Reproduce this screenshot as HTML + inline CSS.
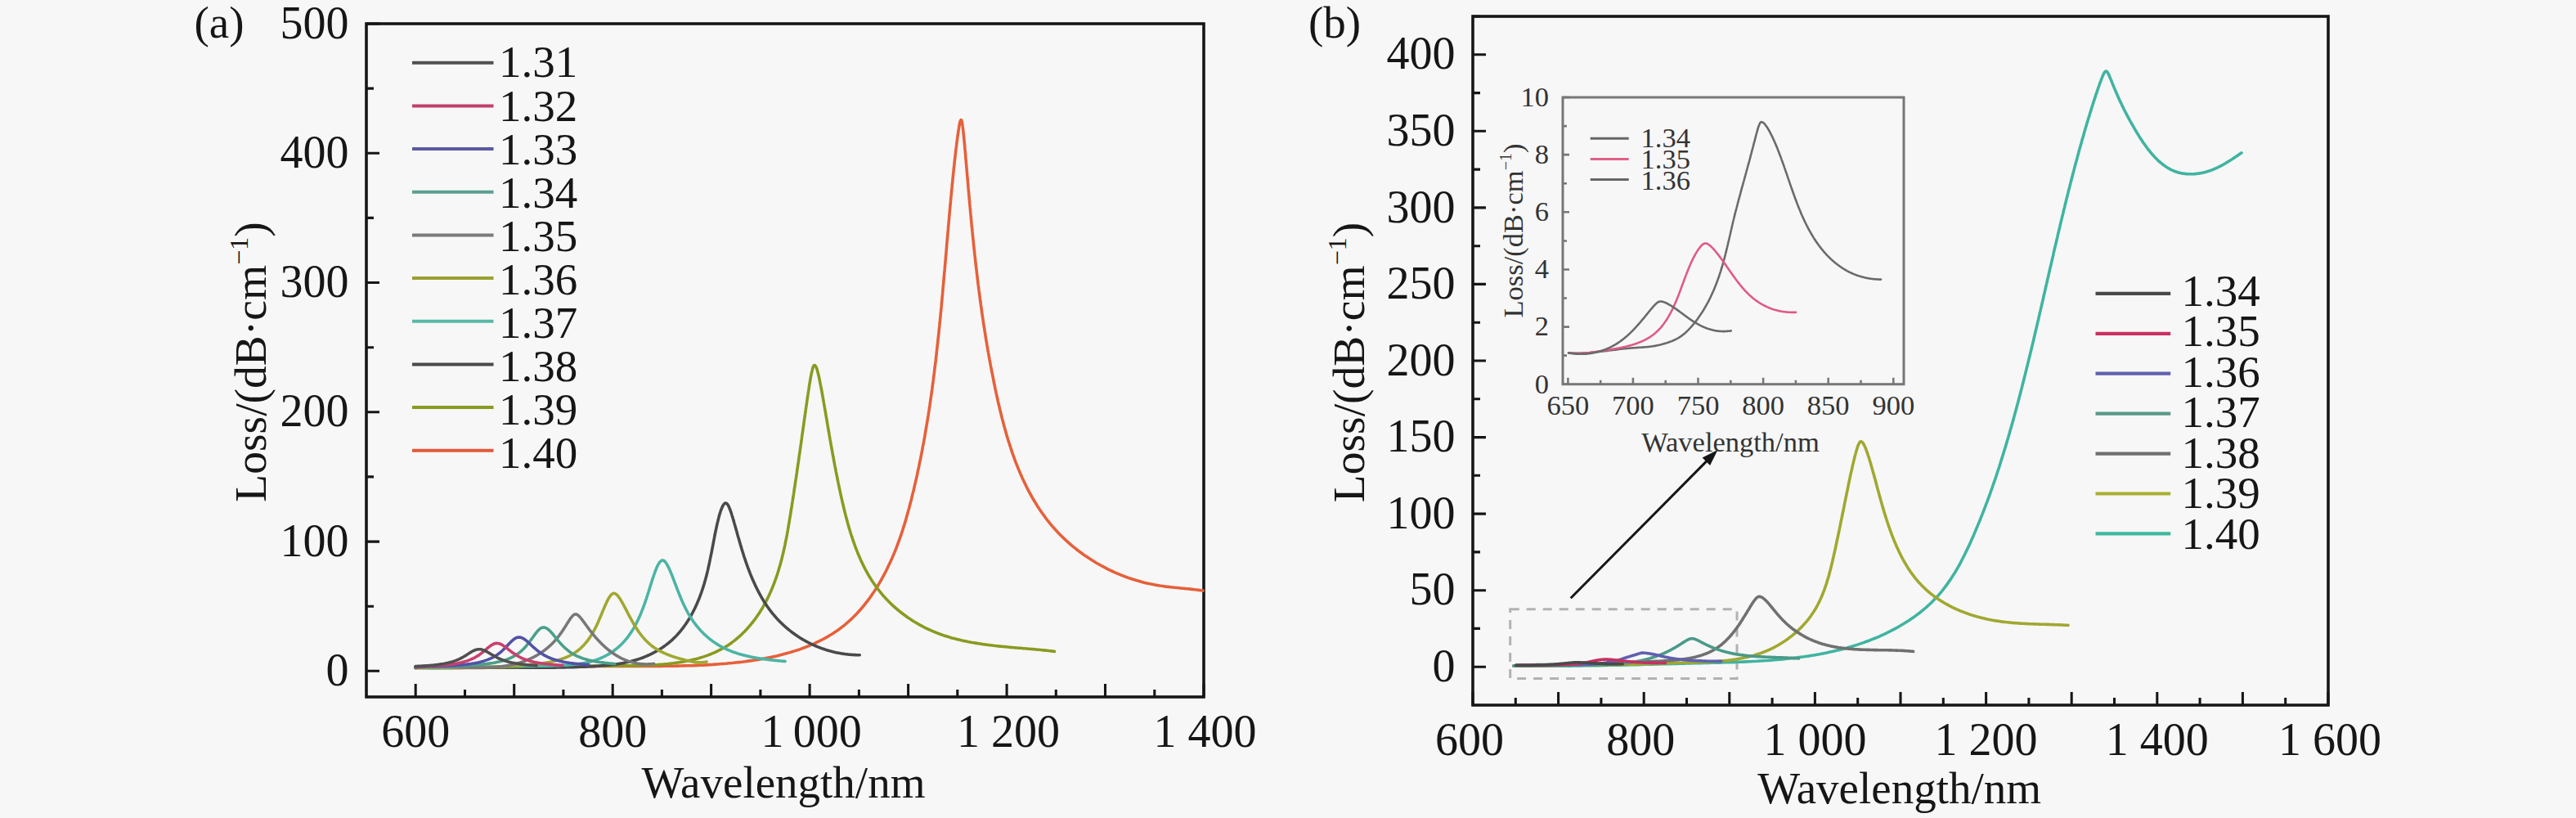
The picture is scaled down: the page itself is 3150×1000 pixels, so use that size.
<!DOCTYPE html><html><head><meta charset="utf-8"><style>html,body{margin:0;padding:0;background:#f7f7f7;width:3150px;height:1000px;overflow:hidden}svg{display:block}</style></head><body>
<svg width="3150" height="1000" viewBox="0 0 3150 1000" font-family="'Liberation Serif', serif">
<rect width="3150" height="1000" fill="#f7f7f7"/>
<rect x="448" y="29" width="1024" height="823" fill="none" stroke="#161616" stroke-width="3.6"/>
<path d="M508.2 852V836.0M568.5 852V843.0M628.7 852V836.0M688.9 852V843.0M749.2 852V836.0M809.4 852V843.0M869.6 852V836.0M929.9 852V843.0M990.1 852V836.0M1050.4 852V843.0M1110.6 852V836.0M1170.8 852V843.0M1231.1 852V836.0M1291.3 852V843.0M1351.5 852V836.0M1411.8 852V843.0M1472.0 852V836.0M448 820.3H464.0M448 741.2H457.0M448 662.1H464.0M448 582.9H457.0M448 503.8H464.0M448 424.7H457.0M448 345.5H464.0M448 266.4H457.0M448 187.3H464.0M448 108.1H457.0M448 29.0H464.0" stroke="#161616" stroke-width="3.06" fill="none"/>
<text x="508.2" y="912.5" font-size="56" text-anchor="middle" fill="#161616">600</text>
<text x="749.2" y="912.5" font-size="56" text-anchor="middle" fill="#161616">800</text>
<text x="992.1" y="912.5" font-size="56" text-anchor="middle" fill="#161616">1&#x2009;000</text>
<text x="1233.1" y="912.5" font-size="56" text-anchor="middle" fill="#161616">1 200</text>
<text x="1473.5" y="912.5" font-size="56" text-anchor="middle" fill="#161616">1 400</text>
<text x="426.5" y="838.0" font-size="56" text-anchor="end" fill="#161616">0</text>
<text x="426.5" y="679.7" font-size="56" text-anchor="end" fill="#161616">100</text>
<text x="426.5" y="521.4" font-size="56" text-anchor="end" fill="#161616">200</text>
<text x="426.5" y="363.2" font-size="56" text-anchor="end" fill="#161616">300</text>
<text x="426.5" y="204.9" font-size="56" text-anchor="end" fill="#161616">400</text>
<text x="426.5" y="46.6" font-size="56" text-anchor="end" fill="#161616">500</text>
<text x="237.5" y="46" font-size="55" fill="#161616">(a)</text>
<text x="958" y="975" font-size="55" text-anchor="middle" fill="#161616">Wavelength/nm</text>
<text transform="translate(325,442.5) rotate(-90)" x="0" y="0" font-size="55.5" text-anchor="middle" fill="#161616">Loss/(dB·cm<tspan font-size="32" dy="-22.2">−1</tspan><tspan dy="22.2">)</tspan></text>
<rect x="1801" y="20" width="1046" height="842" fill="none" stroke="#161616" stroke-width="3.6"/>
<path d="M1801.0 862V846.0M1853.3 862V853.0M1905.6 862V846.0M1957.9 862V853.0M2010.2 862V846.0M2062.5 862V853.0M2114.8 862V846.0M2167.1 862V853.0M2219.4 862V846.0M2271.7 862V853.0M2324.0 862V846.0M2376.3 862V853.0M2428.6 862V846.0M2480.9 862V853.0M2533.2 862V846.0M2585.5 862V853.0M2637.8 862V846.0M2690.1 862V853.0M2742.4 862V846.0M2794.7 862V853.0M2847.0 862V846.0M1801 815.2H1817.0M1801 768.4H1810.0M1801 721.7H1817.0M1801 674.9H1810.0M1801 628.1H1817.0M1801 581.3H1810.0M1801 534.6H1817.0M1801 487.8H1810.0M1801 441.0H1817.0M1801 394.2H1810.0M1801 347.4H1817.0M1801 300.7H1810.0M1801 253.9H1817.0M1801 207.1H1810.0M1801 160.3H1817.0M1801 113.6H1810.0M1801 66.8H1817.0M1801 20.0H1810.0" stroke="#161616" stroke-width="3.06" fill="none"/>
<text x="1797.0" y="922.5" font-size="56" text-anchor="middle" fill="#161616">600</text>
<text x="2006.2" y="922.5" font-size="56" text-anchor="middle" fill="#161616">800</text>
<text x="2219.4" y="922.5" font-size="56" text-anchor="middle" fill="#161616">1 000</text>
<text x="2428.6" y="922.5" font-size="56" text-anchor="middle" fill="#161616">1 200</text>
<text x="2637.8" y="922.5" font-size="56" text-anchor="middle" fill="#161616">1 400</text>
<text x="2849.0" y="922.5" font-size="56" text-anchor="middle" fill="#161616">1 600</text>
<text x="1779.5" y="832.9" font-size="56" text-anchor="end" fill="#161616">0</text>
<text x="1779.5" y="739.3" font-size="56" text-anchor="end" fill="#161616">50</text>
<text x="1779.5" y="645.8" font-size="56" text-anchor="end" fill="#161616">100</text>
<text x="1779.5" y="552.2" font-size="56" text-anchor="end" fill="#161616">150</text>
<text x="1779.5" y="458.6" font-size="56" text-anchor="end" fill="#161616">200</text>
<text x="1779.5" y="365.1" font-size="56" text-anchor="end" fill="#161616">250</text>
<text x="1779.5" y="271.5" font-size="56" text-anchor="end" fill="#161616">300</text>
<text x="1779.5" y="178.0" font-size="56" text-anchor="end" fill="#161616">350</text>
<text x="1779.5" y="84.4" font-size="56" text-anchor="end" fill="#161616">400</text>
<text x="1600" y="46" font-size="55" fill="#161616">(b)</text>
<text x="2322.6" y="981.5" font-size="55" text-anchor="middle" fill="#161616">Wavelength/nm</text>
<text transform="translate(1668,443) rotate(-90)" x="0" y="0" font-size="55.5" text-anchor="middle" fill="#161616">Loss/(dB·cm<tspan font-size="32" dy="-22.2">−1</tspan><tspan dy="22.2">)</tspan></text>
<rect x="1911" y="119" width="417" height="350.7" fill="none" stroke="#777777" stroke-width="3.0"/>
<path d="M1917.4 469.7V461.7M1957.2 469.7V464.7M1996.9 469.7V461.7M2036.7 469.7V464.7M2076.5 469.7V461.7M2116.3 469.7V464.7M2156.1 469.7V461.7M2195.9 469.7V464.7M2235.7 469.7V461.7M2275.5 469.7V464.7M2315.3 469.7V461.7M1911 469.7H1919.0M1911 434.6H1916.0M1911 399.6H1919.0M1911 364.5H1916.0M1911 329.4H1919.0M1911 294.4H1916.0M1911 259.3H1919.0M1911 224.2H1916.0M1911 189.1H1919.0M1911 154.1H1916.0M1911 119.0H1919.0" stroke="#777777" stroke-width="2.55" fill="none"/>
<text x="1917.4" y="507" font-size="34.5" text-anchor="middle" fill="#333333">650</text>
<text x="1996.9" y="507" font-size="34.5" text-anchor="middle" fill="#333333">700</text>
<text x="2076.5" y="507" font-size="34.5" text-anchor="middle" fill="#333333">750</text>
<text x="2156.1" y="507" font-size="34.5" text-anchor="middle" fill="#333333">800</text>
<text x="2235.7" y="507" font-size="34.5" text-anchor="middle" fill="#333333">850</text>
<text x="2315.3" y="507" font-size="34.5" text-anchor="middle" fill="#333333">900</text>
<text x="1894" y="480.6" font-size="34.5" text-anchor="end" fill="#333333">0</text>
<text x="1894" y="410.4" font-size="34.5" text-anchor="end" fill="#333333">2</text>
<text x="1894" y="340.3" font-size="34.5" text-anchor="end" fill="#333333">4</text>
<text x="1894" y="270.1" font-size="34.5" text-anchor="end" fill="#333333">6</text>
<text x="1894" y="200.0" font-size="34.5" text-anchor="end" fill="#333333">8</text>
<text x="1894" y="129.9" font-size="34.5" text-anchor="end" fill="#333333">10</text>
<text x="2116" y="551.5" font-size="34.5" text-anchor="middle" fill="#333333">Wavelength/nm</text>
<text transform="translate(1862,282) rotate(-90)" x="0" y="0" font-size="34.5" text-anchor="middle" fill="#333333">Loss/(dB·cm<tspan font-size="20" dy="-13.8">−1</tspan><tspan dy="13.8">)</tspan></text>
<rect x="1846.7" y="744.8" width="277.3" height="84.8" fill="none" stroke="#b2b2b2" stroke-width="3" stroke-dasharray="11 9"/>
<line x1="1920.7" y1="731.2" x2="2088" y2="562.6" stroke="#161616" stroke-width="3"/>
<path d="M2100.5 550 L2081.6 559.6 L2091.1 568.9 Z" fill="#161616"/>
<path d="M508.0 816.4L512.4 816.4L516.8 816.5L521.2 816.5L525.6 816.6L530.0 816.6L534.4 816.6L538.8 816.6L543.2 816.6L547.6 816.6L552.0 816.6L556.4 816.6L560.7 816.6L565.1 816.6L569.5 816.5L573.8 816.5L578.2 816.5L582.5 816.4L586.9 816.4L591.2 816.4L595.6 816.3L599.9 816.3L604.2 816.2L608.5 816.2L612.9 816.1L617.2 816.0L621.5 816.0L625.8 815.9L630.0 815.9L634.3 815.8L638.6 815.7L642.9 815.7L647.2 815.6L651.4 815.5L655.7 815.5L659.9 815.4L664.2 815.3L668.4 815.3L672.6 815.2L676.9 815.2L681.1 815.1L685.3 815.0L689.5 815.0L693.7 814.9L697.9 814.9L702.1 814.8L706.2 814.8L710.4 814.7L714.6 814.7L718.7 814.6L722.9 814.6L727.0 814.6L731.1 814.5L735.3 814.5L739.4 814.5L743.5 814.5L747.6 814.4L751.7 814.4L755.8 814.4L759.8 814.4L763.9 814.4L768.0 814.4L772.0 814.4L776.1 814.4L780.1 814.4L784.2 814.4L788.2 814.4L792.2 814.4L796.2 814.4L800.2 814.4L804.3 814.4L808.3 814.4L812.3 814.3L816.3 814.3L820.2 814.3L824.2 814.2L828.2 814.1L832.2 814.0L836.2 813.9L840.1 813.8L844.1 813.7L848.1 813.6L852.0 813.4L856.0 813.2L860.0 813.1L863.9 812.9L867.9 812.6L871.8 812.4L875.8 812.1L879.7 811.8L883.7 811.5L887.6 811.2L891.6 810.8L895.5 810.5L899.5 810.0L903.4 809.6L907.3 809.2L911.2 808.7L915.1 808.1L919.0 807.6L922.9 807.0L926.8 806.4L930.6 805.7L934.5 805.0L938.3 804.3L942.1 803.6L945.9 802.7L949.6 801.9L953.3 801.0L957.0 800.1L960.7 799.1L964.3 798.1L967.9 797.0L971.5 795.9L975.1 794.8L978.6 793.6L982.1 792.3L985.5 791.0L988.9 789.6L992.3 788.2L995.6 786.8L998.9 785.2L1002.1 783.7L1005.3 782.0L1008.5 780.4L1011.6 778.6L1014.6 776.8L1017.6 775.0L1020.6 773.0L1023.5 771.1L1026.4 769.0L1029.2 766.9L1031.9 764.8L1034.6 762.5L1037.3 760.2L1039.9 757.9L1042.4 755.5L1044.9 753.0L1047.4 750.5L1049.7 748.0L1052.1 745.3L1054.4 742.7L1056.6 740.0L1058.8 737.2L1061.0 734.4L1063.1 731.6L1065.1 728.7L1067.1 725.8L1069.1 722.9L1071.0 719.9L1072.9 717.0L1074.7 713.9L1076.5 710.9L1078.2 707.8L1079.9 704.7L1081.6 701.6L1083.2 698.5L1084.8 695.3L1086.3 692.1L1087.8 689.0L1089.3 685.8L1090.7 682.6L1092.1 679.4L1093.5 676.1L1094.8 672.9L1096.1 669.7L1097.3 666.4L1098.5 663.2L1099.7 660.0L1100.8 656.7L1102.0 653.5L1103.0 650.3L1104.1 647.1L1105.1 643.8L1106.1 640.6L1107.1 637.4L1108.0 634.2L1108.9 631.0L1109.8 627.8L1110.7 624.6L1111.6 621.4L1112.4 618.2L1113.2 615.0L1114.1 611.9L1114.9 608.7L1115.6 605.5L1116.4 602.4L1117.2 599.2L1117.9 596.1L1118.6 592.9L1119.4 589.8L1120.1 586.7L1120.8 583.6L1121.5 580.4L1122.1 577.3L1122.8 574.2L1123.5 571.2L1124.1 568.1L1124.7 565.0L1125.4 561.9L1126.0 558.9L1126.6 555.8L1127.2 552.8L1127.8 549.7L1128.3 546.7L1128.9 543.6L1129.5 540.6L1130.0 537.6L1130.6 534.6L1131.1 531.6L1131.6 528.6L1132.1 525.6L1132.6 522.6L1133.1 519.7L1133.6 516.7L1134.1 513.7L1134.6 510.8L1135.1 507.8L1135.5 504.9L1136.0 502.0L1136.4 499.0L1136.9 496.1L1137.3 493.2L1137.7 490.3L1138.1 487.4L1138.6 484.5L1139.0 481.6L1139.4 478.7L1139.8 475.9L1140.1 473.0L1140.5 470.2L1140.9 467.3L1141.3 464.5L1141.6 461.6L1142.0 458.8L1142.4 456.0L1142.7 453.2L1143.0 450.4L1143.4 447.6L1143.7 444.8L1144.1 442.0L1144.4 439.2L1144.7 436.5L1145.0 433.7L1145.3 431.0L1145.6 428.2L1145.9 425.5L1146.2 422.8L1146.5 420.1L1146.8 417.4L1147.1 414.7L1147.4 412.0L1147.7 409.3L1148.0 406.6L1148.2 404.0L1148.5 401.3L1148.8 398.7L1149.0 396.0L1149.3 393.4L1149.6 390.8L1149.8 388.2L1150.1 385.6L1150.3 383.0L1150.6 380.4L1150.8 377.8L1151.1 375.2L1151.3 372.7L1151.5 370.1L1151.8 367.6L1152.0 365.1L1152.2 362.5L1152.5 360.0L1152.7 357.5L1152.9 355.0L1153.1 352.6L1153.3 350.1L1153.6 347.6L1153.8 345.2L1154.0 342.7L1154.2 340.3L1154.4 337.9L1154.6 335.5L1154.8 333.1L1155.1 330.7L1155.3 328.3L1155.5 325.9L1155.7 323.5L1155.9 321.2L1156.1 318.9L1156.3 316.5L1156.5 314.2L1156.7 311.9L1156.9 309.6L1157.1 307.3L1157.3 305.0L1157.5 302.8L1157.6 300.5L1157.8 298.3L1158.0 296.0L1158.2 293.8L1158.4 291.6L1158.6 289.4L1158.8 287.2L1159.0 285.0L1159.2 282.9L1159.4 280.7L1159.5 278.6L1159.7 276.4L1159.9 274.3L1160.1 272.2L1160.3 270.1L1160.5 268.0L1160.6 265.9L1160.8 263.9L1161.0 261.8L1161.2 259.8L1161.4 257.8L1161.6 255.8L1161.7 253.8L1161.9 251.8L1162.1 249.8L1162.3 247.8L1162.5 245.9L1162.6 243.9L1162.8 242.0L1163.0 240.1L1163.2 238.2L1163.4 236.3L1163.5 234.5L1163.7 232.6L1163.9 230.7L1164.1 228.9L1164.2 227.1L1164.4 225.3L1164.6 223.5L1164.8 221.7L1164.9 220.0L1165.1 218.2L1165.3 216.5L1165.5 214.8L1165.6 213.1L1165.8 211.4L1166.0 209.7L1166.2 208.0L1166.3 206.4L1166.5 204.8L1166.7 203.1L1166.9 201.5L1167.0 200.0L1167.2 198.4L1167.4 196.8L1167.5 195.3L1167.7 193.8L1167.9 192.3L1168.0 190.8L1168.2 189.3L1168.4 187.9L1168.5 186.4L1168.7 185.0L1168.9 183.6L1169.0 182.2L1169.2 180.8L1169.4 179.5L1169.5 178.2L1169.7 176.9L1169.8 175.6L1170.0 174.3L1170.2 173.0L1170.3 171.8L1170.5 170.6L1170.6 169.4L1170.8 168.2L1170.9 167.1L1171.1 165.9L1171.3 164.8L1171.4 163.7L1171.6 162.7L1171.7 161.6L1171.9 160.6L1172.0 159.6L1172.2 158.6L1172.3 157.7L1172.5 156.8L1172.6 155.9L1172.7 155.0L1172.9 154.2L1173.0 153.4L1173.2 152.6L1173.3 151.8L1173.5 151.1L1173.6 150.5L1173.8 149.8L1173.9 149.2L1174.3 148.1L1174.6 147.3L1175.0 146.6L1175.6 146.8L1175.9 147.5L1176.1 148.2L1176.3 149.0L1176.5 149.8L1176.6 150.8L1176.8 151.8L1177.0 152.9L1177.1 154.0L1177.2 154.7L1177.3 155.3L1177.4 155.9L1177.4 156.6L1177.5 157.2L1177.6 157.9L1177.7 158.6L1177.8 159.3L1177.8 160.0L1177.9 160.7L1178.0 161.5L1178.1 162.2L1178.2 163.0L1178.2 163.8L1178.3 164.6L1178.4 165.4L1178.5 166.2L1178.6 167.0L1178.6 167.8L1178.7 168.7L1178.8 169.5L1178.9 170.4L1179.0 171.3L1179.1 172.2L1179.1 173.1L1179.2 174.0L1179.3 174.9L1179.4 175.8L1179.5 176.8L1179.6 177.7L1179.7 178.7L1179.8 179.6L1179.8 180.6L1179.9 181.6L1180.0 182.6L1180.1 183.6L1180.2 184.6L1180.3 185.6L1180.4 186.7L1180.5 187.7L1180.6 188.7L1180.7 189.8L1180.7 190.9L1180.8 191.9L1180.9 193.0L1181.0 194.1L1181.1 195.2L1181.2 196.3L1181.3 197.4L1181.4 198.5L1181.5 199.7L1181.6 200.8L1181.7 202.0L1181.8 203.1L1181.9 204.3L1182.0 205.4L1182.1 206.6L1182.2 207.8L1182.3 209.0L1182.4 210.2L1182.5 211.4L1182.6 212.6L1182.7 213.8L1182.8 215.1L1182.9 216.3L1183.0 217.6L1183.1 218.8L1183.3 220.1L1183.4 221.3L1183.5 222.6L1183.6 223.9L1183.7 225.2L1183.8 226.5L1183.9 227.8L1184.0 229.1L1184.1 230.4L1184.3 231.7L1184.4 233.0L1184.5 234.4L1184.6 235.7L1184.7 237.0L1184.9 238.4L1185.0 239.8L1185.1 241.1L1185.2 242.5L1185.3 243.9L1185.5 245.3L1185.6 246.6L1185.7 248.0L1185.8 249.4L1186.0 250.9L1186.1 252.3L1186.2 253.7L1186.4 255.1L1186.5 256.6L1186.6 258.0L1186.7 259.4L1186.9 260.9L1187.0 262.4L1187.2 263.8L1187.3 265.3L1187.4 266.8L1187.6 268.2L1187.7 269.7L1187.8 271.2L1188.0 272.7L1188.1 274.2L1188.3 275.8L1188.4 277.3L1188.6 278.8L1188.7 280.3L1188.9 281.9L1189.0 283.4L1189.2 284.9L1189.3 286.5L1189.5 288.1L1189.6 289.6L1189.8 291.2L1190.0 292.8L1190.1 294.3L1190.3 295.9L1190.4 297.5L1190.6 299.1L1190.8 300.7L1190.9 302.3L1191.1 303.9L1191.3 305.6L1191.5 307.2L1191.6 308.8L1191.8 310.4L1192.0 312.1L1192.2 313.7L1192.4 315.4L1192.5 317.0L1192.7 318.7L1192.9 320.4L1193.1 322.0L1193.3 323.7L1193.5 325.4L1193.7 327.1L1193.9 328.8L1194.1 330.5L1194.3 332.2L1194.5 333.9L1194.7 335.6L1194.9 337.3L1195.1 339.0L1195.3 340.8L1195.5 342.5L1195.7 344.2L1195.9 346.0L1196.1 347.7L1196.4 349.5L1196.6 351.2L1196.8 353.0L1197.0 354.8L1197.3 356.5L1197.5 358.3L1197.7 360.1L1198.0 361.9L1198.2 363.7L1198.4 365.5L1198.7 367.3L1198.9 369.1L1199.2 370.9L1199.4 372.7L1199.7 374.6L1199.9 376.4L1200.2 378.2L1200.4 380.1L1200.7 381.9L1201.0 383.8L1201.2 385.6L1201.5 387.5L1201.8 389.3L1202.1 391.2L1202.3 393.1L1202.6 395.0L1202.9 396.8L1203.2 398.7L1203.5 400.6L1203.8 402.5L1204.1 404.4L1204.4 406.3L1204.7 408.2L1205.0 410.2L1205.3 412.1L1205.6 414.0L1205.9 415.9L1206.3 417.9L1206.6 419.8L1206.9 421.8L1207.3 423.7L1207.6 425.7L1207.9 427.6L1208.3 429.6L1208.6 431.6L1209.0 433.5L1209.3 435.5L1209.7 437.5L1210.0 439.5L1210.4 441.5L1210.8 443.5L1211.1 445.5L1211.5 447.5L1211.9 449.5L1212.3 451.5L1212.7 453.6L1213.1 455.6L1213.5 457.6L1213.9 459.7L1214.3 461.7L1214.7 463.7L1215.1 465.8L1215.5 467.9L1215.9 469.9L1216.4 472.0L1216.8 474.1L1217.2 476.1L1217.7 478.2L1218.1 480.3L1218.6 482.4L1219.0 484.5L1219.5 486.6L1220.0 488.7L1220.4 490.8L1220.9 492.9L1221.4 495.0L1221.9 497.1L1222.4 499.2L1222.9 501.4L1223.4 503.5L1223.9 505.6L1224.5 507.7L1225.0 509.9L1225.5 512.0L1226.1 514.1L1226.7 516.3L1227.2 518.4L1227.8 520.6L1228.4 522.7L1229.0 524.8L1229.6 527.0L1230.2 529.1L1230.8 531.3L1231.4 533.4L1232.1 535.6L1232.7 537.7L1233.4 539.9L1234.1 542.0L1234.8 544.1L1235.5 546.3L1236.2 548.4L1236.9 550.6L1237.6 552.7L1238.3 554.8L1239.1 557.0L1239.9 559.1L1240.6 561.2L1241.4 563.4L1242.2 565.5L1243.1 567.6L1243.9 569.7L1244.7 571.8L1245.6 573.9L1246.5 576.0L1247.4 578.1L1248.3 580.2L1249.2 582.3L1250.1 584.4L1251.1 586.5L1252.1 588.6L1253.1 590.6L1254.1 592.7L1255.1 594.8L1256.1 596.8L1257.2 598.9L1258.2 600.9L1259.3 602.9L1260.4 604.9L1261.6 607.0L1262.7 609.0L1263.9 611.0L1265.1 613.0L1266.3 614.9L1267.5 616.9L1268.7 618.9L1270.0 620.8L1271.3 622.8L1272.6 624.7L1273.9 626.6L1275.3 628.5L1276.7 630.4L1278.1 632.3L1279.5 634.2L1280.9 636.1L1282.4 637.9L1283.9 639.8L1285.4 641.6L1286.9 643.4L1288.5 645.2L1290.1 647.0L1291.7 648.8L1293.3 650.5L1295.0 652.3L1296.7 654.0L1298.4 655.7L1300.2 657.4L1301.9 659.1L1303.7 660.8L1305.5 662.4L1307.4 664.1L1309.2 665.7L1311.1 667.3L1313.0 668.9L1315.0 670.4L1316.9 672.0L1318.9 673.5L1320.9 675.0L1323.0 676.5L1325.0 678.0L1327.1 679.4L1329.2 680.8L1331.3 682.2L1333.4 683.6L1335.6 685.0L1337.7 686.3L1339.9 687.7L1342.1 689.0L1344.4 690.2L1346.6 691.5L1348.9 692.7L1351.2 693.9L1353.5 695.1L1355.8 696.3L1358.1 697.4L1360.5 698.5L1362.8 699.6L1365.2 700.6L1367.6 701.6L1370.0 702.6L1372.4 703.6L1374.9 704.6L1377.3 705.5L1379.8 706.4L1382.3 707.2L1384.7 708.0L1387.2 708.8L1389.8 709.6L1392.3 710.3L1394.8 711.0L1397.4 711.7L1399.9 712.4L1402.5 713.0L1405.0 713.6L1407.6 714.1L1410.2 714.6L1412.8 715.1L1415.4 715.5L1418.0 716.0L1420.6 716.3L1423.2 716.7L1425.9 717.1L1428.5 717.4L1431.1 717.7L1433.8 718.0L1436.4 718.3L1439.1 718.5L1441.7 718.8L1444.4 719.1L1447.0 719.3L1449.7 719.6L1452.4 719.8L1455.0 720.1L1457.7 720.4L1460.4 720.7L1463.1 721.0L1465.7 721.4L1468.4 721.7L1471.1 722.1" fill="none" stroke="#e6603a" stroke-width="3.6" stroke-linejoin="round" stroke-linecap="round"/>
<path d="M508.0 816.4L510.8 816.4L513.6 816.4L516.4 816.4L519.2 816.4L522.1 816.3L524.9 816.3L527.7 816.3L530.5 816.3L533.3 816.3L536.1 816.3L538.9 816.3L541.6 816.3L544.4 816.3L547.2 816.3L550.0 816.3L552.8 816.3L555.6 816.2L558.3 816.2L561.1 816.2L563.9 816.2L566.6 816.2L569.4 816.2L572.2 816.2L574.9 816.2L577.7 816.2L580.4 816.2L583.2 816.2L585.9 816.1L588.6 816.1L591.4 816.1L594.1 816.1L596.8 816.1L599.5 816.1L602.3 816.1L605.0 816.1L607.7 816.0L610.4 816.0L613.1 816.0L615.8 816.0L618.5 816.0L621.2 816.0L623.9 815.9L626.6 815.9L629.2 815.9L631.9 815.9L634.6 815.8L637.2 815.8L639.9 815.8L642.5 815.8L645.2 815.7L647.8 815.7L650.5 815.7L653.1 815.6L655.7 815.6L658.4 815.6L661.0 815.5L663.6 815.5L666.2 815.4L668.8 815.4L671.4 815.4L674.0 815.3L676.6 815.3L679.2 815.2L681.8 815.2L684.3 815.1L686.9 815.1L689.5 815.0L692.0 815.0L694.6 814.9L697.1 814.9L699.7 814.8L702.2 814.8L704.8 814.7L707.3 814.7L709.8 814.6L712.4 814.6L714.9 814.5L717.4 814.4L719.9 814.4L722.4 814.3L725.0 814.3L727.5 814.3L730.0 814.2L732.5 814.2L735.0 814.1L737.5 814.1L740.0 814.0L742.5 814.0L745.0 814.0L747.6 813.9L750.1 813.9L752.6 813.9L755.1 813.8L757.6 813.8L760.1 813.8L762.6 813.8L765.1 813.7L767.6 813.7L770.1 813.7L772.5 813.7L775.0 813.6L777.5 813.6L780.0 813.5L782.5 813.5L785.0 813.4L787.4 813.3L789.9 813.3L792.4 813.2L794.8 813.1L797.3 813.0L799.7 812.8L802.1 812.7L804.6 812.6L807.0 812.4L809.4 812.2L811.8 812.0L814.2 811.8L816.6 811.6L819.0 811.3L821.4 811.0L823.8 810.7L826.1 810.4L828.5 810.1L830.8 809.7L833.2 809.4L835.5 809.0L837.8 808.5L840.1 808.1L842.4 807.6L844.7 807.1L847.0 806.6L849.2 806.0L851.5 805.5L853.7 804.9L855.9 804.2L858.1 803.6L860.3 802.9L862.5 802.1L864.6 801.4L866.7 800.6L868.8 799.8L870.9 798.9L873.0 798.1L875.0 797.2L877.0 796.2L879.0 795.2L881.0 794.2L882.9 793.2L884.8 792.1L886.7 791.0L888.6 789.9L890.4 788.7L892.2 787.5L894.0 786.2L895.7 784.9L897.5 783.6L899.1 782.3L900.8 780.9L902.5 779.5L904.1 778.1L905.7 776.7L907.2 775.2L908.7 773.7L910.3 772.2L911.7 770.7L913.2 769.1L914.6 767.5L916.0 765.9L917.4 764.3L918.7 762.7L920.1 761.0L921.4 759.4L922.7 757.7L923.9 756.0L925.1 754.3L926.3 752.6L927.5 750.8L928.7 749.1L929.8 747.3L930.9 745.5L932.0 743.8L933.0 742.0L934.0 740.2L935.0 738.4L936.0 736.6L937.0 734.7L937.9 732.9L938.8 731.1L939.7 729.2L940.6 727.4L941.4 725.5L942.3 723.7L943.1 721.8L943.9 720.0L944.6 718.1L945.4 716.2L946.1 714.3L946.8 712.5L947.5 710.6L948.2 708.7L948.9 706.8L949.5 704.9L950.2 703.0L950.8 701.2L951.4 699.3L952.0 697.4L952.5 695.5L953.1 693.6L953.6 691.7L954.2 689.8L954.7 687.9L955.2 686.0L955.7 684.1L956.2 682.2L956.6 680.3L957.1 678.4L957.6 676.5L958.0 674.7L958.4 672.8L958.8 670.9L959.3 669.0L959.7 667.1L960.1 665.3L960.4 663.4L960.8 661.5L961.2 659.7L961.6 657.8L961.9 655.9L962.3 654.1L962.6 652.2L962.9 650.4L963.3 648.6L963.6 646.7L963.9 644.9L964.2 643.1L964.5 641.2L964.8 639.4L965.2 637.6L965.4 635.8L965.7 634.0L966.0 632.2L966.3 630.5L966.6 628.7L966.9 626.9L967.2 625.1L967.4 623.4L967.7 621.6L968.0 619.9L968.3 618.2L968.5 616.4L968.8 614.7L969.1 613.0L969.3 611.3L969.6 609.6L969.9 607.9L970.1 606.2L970.4 604.5L970.6 602.9L970.9 601.2L971.1 599.5L971.4 597.9L971.6 596.3L971.9 594.6L972.1 593.0L972.4 591.4L972.6 589.7L972.8 588.1L973.1 586.5L973.3 584.9L973.6 583.3L973.8 581.8L974.0 580.2L974.3 578.6L974.5 577.1L974.7 575.5L974.9 574.0L975.2 572.4L975.4 570.9L975.6 569.3L975.8 567.8L976.0 566.3L976.3 564.8L976.5 563.3L976.7 561.8L976.9 560.3L977.1 558.8L977.3 557.4L977.5 555.9L977.8 554.4L978.0 553.0L978.2 551.5L978.4 550.1L978.6 548.6L978.8 547.2L979.0 545.8L979.2 544.4L979.4 543.0L979.6 541.6L979.8 540.2L980.0 538.8L980.2 537.4L980.4 536.0L980.5 534.7L980.7 533.3L980.9 532.0L981.1 530.6L981.3 529.3L981.5 527.9L981.7 526.6L981.9 525.3L982.0 524.0L982.2 522.7L982.4 521.4L982.6 520.1L982.8 518.8L982.9 517.6L983.1 516.3L983.3 515.0L983.5 513.8L983.6 512.5L983.8 511.3L984.0 510.1L984.2 508.9L984.3 507.6L984.5 506.4L984.7 505.2L984.8 504.0L985.0 502.9L985.2 501.7L985.3 500.5L985.5 499.4L985.7 498.2L985.8 497.1L986.0 495.9L986.2 494.8L986.3 493.7L986.5 492.6L986.6 491.5L986.8 490.4L986.9 489.3L987.1 488.2L987.3 487.2L987.4 486.1L987.6 485.1L987.7 484.0L987.9 483.0L988.0 482.0L988.2 481.0L988.3 480.0L988.5 479.0L988.6 478.0L988.8 477.0L988.9 476.1L989.1 475.1L989.2 474.2L989.3 473.2L989.5 472.3L989.6 471.4L989.8 470.5L989.9 469.6L990.1 468.7L990.2 467.9L990.4 467.0L990.5 466.2L990.6 465.3L990.8 464.5L990.9 463.7L991.1 462.9L991.2 462.1L991.3 461.4L991.5 460.6L991.6 459.8L991.8 459.1L991.9 458.4L992.0 457.7L992.2 457.0L992.3 456.3L992.4 455.7L992.6 455.0L992.7 454.4L992.9 453.8L993.2 452.6L993.4 451.5L993.7 450.5L994.0 449.5L994.3 448.7L994.7 447.9L995.0 447.3L995.7 446.6L996.3 446.6L996.9 447.0L997.4 447.7L997.9 448.6L998.2 449.2L998.5 449.9L998.7 450.7L999.0 451.5L999.3 452.4L999.5 453.3L999.8 454.2L1000.1 455.2L1000.3 456.2L1000.6 457.2L1000.8 458.3L1001.1 459.5L1001.4 460.6L1001.6 461.8L1001.8 462.4L1001.9 463.0L1002.0 463.6L1002.1 464.3L1002.3 464.9L1002.4 465.5L1002.5 466.2L1002.7 466.9L1002.8 467.5L1002.9 468.2L1003.1 468.9L1003.2 469.6L1003.4 470.2L1003.5 470.9L1003.6 471.6L1003.8 472.4L1003.9 473.1L1004.0 473.8L1004.2 474.5L1004.3 475.3L1004.4 476.0L1004.6 476.8L1004.7 477.5L1004.9 478.3L1005.0 479.0L1005.1 479.8L1005.3 480.6L1005.4 481.4L1005.6 482.2L1005.7 483.0L1005.9 483.8L1006.0 484.6L1006.1 485.4L1006.3 486.2L1006.4 487.0L1006.6 487.8L1006.7 488.7L1006.9 489.5L1007.0 490.4L1007.2 491.2L1007.3 492.1L1007.5 492.9L1007.6 493.8L1007.8 494.7L1007.9 495.5L1008.1 496.4L1008.2 497.3L1008.4 498.2L1008.5 499.1L1008.7 500.0L1008.8 500.9L1009.0 501.8L1009.2 502.7L1009.3 503.7L1009.5 504.6L1009.6 505.5L1009.8 506.4L1009.9 507.4L1010.1 508.3L1010.3 509.3L1010.4 510.2L1010.6 511.2L1010.8 512.2L1010.9 513.1L1011.1 514.1L1011.3 515.1L1011.4 516.1L1011.6 517.1L1011.8 518.0L1011.9 519.0L1012.1 520.0L1012.3 521.0L1012.4 522.1L1012.6 523.1L1012.8 524.1L1013.0 525.1L1013.1 526.1L1013.3 527.2L1013.5 528.2L1013.7 529.2L1013.9 530.3L1014.0 531.3L1014.2 532.4L1014.4 533.5L1014.6 534.5L1014.8 535.6L1015.0 536.7L1015.1 537.7L1015.3 538.8L1015.5 539.9L1015.7 541.0L1015.9 542.1L1016.1 543.2L1016.3 544.3L1016.5 545.4L1016.7 546.5L1016.9 547.6L1017.1 548.7L1017.3 549.8L1017.5 551.0L1017.7 552.1L1017.9 553.2L1018.1 554.4L1018.3 555.5L1018.5 556.7L1018.7 557.8L1019.0 559.0L1019.2 560.1L1019.4 561.3L1019.6 562.5L1019.8 563.7L1020.0 564.8L1020.3 566.0L1020.5 567.2L1020.7 568.4L1020.9 569.6L1021.2 570.8L1021.4 572.0L1021.6 573.2L1021.9 574.4L1022.1 575.6L1022.3 576.8L1022.6 578.1L1022.8 579.3L1023.1 580.5L1023.3 581.8L1023.6 583.0L1023.8 584.3L1024.1 585.5L1024.3 586.8L1024.6 588.0L1024.8 589.3L1025.1 590.6L1025.4 591.8L1025.6 593.1L1025.9 594.4L1026.2 595.7L1026.4 597.0L1026.7 598.3L1027.0 599.5L1027.3 600.9L1027.6 602.2L1027.8 603.5L1028.1 604.8L1028.4 606.1L1028.7 607.4L1029.0 608.8L1029.3 610.1L1029.6 611.4L1029.9 612.8L1030.2 614.1L1030.5 615.5L1030.8 616.8L1031.2 618.2L1031.5 619.5L1031.8 620.9L1032.1 622.3L1032.5 623.6L1032.8 625.0L1033.2 626.4L1033.5 627.7L1033.9 629.1L1034.2 630.5L1034.6 631.9L1034.9 633.3L1035.3 634.7L1035.7 636.1L1036.1 637.5L1036.4 638.9L1036.8 640.3L1037.2 641.7L1037.6 643.1L1038.0 644.5L1038.4 645.9L1038.9 647.3L1039.3 648.7L1039.7 650.1L1040.1 651.5L1040.6 652.9L1041.0 654.3L1041.5 655.7L1042.0 657.1L1042.4 658.5L1042.9 659.9L1043.4 661.4L1043.9 662.8L1044.4 664.2L1044.9 665.6L1045.4 667.0L1045.9 668.4L1046.4 669.8L1047.0 671.2L1047.5 672.6L1048.1 674.0L1048.6 675.4L1049.2 676.8L1049.8 678.2L1050.4 679.6L1051.0 681.0L1051.6 682.4L1052.2 683.8L1052.8 685.2L1053.5 686.6L1054.1 687.9L1054.8 689.3L1055.5 690.7L1056.1 692.1L1056.8 693.4L1057.5 694.8L1058.2 696.1L1059.0 697.5L1059.7 698.8L1060.4 700.2L1061.2 701.5L1062.0 702.9L1062.7 704.2L1063.5 705.5L1064.3 706.8L1065.2 708.2L1066.0 709.5L1066.8 710.8L1067.7 712.1L1068.6 713.4L1069.5 714.6L1070.4 715.9L1071.3 717.2L1072.2 718.4L1073.1 719.7L1074.1 720.9L1075.1 722.2L1076.1 723.4L1077.1 724.6L1078.1 725.9L1079.1 727.1L1080.1 728.3L1081.2 729.4L1082.3 730.6L1083.3 731.8L1084.4 733.0L1085.6 734.1L1086.7 735.3L1087.8 736.4L1089.0 737.5L1090.1 738.7L1091.3 739.8L1092.5 740.9L1093.7 742.0L1094.9 743.0L1096.2 744.1L1097.4 745.2L1098.7 746.2L1100.0 747.3L1101.2 748.3L1102.5 749.3L1103.8 750.3L1105.2 751.3L1106.5 752.3L1107.9 753.3L1109.2 754.2L1110.6 755.2L1112.0 756.1L1113.4 757.1L1114.8 758.0L1116.2 758.9L1117.6 759.8L1119.1 760.7L1120.6 761.5L1122.0 762.4L1123.5 763.2L1125.0 764.1L1126.5 764.9L1128.0 765.7L1129.5 766.5L1131.1 767.3L1132.6 768.0L1134.2 768.8L1135.8 769.5L1137.3 770.2L1138.9 770.9L1140.5 771.6L1142.2 772.3L1143.8 773.0L1145.4 773.6L1147.1 774.3L1148.7 774.9L1150.4 775.5L1152.0 776.1L1153.7 776.7L1155.4 777.2L1157.1 777.8L1158.8 778.3L1160.5 778.8L1162.3 779.4L1164.0 779.9L1165.7 780.3L1167.5 780.8L1169.2 781.3L1171.0 781.7L1172.8 782.1L1174.6 782.6L1176.4 783.0L1178.2 783.4L1180.0 783.7L1181.8 784.1L1183.6 784.5L1185.4 784.8L1187.2 785.2L1189.1 785.5L1190.9 785.8L1192.8 786.1L1194.6 786.4L1196.5 786.7L1198.3 787.0L1200.2 787.3L1202.1 787.6L1203.9 787.8L1205.8 788.1L1207.7 788.3L1209.6 788.6L1211.5 788.8L1213.4 789.0L1215.3 789.3L1217.2 789.5L1219.1 789.7L1221.0 789.9L1222.9 790.1L1224.8 790.3L1226.7 790.5L1228.7 790.6L1230.6 790.8L1232.5 791.0L1234.4 791.2L1236.3 791.4L1238.3 791.5L1240.2 791.7L1242.1 791.9L1244.0 792.0L1245.9 792.2L1247.9 792.3L1249.8 792.5L1251.7 792.7L1253.6 792.8L1255.5 793.0L1257.5 793.2L1259.4 793.3L1261.3 793.5L1263.2 793.6L1265.1 793.8L1267.0 794.0L1268.9 794.2L1270.8 794.3L1272.7 794.5L1274.6 794.7L1276.5 794.9L1278.3 795.1L1280.2 795.3L1282.1 795.5L1283.9 795.7L1285.8 795.9L1287.7 796.2L1289.5 796.4" fill="none" stroke="#8a9a20" stroke-width="3.6" stroke-linejoin="round" stroke-linecap="round"/>
<path d="M508.0 816.4L509.9 816.3L511.8 816.2L513.7 816.2L515.6 816.1L517.4 816.0L519.3 816.0L521.2 815.9L523.1 815.8L524.9 815.8L526.8 815.7L528.7 815.7L530.5 815.7L532.4 815.6L534.2 815.6L536.1 815.5L538.0 815.5L539.8 815.5L541.6 815.5L543.5 815.4L545.3 815.4L547.2 815.4L549.0 815.4L550.8 815.4L552.7 815.3L554.5 815.3L556.3 815.3L558.1 815.3L560.0 815.3L561.8 815.3L563.6 815.3L565.4 815.3L567.2 815.3L569.0 815.3L570.8 815.3L572.6 815.3L574.4 815.4L576.2 815.4L578.0 815.4L579.8 815.4L581.6 815.4L583.4 815.4L585.1 815.4L586.9 815.5L588.7 815.5L590.5 815.5L592.2 815.5L594.0 815.5L595.8 815.6L597.6 815.6L599.3 815.6L601.1 815.6L602.8 815.6L604.6 815.7L606.3 815.7L608.1 815.7L609.8 815.7L611.6 815.8L613.3 815.8L615.1 815.8L616.8 815.8L618.5 815.9L620.3 815.9L622.0 815.9L623.7 815.9L625.4 815.9L627.2 816.0L628.9 816.0L630.6 816.0L632.3 816.0L634.0 816.0L635.7 816.1L637.4 816.1L639.2 816.1L640.9 816.1L642.6 816.1L644.3 816.1L646.0 816.1L647.6 816.1L649.3 816.2L651.0 816.2L652.7 816.2L654.4 816.2L656.1 816.2L657.8 816.2L659.4 816.2L661.1 816.2L662.8 816.2L664.4 816.2L666.1 816.2L667.8 816.2L669.4 816.2L671.1 816.1L672.8 816.1L674.4 816.1L676.1 816.1L677.7 816.1L679.4 816.1L681.0 816.0L682.7 816.0L684.3 816.0L685.9 816.0L687.6 815.9L689.2 815.9L690.8 815.9L692.5 815.8L694.1 815.8L695.7 815.7L697.3 815.7L699.0 815.7L700.6 815.6L702.2 815.6L703.8 815.5L705.4 815.4L707.0 815.4L708.6 815.3L710.2 815.3L711.8 815.2L713.4 815.1L715.0 815.1L716.6 815.0L718.2 814.9L719.8 814.8L721.4 814.7L723.0 814.6L724.5 814.6L726.1 814.5L727.7 814.4L729.3 814.3L730.8 814.2L732.4 814.1L734.0 814.0L735.5 813.8L737.1 813.7L738.7 813.6L740.2 813.4L741.7 813.3L743.3 813.2L744.8 813.0L746.4 812.8L747.9 812.7L749.4 812.5L750.9 812.3L752.4 812.1L753.9 811.9L755.4 811.7L756.9 811.4L758.4 811.2L759.9 810.9L761.4 810.7L762.8 810.4L764.3 810.1L765.8 809.8L767.2 809.5L768.6 809.2L770.1 808.8L771.5 808.5L772.9 808.1L774.3 807.7L775.7 807.3L777.1 806.9L778.5 806.5L779.9 806.1L781.2 805.6L782.6 805.1L783.9 804.7L785.3 804.2L786.6 803.7L787.9 803.2L789.2 802.6L790.5 802.1L791.8 801.5L793.1 801.0L794.4 800.4L795.6 799.8L796.9 799.2L798.1 798.6L799.3 797.9L800.5 797.3L801.7 796.6L802.9 796.0L804.1 795.3L805.3 794.6L806.4 793.9L807.6 793.2L808.7 792.4L809.8 791.7L810.9 790.9L812.0 790.2L813.1 789.4L814.2 788.6L815.2 787.8L816.3 787.0L817.3 786.2L818.3 785.3L819.3 784.5L820.3 783.7L821.3 782.8L822.3 781.9L823.2 781.0L824.1 780.1L825.1 779.2L826.0 778.3L826.9 777.4L827.8 776.4L828.6 775.5L829.5 774.5L830.4 773.6L831.2 772.6L832.0 771.6L832.8 770.6L833.6 769.6L834.4 768.6L835.2 767.6L835.9 766.6L836.7 765.5L837.4 764.5L838.2 763.5L838.9 762.4L839.6 761.4L840.3 760.3L841.0 759.3L841.6 758.2L842.3 757.1L843.0 756.1L843.6 755.0L844.2 753.9L844.9 752.8L845.5 751.7L846.1 750.6L846.7 749.5L847.2 748.4L847.8 747.3L848.4 746.2L848.9 745.1L849.5 744.0L850.0 742.9L850.5 741.8L851.0 740.7L851.6 739.6L852.1 738.5L852.5 737.4L853.0 736.2L853.5 735.1L854.0 734.0L854.4 732.9L854.9 731.8L855.3 730.7L855.7 729.6L856.1 728.4L856.6 727.3L857.0 726.2L857.4 725.1L857.8 724.0L858.1 722.9L858.5 721.8L858.9 720.7L859.3 719.6L859.6 718.5L860.0 717.4L860.3 716.3L860.6 715.2L861.0 714.1L861.3 713.1L861.6 712.0L861.9 710.9L862.2 709.8L862.5 708.7L862.8 707.7L863.1 706.6L863.4 705.5L863.7 704.5L863.9 703.4L864.2 702.4L864.5 701.3L864.7 700.3L865.0 699.2L865.2 698.2L865.5 697.1L865.7 696.1L865.9 695.1L866.2 694.0L866.4 693.0L866.6 692.0L866.9 691.0L867.1 690.0L867.3 689.0L867.5 688.0L867.7 687.0L867.9 686.0L868.1 685.0L868.3 684.0L868.5 683.0L868.7 682.0L868.9 681.0L869.1 680.1L869.3 679.1L869.5 678.2L869.7 677.2L869.9 676.3L870.1 675.3L870.3 674.4L870.4 673.4L870.6 672.5L870.8 671.6L871.0 670.7L871.1 669.8L871.3 668.8L871.5 667.9L871.7 667.0L871.8 666.2L872.0 665.3L872.2 664.4L872.3 663.5L872.5 662.6L872.7 661.8L872.8 660.9L873.0 660.1L873.1 659.2L873.3 658.4L873.5 657.5L873.6 656.7L873.8 655.9L873.9 655.1L874.1 654.3L874.3 653.4L874.4 652.6L874.6 651.9L874.7 651.1L874.9 650.3L875.1 649.5L875.2 648.7L875.4 648.0L875.5 647.2L875.7 646.5L875.8 645.7L876.0 645.0L876.2 644.3L876.3 643.5L876.5 642.8L876.6 642.1L876.8 641.4L876.9 640.7L877.1 640.0L877.3 639.3L877.4 638.7L877.6 638.0L877.7 637.3L877.9 636.7L878.1 636.0L878.2 635.4L878.4 634.7L878.5 634.1L878.7 633.5L878.9 632.9L879.0 632.3L879.3 631.1L879.7 629.9L880.0 628.8L880.3 627.7L880.6 626.7L881.0 625.6L881.3 624.6L881.6 623.7L882.0 622.8L882.3 621.9L882.7 621.0L883.0 620.2L883.4 619.5L883.7 618.7L884.1 618.0L884.5 617.4L885.0 616.6L885.7 615.9L886.4 615.3L887.4 615.0L888.1 615.2L888.8 615.6L889.4 616.3L889.9 617.0L890.4 617.8L890.8 618.5L891.1 619.2L891.5 619.9L891.8 620.7L892.1 621.5L892.5 622.4L892.8 623.3L893.1 623.9L893.3 624.5L893.5 625.2L893.7 625.8L894.0 626.5L894.2 627.2L894.4 627.9L894.7 628.6L894.9 629.4L895.1 630.1L895.4 630.9L895.6 631.6L895.8 632.4L896.1 633.2L896.3 634.0L896.6 634.9L896.8 635.7L897.1 636.5L897.3 637.4L897.6 638.3L897.8 639.2L898.1 640.1L898.3 641.0L898.6 641.9L898.9 642.8L899.1 643.8L899.4 644.7L899.7 645.7L899.9 646.6L900.2 647.6L900.5 648.6L900.8 649.6L901.1 650.6L901.4 651.7L901.6 652.7L901.9 653.7L902.2 654.8L902.5 655.9L902.8 656.9L903.2 658.0L903.5 659.1L903.8 660.2L904.1 661.3L904.4 662.4L904.8 663.6L905.1 664.7L905.4 665.8L905.8 667.0L906.1 668.2L906.5 669.3L906.8 670.5L907.2 671.7L907.5 672.9L907.9 674.1L908.1 674.7L908.3 675.3L908.5 675.9L908.7 676.5L908.9 677.1L909.1 677.7L909.2 678.3L909.4 678.9L909.6 679.5L909.8 680.2L910.0 680.8L910.2 681.4L910.4 682.0L910.7 682.6L910.9 683.3L911.1 683.9L911.3 684.5L911.5 685.1L911.7 685.8L911.9 686.4L912.1 687.0L912.4 687.7L912.6 688.3L912.8 689.0L913.0 689.6L913.3 690.2L913.5 690.9L913.7 691.5L913.9 692.2L914.2 692.8L914.4 693.4L914.6 694.1L914.9 694.7L915.1 695.4L915.4 696.0L915.6 696.7L915.9 697.3L916.1 698.0L916.4 698.6L916.6 699.3L916.9 700.0L917.1 700.6L917.4 701.3L917.7 701.9L917.9 702.6L918.2 703.2L918.4 703.9L918.7 704.6L919.0 705.2L919.3 705.9L919.5 706.5L919.8 707.2L920.1 707.9L920.4 708.5L920.7 709.2L921.0 709.9L921.3 710.5L921.6 711.2L921.9 711.9L922.2 712.5L922.5 713.2L922.8 713.9L923.1 714.5L923.4 715.2L923.7 715.9L924.0 716.5L924.3 717.2L924.7 717.9L925.0 718.5L925.3 719.2L925.7 719.9L926.0 720.6L926.3 721.2L926.7 721.9L927.0 722.6L927.4 723.2L927.7 723.9L928.1 724.6L928.4 725.2L928.8 725.9L929.1 726.6L929.5 727.2L929.9 727.9L930.3 728.6L930.6 729.2L931.0 729.9L931.4 730.5L931.8 731.2L932.2 731.9L932.6 732.5L933.0 733.2L933.4 733.9L933.8 734.5L934.2 735.2L934.6 735.8L935.0 736.5L935.4 737.1L935.9 737.8L936.3 738.4L936.7 739.1L937.2 739.8L937.6 740.4L938.0 741.1L938.5 741.7L938.9 742.3L939.4 743.0L939.9 743.6L940.3 744.3L940.8 744.9L941.3 745.6L941.8 746.2L942.2 746.8L942.7 747.5L943.2 748.1L943.7 748.7L944.2 749.4L944.7 750.0L945.2 750.6L945.7 751.2L946.3 751.9L946.8 752.5L947.3 753.1L947.9 753.7L948.4 754.3L948.9 755.0L949.5 755.6L950.0 756.2L950.6 756.8L951.2 757.4L951.7 758.0L952.9 759.2L954.0 760.4L955.2 761.5L955.8 762.1L956.4 762.7L957.1 763.3L957.7 763.9L958.3 764.4L958.9 765.0L959.5 765.6L960.2 766.1L960.8 766.7L961.5 767.3L962.1 767.8L962.8 768.4L963.4 768.9L964.1 769.5L964.8 770.0L965.4 770.6L966.1 771.1L966.8 771.6L967.5 772.2L968.2 772.7L968.9 773.2L969.6 773.7L970.3 774.3L971.0 774.8L971.7 775.3L972.4 775.8L973.1 776.3L973.9 776.8L974.6 777.3L975.3 777.8L976.1 778.3L976.8 778.7L977.6 779.2L978.3 779.7L979.1 780.2L979.8 780.6L980.6 781.1L981.4 781.6L982.2 782.0L982.9 782.5L983.7 782.9L984.5 783.4L985.3 783.8L986.1 784.2L986.9 784.7L987.7 785.1L988.5 785.5L989.3 785.9L990.2 786.3L991.0 786.8L991.8 787.2L992.7 787.6L993.5 787.9L994.3 788.3L995.2 788.7L996.0 789.1L996.9 789.5L997.7 789.8L998.6 790.2L999.5 790.6L1000.3 790.9L1001.2 791.3L1002.1 791.6L1002.9 791.9L1003.8 792.3L1004.7 792.6L1005.6 792.9L1006.5 793.2L1007.4 793.5L1008.3 793.8L1009.2 794.1L1010.1 794.4L1011.0 794.7L1012.0 795.0L1012.9 795.3L1013.8 795.5L1014.7 795.8L1015.7 796.0L1016.6 796.3L1017.5 796.5L1018.5 796.8L1019.4 797.0L1020.4 797.2L1021.3 797.5L1022.3 797.7L1023.2 797.9L1024.2 798.1L1025.2 798.3L1026.1 798.4L1027.1 798.6L1028.1 798.8L1029.1 799.0L1030.0 799.1L1031.0 799.3L1032.0 799.4L1033.0 799.5L1034.0 799.7L1035.0 799.8L1036.0 799.9L1037.0 800.0L1038.0 800.1L1039.0 800.2L1040.0 800.3L1041.0 800.4L1042.0 800.4L1043.1 800.5L1044.1 800.5L1045.1 800.6L1046.1 800.6L1047.2 800.7L1048.2 800.7L1049.2 800.7L1050.3 800.7L1051.3 800.7" fill="none" stroke="#4a4a4a" stroke-width="3.6" stroke-linejoin="round" stroke-linecap="round"/>
<path d="M508.0 816.4L509.4 816.4L510.8 816.5L512.2 816.5L513.6 816.5L515.0 816.5L516.4 816.5L517.8 816.6L519.2 816.6L520.6 816.6L522.0 816.6L523.3 816.6L524.7 816.6L526.1 816.6L527.5 816.6L528.8 816.6L530.2 816.6L531.6 816.6L533.0 816.6L534.3 816.6L535.7 816.6L537.0 816.6L538.4 816.6L539.8 816.5L541.1 816.5L542.5 816.5L543.8 816.5L545.2 816.5L546.5 816.5L547.8 816.4L549.2 816.4L550.5 816.4L551.9 816.4L553.2 816.4L554.5 816.3L555.9 816.3L557.2 816.3L558.5 816.2L559.8 816.2L561.2 816.2L562.5 816.2L563.8 816.1L565.1 816.1L566.4 816.1L567.7 816.0L569.1 816.0L570.4 816.0L571.7 815.9L573.0 815.9L574.3 815.9L575.6 815.8L576.9 815.8L578.2 815.8L579.5 815.7L580.8 815.7L582.0 815.7L583.3 815.6L584.6 815.6L585.9 815.6L587.2 815.5L588.5 815.5L589.7 815.5L591.0 815.4L592.3 815.4L593.6 815.4L594.8 815.4L596.1 815.3L597.4 815.3L598.6 815.3L599.9 815.2L601.2 815.2L602.4 815.2L603.7 815.1L604.9 815.1L606.2 815.1L607.4 815.1L608.7 815.0L609.9 815.0L611.2 815.0L612.4 815.0L613.7 814.9L614.9 814.9L616.2 814.9L617.4 814.9L618.6 814.8L619.9 814.8L621.1 814.8L622.3 814.8L623.6 814.8L624.8 814.8L626.0 814.7L627.2 814.7L628.5 814.7L629.7 814.7L630.9 814.7L632.1 814.7L633.3 814.6L634.5 814.6L635.7 814.6L637.0 814.6L638.2 814.6L639.4 814.6L640.6 814.5L641.8 814.5L643.0 814.5L644.2 814.5L645.4 814.5L646.6 814.5L647.8 814.5L649.0 814.4L650.2 814.4L651.4 814.4L652.6 814.4L653.8 814.4L654.9 814.3L656.1 814.3L657.3 814.3L658.5 814.3L659.7 814.3L660.9 814.2L662.0 814.2L663.2 814.2L664.4 814.2L665.6 814.1L666.8 814.1L667.9 814.1L669.1 814.1L670.3 814.0L671.5 814.0L672.6 814.0L673.8 813.9L675.0 813.9L676.1 813.9L677.3 813.8L678.5 813.8L679.6 813.7L680.8 813.7L681.9 813.7L683.1 813.6L684.3 813.6L685.4 813.5L686.6 813.5L687.7 813.4L688.9 813.3L690.0 813.3L691.2 813.2L692.3 813.1L693.4 813.1L694.6 813.0L695.7 812.9L696.8 812.8L697.9 812.7L699.1 812.6L700.2 812.5L701.3 812.4L702.4 812.3L703.5 812.2L704.6 812.0L705.7 811.9L706.8 811.8L707.8 811.6L708.9 811.4L710.0 811.3L711.1 811.1L712.1 810.9L713.2 810.7L714.2 810.6L715.3 810.4L716.3 810.1L717.4 809.9L718.4 809.7L719.4 809.5L720.4 809.2L721.4 809.0L722.4 808.7L723.4 808.4L724.4 808.1L725.4 807.9L726.4 807.6L727.4 807.3L728.3 806.9L729.3 806.6L730.2 806.3L731.2 805.9L732.1 805.6L733.0 805.2L734.0 804.8L734.9 804.4L735.8 804.0L736.7 803.6L737.6 803.2L738.4 802.8L739.3 802.4L740.2 801.9L741.0 801.5L741.9 801.0L742.7 800.5L743.6 800.1L744.4 799.6L745.2 799.1L746.0 798.6L746.8 798.1L747.6 797.6L748.4 797.1L749.2 796.5L750.0 796.0L750.7 795.4L751.5 794.9L752.2 794.3L753.0 793.8L753.7 793.2L754.4 792.6L755.1 792.0L755.9 791.4L756.5 790.8L757.2 790.2L757.9 789.6L758.6 789.0L759.2 788.3L759.9 787.7L760.5 787.1L761.2 786.4L761.8 785.7L762.4 785.1L763.0 784.4L763.6 783.7L764.2 783.1L764.8 782.4L765.4 781.7L766.0 781.0L766.5 780.3L767.1 779.6L767.6 778.9L768.1 778.2L768.7 777.5L769.2 776.7L769.7 776.0L770.2 775.3L770.7 774.6L771.2 773.8L771.7 773.1L772.2 772.3L772.7 771.6L773.1 770.9L773.6 770.1L774.0 769.4L774.5 768.6L774.9 767.9L775.4 767.1L775.8 766.3L776.2 765.6L776.6 764.8L777.0 764.1L777.4 763.3L777.8 762.5L778.2 761.8L778.6 761.0L779.0 760.3L779.4 759.5L779.7 758.7L780.1 758.0L780.5 757.2L780.8 756.4L781.2 755.7L781.5 754.9L781.9 754.1L782.2 753.4L782.5 752.6L782.9 751.9L783.2 751.1L783.5 750.4L783.8 749.6L784.1 748.8L784.4 748.1L784.7 747.3L785.0 746.6L785.3 745.8L785.6 745.1L785.9 744.4L786.2 743.6L786.5 742.9L786.7 742.1L787.0 741.4L787.3 740.7L787.5 739.9L787.8 739.2L788.1 738.5L788.3 737.8L788.6 737.0L788.8 736.3L789.1 735.6L789.3 734.9L789.5 734.2L789.8 733.5L790.0 732.8L790.3 732.1L790.5 731.4L790.7 730.7L790.9 730.0L791.2 729.3L791.4 728.6L791.6 728.0L791.8 727.3L792.0 726.6L792.2 726.0L792.5 725.3L792.7 724.6L792.9 724.0L793.1 723.3L793.3 722.7L793.5 722.0L793.7 721.4L793.9 720.7L794.1 720.1L794.3 719.5L794.5 718.8L794.7 718.2L794.9 717.6L795.1 717.0L795.3 716.4L795.4 715.8L795.6 715.2L796.0 714.0L796.4 712.8L796.7 711.6L797.1 710.5L797.5 709.4L797.8 708.3L798.2 707.2L798.5 706.1L798.9 705.1L799.2 704.1L799.6 703.0L799.9 702.1L800.3 701.1L800.6 700.2L800.9 699.2L801.3 698.3L801.6 697.4L802.0 696.6L802.3 695.8L802.6 694.9L803.0 694.2L803.3 693.4L803.7 692.6L804.0 691.9L804.3 691.2L804.7 690.6L805.0 689.9L805.4 689.3L805.9 688.5L806.5 687.7L807.0 687.0L807.6 686.3L808.2 685.8L808.9 685.3L809.7 685.0L810.6 685.0L811.2 685.2L811.9 685.5L812.5 686.0L813.2 686.6L813.7 687.3L814.3 687.9L814.8 688.7L815.3 689.5L815.7 690.1L816.0 690.8L816.4 691.5L816.8 692.2L817.2 692.9L817.6 693.7L817.9 694.5L818.3 695.3L818.7 696.2L819.1 697.0L819.5 697.9L819.7 698.5L820.0 699.1L820.2 699.8L820.5 700.4L820.8 701.1L821.0 701.7L821.3 702.4L821.6 703.1L821.8 703.7L822.1 704.4L822.4 705.1L822.7 705.8L822.9 706.6L823.2 707.3L823.5 708.0L823.8 708.8L824.1 709.5L824.4 710.3L824.7 711.1L824.9 711.8L825.2 712.6L825.5 713.4L825.9 714.2L826.2 715.0L826.5 715.8L826.8 716.7L827.1 717.5L827.4 718.3L827.7 719.2L828.1 720.0L828.4 720.9L828.7 721.7L829.1 722.6L829.4 723.5L829.8 724.3L830.1 725.2L830.5 726.1L830.8 727.0L831.2 727.9L831.6 728.8L831.9 729.7L832.3 730.6L832.7 731.5L833.1 732.5L833.5 733.4L833.9 734.3L834.3 735.2L834.7 736.2L835.1 737.1L835.6 738.1L836.0 739.0L836.5 739.9L836.9 740.9L837.4 741.8L837.8 742.8L838.3 743.7L838.8 744.7L839.3 745.6L839.8 746.6L840.3 747.5L840.8 748.5L841.3 749.4L841.9 750.4L842.4 751.3L843.0 752.3L843.6 753.2L844.1 754.2L844.7 755.1L845.3 756.0L845.9 757.0L846.6 757.9L847.2 758.8L847.8 759.7L848.5 760.7L849.2 761.6L849.9 762.5L850.5 763.4L851.2 764.3L852.0 765.2L852.7 766.1L853.4 767.0L854.2 767.9L855.0 768.8L855.7 769.6L856.5 770.5L857.3 771.4L858.1 772.2L859.0 773.1L859.8 773.9L860.6 774.8L861.5 775.6L862.4 776.4L863.3 777.2L864.2 778.0L865.1 778.8L866.0 779.6L867.0 780.4L867.9 781.2L868.9 781.9L869.9 782.7L870.9 783.4L871.9 784.2L872.9 784.9L873.9 785.6L875.0 786.3L876.1 787.0L877.1 787.7L878.2 788.3L879.3 789.0L880.5 789.7L881.6 790.3L882.7 790.9L883.9 791.5L885.1 792.1L886.3 792.7L886.9 793.0L887.5 793.3L888.1 793.6L888.7 793.8L889.3 794.1L889.9 794.4L890.5 794.6L891.2 794.9L891.8 795.2L892.4 795.4L893.1 795.7L893.7 795.9L894.3 796.2L895.0 796.4L895.6 796.7L896.3 796.9L896.9 797.2L897.6 797.4L898.3 797.6L898.9 797.8L899.6 798.1L900.3 798.3L900.9 798.5L901.6 798.7L902.3 798.9L903.0 799.2L903.6 799.4L904.3 799.6L905.0 799.8L905.7 800.0L906.4 800.2L907.1 800.3L907.8 800.5L908.5 800.7L909.2 800.9L909.9 801.1L910.6 801.3L911.3 801.4L912.0 801.6L912.7 801.8L913.4 802.0L914.2 802.1L914.9 802.3L915.6 802.5L916.3 802.6L917.1 802.8L917.8 802.9L918.5 803.1L919.2 803.2L920.0 803.4L920.7 803.5L921.5 803.7L922.2 803.8L922.9 803.9L923.7 804.1L924.4 804.2L925.2 804.3L925.9 804.5L926.6 804.6L927.4 804.7L928.1 804.8L928.9 804.9L929.7 805.1L930.4 805.2L931.2 805.3L931.9 805.4L932.7 805.5L933.4 805.6L934.2 805.7L934.9 805.8L935.7 805.9L936.5 806.0L937.2 806.1L938.0 806.2L938.7 806.3L939.5 806.4L940.3 806.5L941.0 806.6L941.8 806.7L942.6 806.8L943.3 806.9L944.1 807.0L944.8 807.0L945.6 807.1L946.4 807.2L947.1 807.3L947.9 807.4L948.7 807.4L949.4 807.5L950.2 807.6L950.9 807.7L951.7 807.7L952.5 807.8L953.2 807.9L954.0 808.0L954.7 808.0L955.5 808.1L956.2 808.2L957.0 808.2L957.7 808.3L958.5 808.4L959.3 808.4L960.0 808.5" fill="none" stroke="#4cb4a4" stroke-width="3.6" stroke-linejoin="round" stroke-linecap="round"/>
<path d="M508.0 816.4L509.1 816.4L510.1 816.3L511.2 816.3L512.2 816.3L513.3 816.2L514.4 816.2L515.4 816.2L516.5 816.2L517.5 816.1L518.6 816.1L519.6 816.1L520.7 816.1L521.7 816.1L522.8 816.0L523.8 816.0L524.8 816.0L525.9 816.0L526.9 816.0L527.9 816.0L529.0 815.9L530.0 815.9L531.0 815.9L532.1 815.9L533.1 815.9L534.1 815.9L535.2 815.9L536.2 815.9L537.2 815.9L538.2 815.8L539.2 815.8L540.3 815.8L541.3 815.8L542.3 815.8L543.3 815.8L544.3 815.8L545.3 815.8L546.3 815.8L547.3 815.8L548.3 815.8L549.3 815.8L550.4 815.8L551.4 815.8L552.4 815.8L553.4 815.8L554.4 815.8L555.3 815.8L556.3 815.8L557.3 815.8L558.3 815.7L559.3 815.7L560.3 815.7L561.3 815.7L562.3 815.7L563.3 815.7L564.2 815.7L565.2 815.7L566.2 815.7L567.2 815.7L568.2 815.7L569.1 815.7L570.1 815.7L571.1 815.7L572.1 815.7L573.0 815.7L574.0 815.7L575.0 815.7L575.9 815.7L576.9 815.7L577.9 815.6L578.8 815.6L579.8 815.6L580.8 815.6L581.7 815.6L582.7 815.6L583.6 815.6L584.6 815.6L585.5 815.6L586.5 815.6L587.4 815.5L588.4 815.5L589.3 815.5L590.3 815.5L591.2 815.5L592.2 815.5L593.1 815.4L594.1 815.4L595.0 815.4L595.9 815.4L596.9 815.4L597.8 815.4L598.8 815.3L599.7 815.3L600.6 815.3L601.5 815.3L602.5 815.2L603.4 815.2L604.3 815.2L605.3 815.2L606.2 815.1L607.1 815.1L608.0 815.1L608.9 815.0L609.9 815.0L610.8 815.0L611.7 814.9L612.6 814.9L613.5 814.9L614.4 814.8L615.4 814.8L616.3 814.8L617.2 814.7L618.1 814.7L619.0 814.6L619.9 814.6L620.8 814.5L621.7 814.5L622.6 814.5L623.5 814.4L624.4 814.4L625.3 814.3L626.2 814.3L627.1 814.2L628.0 814.2L628.9 814.1L629.8 814.0L630.6 814.0L631.5 813.9L632.4 813.9L633.3 813.8L634.2 813.8L635.1 813.7L636.0 813.6L636.8 813.6L637.7 813.5L638.6 813.4L639.5 813.4L640.3 813.3L641.2 813.2L642.1 813.1L643.0 813.1L643.8 813.0L644.7 812.9L645.6 812.8L646.4 812.8L647.3 812.7L648.2 812.6L649.0 812.5L649.9 812.4L650.7 812.3L651.6 812.3L652.5 812.2L653.3 812.1L654.2 812.0L655.0 811.9L655.9 811.8L656.7 811.7L657.5 811.6L658.4 811.5L659.2 811.4L660.1 811.3L660.9 811.2L661.7 811.1L662.6 811.0L663.4 810.8L664.2 810.7L665.0 810.6L665.9 810.5L666.7 810.3L667.5 810.2L668.3 810.1L669.1 809.9L669.9 809.8L670.7 809.7L671.5 809.5L672.3 809.4L673.1 809.2L673.9 809.0L674.6 808.9L675.4 808.7L676.2 808.5L677.0 808.4L677.7 808.2L678.5 808.0L679.2 807.8L680.0 807.6L680.7 807.4L681.5 807.2L682.2 807.0L683.0 806.8L683.7 806.6L684.4 806.4L685.1 806.1L685.8 805.9L686.5 805.7L687.2 805.4L687.9 805.2L688.6 805.0L689.3 804.7L690.0 804.4L690.7 804.2L691.4 803.9L692.0 803.6L692.7 803.4L693.4 803.1L694.0 802.8L694.6 802.5L695.3 802.2L695.9 801.9L696.6 801.6L697.2 801.3L697.8 801.0L698.4 800.6L699.0 800.3L699.6 800.0L700.8 799.3L702.0 798.6L703.1 797.8L704.2 797.1L705.3 796.3L706.3 795.5L707.4 794.7L708.4 793.8L709.4 793.0L710.4 792.1L711.3 791.2L712.2 790.3L713.2 789.4L714.0 788.4L714.9 787.5L715.7 786.5L716.6 785.6L717.4 784.6L718.2 783.6L718.9 782.6L719.7 781.6L720.4 780.5L721.1 779.5L721.8 778.5L722.5 777.4L723.2 776.4L723.8 775.3L724.4 774.3L725.1 773.2L725.7 772.1L726.2 771.1L726.8 770.0L727.4 768.9L727.9 767.9L728.5 766.8L729.0 765.7L729.5 764.7L730.0 763.6L730.5 762.6L731.0 761.5L731.4 760.5L731.9 759.5L732.3 758.4L732.8 757.4L733.2 756.4L733.6 755.4L734.1 754.4L734.5 753.4L734.9 752.4L735.3 751.5L735.7 750.5L736.1 749.6L736.4 748.7L736.8 747.7L737.2 746.8L737.6 746.0L737.9 745.1L738.3 744.2L738.7 743.4L739.0 742.5L739.4 741.7L739.7 740.9L740.1 740.1L740.4 739.3L740.7 738.6L741.1 737.8L741.4 737.1L741.7 736.4L742.1 735.7L742.4 735.0L742.7 734.4L743.1 733.7L743.4 733.1L743.7 732.5L744.2 731.6L744.7 730.8L745.2 730.0L745.7 729.3L746.2 728.6L746.7 728.0L747.3 727.2L748.1 726.5L748.8 726.0L749.5 725.6L750.3 725.4L751.0 725.4L751.7 725.5L752.3 725.8L753.0 726.2L753.7 726.6L754.3 727.2L755.0 727.8L755.6 728.5L756.2 729.2L756.6 729.9L757.1 730.5L757.6 731.2L758.1 731.9L758.6 732.7L759.0 733.5L759.4 734.1L759.8 734.7L760.1 735.3L760.5 735.9L760.9 736.6L761.3 737.3L761.6 738.0L762.0 738.7L762.4 739.4L762.8 740.1L763.2 740.8L763.6 741.6L764.0 742.3L764.4 743.1L764.8 743.9L765.2 744.7L765.6 745.5L766.1 746.3L766.5 747.1L766.9 748.0L767.4 748.8L767.8 749.7L768.2 750.5L768.7 751.4L769.2 752.3L769.6 753.2L770.1 754.1L770.4 754.7L770.8 755.3L771.1 755.9L771.4 756.5L771.7 757.1L772.1 757.7L772.4 758.3L772.8 758.9L773.1 759.6L773.5 760.2L773.8 760.8L774.2 761.4L774.6 762.1L774.9 762.7L775.3 763.3L775.7 764.0L776.1 764.6L776.4 765.2L776.8 765.9L777.2 766.5L777.6 767.1L778.0 767.8L778.4 768.4L778.9 769.1L779.3 769.7L779.7 770.3L780.1 771.0L780.6 771.6L781.0 772.3L781.5 772.9L781.9 773.5L782.4 774.2L782.9 774.8L783.4 775.4L783.8 776.1L784.3 776.7L784.8 777.3L785.3 778.0L785.9 778.6L786.4 779.2L786.9 779.8L787.4 780.4L788.0 781.0L788.5 781.6L789.1 782.3L789.7 782.9L790.6 783.8L791.4 784.6L792.1 785.2L792.7 785.8L793.3 786.4L793.9 786.9L794.6 787.5L795.2 788.1L795.9 788.6L796.6 789.2L797.3 789.7L798.0 790.2L798.7 790.8L799.4 791.3L800.1 791.8L800.9 792.3L801.7 792.8L802.4 793.3L803.2 793.8L804.0 794.2L804.8 794.7L805.6 795.1L806.4 795.6L807.3 796.0L808.1 796.5L809.0 796.9L809.9 797.3L810.7 797.7L811.6 798.2L812.5 798.6L813.4 798.9L814.3 799.3L815.2 799.7L816.2 800.1L817.1 800.5L818.0 800.8L819.0 801.2L819.9 801.5L820.9 801.9L821.8 802.2L822.8 802.5L823.8 802.9L824.8 803.2L825.7 803.5L826.7 803.8L827.7 804.1L828.7 804.4L829.7 804.7L830.7 805.0L831.7 805.3L832.7 805.5L833.7 805.8L834.7 806.1L835.7 806.3L836.7 806.6L837.7 806.9L838.7 807.1L839.7 807.4L840.7 807.6L841.7 807.9L842.7 808.1L843.7 808.3L844.7 808.6L845.7 808.8L846.7 809.0L847.7 809.2L848.7 809.3L849.7 809.5L850.7 809.6L851.8 809.7L852.8 809.8L853.9 809.9L854.9 809.9L856.0 809.9L857.1 809.9L858.2 809.9L859.3 809.8L860.5 809.6L861.6 809.5L862.8 809.3L864.0 809.0" fill="none" stroke="#a0a830" stroke-width="3.6" stroke-linejoin="round" stroke-linecap="round"/>
<path d="M508.0 816.4L508.8 816.3L509.5 816.2L510.3 816.1L511.1 816.0L511.9 816.0L512.6 815.9L513.4 815.8L514.2 815.7L515.0 815.7L515.8 815.6L516.5 815.6L517.3 815.5L518.1 815.4L518.9 815.4L519.7 815.3L520.4 815.3L521.2 815.3L522.0 815.2L522.8 815.2L523.6 815.2L524.3 815.1L525.1 815.1L525.9 815.1L526.7 815.1L527.5 815.0L528.2 815.0L529.0 815.0L529.8 815.0L530.6 815.0L531.4 815.0L532.1 815.0L532.9 815.0L533.7 815.0L534.5 814.9L535.3 815.0L536.1 815.0L536.8 815.0L537.6 815.0L538.4 815.0L539.2 815.0L539.9 815.0L540.7 815.0L541.5 815.0L542.3 815.0L543.1 815.0L543.8 815.1L544.6 815.1L545.4 815.1L546.2 815.1L546.9 815.1L547.7 815.1L548.5 815.2L549.3 815.2L550.0 815.2L550.8 815.2L551.6 815.3L552.3 815.3L553.1 815.3L553.9 815.3L554.6 815.4L555.4 815.4L556.2 815.4L556.9 815.4L557.7 815.5L558.5 815.5L559.2 815.5L560.0 815.5L560.8 815.6L561.5 815.6L562.3 815.6L563.0 815.6L563.8 815.7L564.5 815.7L565.3 815.7L566.1 815.8L566.8 815.8L567.6 815.8L568.3 815.8L569.1 815.8L569.8 815.9L570.6 815.9L571.3 815.9L572.0 815.9L572.8 816.0L573.5 816.0L574.3 816.0L575.0 816.0L575.8 816.0L576.5 816.0L577.2 816.1L578.0 816.1L578.7 816.1L579.4 816.1L580.2 816.1L580.9 816.1L581.6 816.1L582.3 816.1L583.1 816.1L583.8 816.1L584.5 816.1L585.2 816.1L586.0 816.1L586.7 816.1L587.4 816.1L588.1 816.1L588.8 816.1L589.5 816.1L590.2 816.1L590.9 816.1L591.6 816.1L592.4 816.1L593.1 816.1L593.8 816.1L594.5 816.0L595.2 816.0L595.9 816.0L596.5 816.0L597.2 815.9L597.9 815.9L598.6 815.9L599.3 815.9L600.0 815.8L600.7 815.8L601.4 815.7L602.0 815.7L602.7 815.7L603.4 815.6L604.1 815.6L604.7 815.5L605.4 815.5L606.1 815.4L606.8 815.4L607.4 815.3L608.1 815.3L608.8 815.2L609.4 815.1L610.1 815.1L610.7 815.0L611.4 814.9L612.0 814.9L612.7 814.8L613.3 814.7L614.0 814.6L614.6 814.5L615.3 814.5L615.9 814.4L616.5 814.3L617.2 814.2L617.8 814.1L618.4 814.0L619.1 813.9L619.7 813.8L620.3 813.7L621.0 813.6L621.6 813.5L622.2 813.4L622.8 813.3L623.4 813.1L624.0 813.0L624.7 812.9L625.3 812.8L625.9 812.6L626.5 812.5L627.1 812.4L627.7 812.2L628.9 812.0L630.1 811.7L631.2 811.4L632.4 811.1L633.6 810.7L634.7 810.4L635.9 810.1L637.0 809.7L638.1 809.3L639.2 809.0L640.3 808.6L641.4 808.2L642.5 807.8L643.6 807.3L644.7 806.9L645.7 806.5L646.8 806.0L647.8 805.5L648.9 805.1L649.9 804.6L650.9 804.1L651.9 803.6L652.9 803.1L653.8 802.6L654.8 802.1L655.8 801.5L656.7 801.0L657.6 800.4L658.6 799.9L659.5 799.3L660.4 798.7L661.3 798.2L662.1 797.6L663.0 797.0L663.8 796.4L664.7 795.8L665.5 795.2L666.3 794.6L667.1 793.9L667.9 793.3L668.7 792.7L669.5 792.0L670.3 791.4L671.0 790.7L671.7 790.1L672.5 789.4L673.2 788.8L673.9 788.1L674.6 787.4L675.3 786.8L675.9 786.1L676.6 785.4L677.2 784.8L677.9 784.1L678.5 783.4L679.1 782.7L679.7 782.0L680.3 781.3L680.9 780.6L681.4 780.0L682.0 779.3L682.5 778.6L683.1 777.9L683.6 777.2L684.1 776.5L684.6 775.8L685.1 775.1L685.6 774.5L686.1 773.8L686.6 773.1L687.0 772.4L687.5 771.8L687.9 771.1L688.4 770.4L688.8 769.8L689.2 769.1L689.6 768.5L690.1 767.9L690.5 767.2L690.9 766.6L691.3 766.0L691.6 765.4L692.0 764.8L692.6 763.9L693.1 763.0L693.7 762.1L694.2 761.3L694.7 760.5L695.2 759.7L695.7 758.9L696.2 758.1L696.7 757.4L697.2 756.7L697.6 756.0L698.1 755.4L698.6 754.8L699.2 754.0L699.8 753.3L700.4 752.6L701.1 752.1L701.7 751.6L702.5 751.2L703.1 751.0L704.1 750.9L704.8 751.0L705.5 751.3L706.1 751.6L706.8 752.1L707.5 752.7L708.2 753.3L708.8 754.0L709.4 754.6L709.9 755.2L710.5 755.9L711.0 756.6L711.6 757.3L712.1 757.9L712.5 758.6L713.0 759.2L713.5 759.9L714.0 760.5L714.5 761.2L715.0 761.9L715.5 762.6L716.0 763.4L716.6 764.1L717.1 764.9L717.7 765.7L718.3 766.4L718.8 767.2L719.3 767.8L719.7 768.4L720.2 769.0L720.7 769.7L721.1 770.3L721.6 770.9L722.1 771.5L722.6 772.2L723.1 772.8L723.6 773.5L724.1 774.1L724.6 774.8L725.2 775.4L725.7 776.1L726.2 776.7L726.8 777.4L727.4 778.1L727.9 778.7L728.5 779.4L729.1 780.1L729.7 780.7L730.3 781.4L730.9 782.1L731.5 782.8L732.2 783.4L732.8 784.1L733.5 784.8L734.1 785.5L734.8 786.1L735.5 786.8L736.1 787.5L736.8 788.2L737.6 788.8L738.3 789.5L739.0 790.2L739.7 790.8L740.5 791.5L741.2 792.1L742.0 792.8L742.8 793.4L743.5 794.1L744.3 794.7L745.1 795.3L746.0 796.0L746.8 796.6L747.6 797.2L748.5 797.8L749.3 798.4L750.2 799.0L751.1 799.6L752.0 800.2L752.9 800.8L753.5 801.1L754.1 801.5L754.7 801.9L755.3 802.2L755.9 802.6L756.6 802.9L757.2 803.3L757.8 803.6L758.5 804.0L759.1 804.3L759.8 804.6L760.5 805.0L761.1 805.3L761.8 805.6L762.5 805.9L763.2 806.2L763.8 806.5L764.5 806.8L765.2 807.1L765.9 807.4L766.6 807.6L767.4 807.9L768.1 808.2L768.8 808.4L769.5 808.6L770.3 808.9L771.0 809.1L771.8 809.3L772.5 809.5L773.3 809.8L774.0 809.9L774.8 810.1L775.6 810.3L776.3 810.5L777.1 810.7L777.9 810.8L778.7 811.0L779.5 811.1L780.3 811.2L781.1 811.3L782.0 811.5L782.8 811.6L783.6 811.6L784.4 811.7L785.3 811.8L786.1 811.9L787.0 811.9L787.8 811.9L788.7 812.0L789.6 812.0L790.4 812.0L791.3 812.0L792.2 812.0L793.1 811.9L794.0 811.9L794.9 811.8L795.8 811.8L796.7 811.7L797.7 811.6L798.6 811.5L799.5 811.4" fill="none" stroke="#787878" stroke-width="3.6" stroke-linejoin="round" stroke-linecap="round"/>
<path d="M508.2 815.4L509.7 815.3L511.2 815.3L512.7 815.3L514.2 815.3L515.7 815.3L517.2 815.2L518.7 815.2L520.2 815.2L521.7 815.2L523.2 815.1L524.7 815.1L526.2 815.1L527.7 815.1L529.2 815.0L530.7 815.0L532.2 815.0L533.7 814.9L535.2 814.9L536.7 814.9L538.2 814.8L539.7 814.8L541.2 814.8L542.7 814.7L544.2 814.7L545.7 814.6L547.2 814.6L548.7 814.5L550.2 814.5L551.7 814.4L553.2 814.4L554.7 814.3L556.2 814.3L557.7 814.2L559.2 814.2L560.7 814.1L562.2 814.0L563.7 814.0L565.2 813.9L566.7 813.8L568.2 813.8L569.7 813.7L571.2 813.6L572.7 813.5L574.2 813.4L575.7 813.3L577.2 813.2L578.7 813.1L580.2 813.0L581.7 812.9L583.2 812.8L584.7 812.7L586.2 812.5L587.7 812.4L589.2 812.2L590.7 812.1L592.2 811.9L593.7 811.7L595.2 811.5L596.7 811.4L598.2 811.1L599.7 810.9L601.2 810.7L602.7 810.5L604.2 810.2L605.7 809.9L607.2 809.6L608.7 809.3L610.2 809.0L611.7 808.6L613.2 808.2L614.7 807.8L616.2 807.4L617.7 806.9L619.2 806.4L620.7 805.8L622.2 805.2L623.7 804.6L625.2 803.9L626.7 803.2L628.2 802.4L629.7 801.5L631.2 800.6L632.7 799.6L634.2 798.5L635.7 797.3L637.2 796.1L638.7 794.7L640.2 793.2L641.7 791.7L643.2 790.0L644.7 788.2L646.2 786.3L647.7 784.4L649.2 782.3L650.7 780.3L652.2 778.2L653.7 776.1L655.2 774.1L656.7 772.2L658.2 770.5L659.7 769.1L661.2 768.0L662.7 767.3L664.2 767.0L665.7 767.1L667.2 767.5L668.7 768.3L670.2 769.3L671.7 770.6L673.2 772.0L674.7 773.7L676.2 775.4L677.7 777.3L679.2 779.1L680.7 781.0L682.2 782.8L683.7 784.6L685.2 786.3L686.7 787.9L688.2 789.5L689.7 791.0L691.2 792.4L692.7 793.7L694.2 794.9L695.7 796.1L697.2 797.2L698.7 798.2L700.2 799.1L701.7 800.0L703.2 800.8L704.7 801.6L706.2 802.3L707.7 802.9L709.2 803.5L710.7 804.1L712.2 804.7L713.7 805.2L715.2 805.6L716.7 806.1L718.2 806.5L719.7 806.9L721.2 807.3L722.7 807.6L724.2 807.9L725.7 808.2L727.2 808.5L728.7 808.8L730.2 809.0L731.7 809.3L733.2 809.5L734.7 809.7L736.2 809.9L737.7 810.1L739.2 810.3L740.7 810.5L742.2 810.6L743.7 810.8L745.2 811.0L746.7 811.1L748.2 811.2L749.7 811.4L751.2 811.5L752.0 811.5" fill="none" stroke="#4aa08a" stroke-width="3.6" stroke-linejoin="round" stroke-linecap="round"/>
<path d="M508.2 815.2L509.7 815.2L511.2 815.2L512.7 815.1L514.2 815.1L515.7 815.1L517.2 815.0L518.7 815.0L520.2 815.0L521.7 814.9L523.2 814.9L524.7 814.8L526.2 814.8L527.7 814.8L529.2 814.7L530.7 814.7L532.2 814.6L533.7 814.6L535.2 814.5L536.7 814.5L538.2 814.4L539.7 814.3L541.2 814.3L542.7 814.2L544.2 814.1L545.7 814.1L547.2 814.0L548.7 813.9L550.2 813.8L551.7 813.7L553.2 813.7L554.7 813.6L556.2 813.5L557.7 813.3L559.2 813.2L560.7 813.1L562.2 813.0L563.7 812.9L565.2 812.7L566.7 812.6L568.2 812.4L569.7 812.2L571.2 812.1L572.7 811.9L574.2 811.7L575.7 811.5L577.2 811.2L578.7 811.0L580.2 810.8L581.7 810.5L583.2 810.2L584.7 809.9L586.2 809.5L587.7 809.2L589.2 808.8L590.7 808.4L592.2 807.9L593.7 807.4L595.2 806.9L596.7 806.4L598.2 805.7L599.7 805.1L601.2 804.4L602.7 803.6L604.2 802.8L605.7 801.9L607.2 800.9L608.7 799.9L610.2 798.8L611.7 797.6L613.2 796.3L614.7 795.0L616.2 793.5L617.7 792.1L619.2 790.5L620.7 788.9L622.2 787.3L623.7 785.8L625.2 784.3L626.7 782.9L628.2 781.6L629.7 780.6L631.2 779.7L632.7 779.2L634.2 779.0L635.7 779.1L637.2 779.4L638.7 780.0L640.2 780.8L641.7 781.8L643.2 782.9L644.7 784.1L646.2 785.5L647.7 786.9L649.2 788.3L650.7 789.7L652.2 791.1L653.7 792.4L655.2 793.7L656.7 795.0L658.2 796.1L659.7 797.3L661.2 798.3L662.7 799.3L664.2 800.2L665.7 801.1L667.2 801.9L668.7 802.7L670.2 803.4L671.7 804.0L673.2 804.7L674.7 805.2L676.2 805.8L677.7 806.3L679.2 806.7L680.7 807.2L682.2 807.6L683.7 808.0L685.2 808.3L686.7 808.6L688.2 809.0L689.7 809.3L691.2 809.5L692.7 809.8L694.2 810.0L695.7 810.3L697.2 810.5L698.7 810.7L700.2 810.9L701.7 811.1L703.2 811.2L704.7 811.4L706.2 811.5L707.7 811.7L709.2 811.8L710.7 812.0L712.2 812.1L713.7 812.2L715.2 812.3L716.7 812.4L718.2 812.5L719.7 812.6" fill="none" stroke="#5252a8" stroke-width="3.6" stroke-linejoin="round" stroke-linecap="round"/>
<path d="M508.2 814.9L509.7 814.8L511.2 814.8L512.7 814.7L514.2 814.7L515.7 814.6L517.2 814.6L518.7 814.5L520.2 814.5L521.7 814.4L523.2 814.3L524.7 814.3L526.2 814.2L527.7 814.1L529.2 814.0L530.7 814.0L532.2 813.9L533.7 813.8L535.2 813.7L536.7 813.6L538.2 813.5L539.7 813.3L541.2 813.2L542.7 813.1L544.2 812.9L545.7 812.8L547.2 812.6L548.7 812.5L550.2 812.3L551.7 812.1L553.2 811.9L554.7 811.7L556.2 811.4L557.7 811.2L559.2 810.9L560.7 810.6L562.2 810.3L563.7 810.0L565.2 809.6L566.7 809.2L568.2 808.8L569.7 808.4L571.2 807.9L572.7 807.4L574.2 806.8L575.7 806.2L577.2 805.5L578.7 804.8L580.2 804.1L581.7 803.2L583.2 802.3L584.7 801.4L586.2 800.4L587.7 799.3L589.2 798.1L590.7 797.0L592.2 795.7L593.7 794.5L595.2 793.2L596.7 791.9L598.2 790.7L599.7 789.6L601.2 788.6L602.7 787.7L604.2 787.0L605.7 786.6L607.2 786.4L608.7 786.5L610.2 786.7L611.7 787.2L613.2 787.9L614.7 788.8L616.2 789.7L617.7 790.8L619.2 792.0L620.7 793.1L622.2 794.3L623.7 795.5L625.2 796.6L626.7 797.8L628.2 798.8L629.7 799.8L631.2 800.8L632.7 801.7L634.2 802.5L635.7 803.3L637.2 804.1L638.7 804.8L640.2 805.4L641.7 806.0L643.2 806.5L644.7 807.1L646.2 807.5L647.7 808.0L649.2 808.4L650.7 808.8L652.2 809.1L653.7 809.5L655.2 809.8L656.7 810.1L658.2 810.3L659.7 810.6L661.2 810.8L662.7 811.0L664.2 811.3L665.7 811.5L667.2 811.6L668.7 811.8L670.2 812.0L671.7 812.1L673.2 812.3L674.7 812.4L676.2 812.5L677.7 812.7L679.2 812.8L680.7 812.9L682.2 813.0L683.7 813.1L685.2 813.2L686.7 813.3L688.0 813.3" fill="none" stroke="#c8406e" stroke-width="3.6" stroke-linejoin="round" stroke-linecap="round"/>
<path d="M508.2 814.6L509.7 814.5L511.2 814.4L512.7 814.4L514.2 814.3L515.7 814.2L517.2 814.1L518.7 814.0L520.2 813.9L521.7 813.8L523.2 813.7L524.7 813.6L526.2 813.5L527.7 813.3L529.2 813.2L530.7 813.1L532.2 812.9L533.7 812.7L535.2 812.5L536.7 812.3L538.2 812.1L539.7 811.9L541.2 811.7L542.7 811.4L544.2 811.1L545.7 810.8L547.2 810.5L548.7 810.1L550.2 809.8L551.7 809.3L553.2 808.9L554.7 808.4L556.2 807.9L557.7 807.3L559.2 806.7L560.7 806.1L562.2 805.4L563.7 804.6L565.2 803.8L566.7 803.0L568.2 802.1L569.7 801.2L571.2 800.2L572.7 799.3L574.2 798.3L575.7 797.4L577.2 796.5L578.7 795.7L580.2 795.0L581.7 794.4L583.2 794.0L584.7 793.7L585.8 793.7L587.7 793.8L589.2 794.1L590.7 794.6L592.2 795.2L593.7 795.9L595.2 796.7L596.7 797.5L598.2 798.4L599.7 799.3L601.2 800.2L602.7 801.0L604.2 801.9L605.7 802.7L607.2 803.5L608.7 804.3L610.2 805.0L611.7 805.6L613.2 806.2L614.7 806.8L616.2 807.4L617.7 807.9L619.2 808.3L620.7 808.8L622.2 809.2L623.7 809.5L625.2 809.9L626.7 810.2L628.2 810.5L629.7 810.8L631.2 811.0L632.7 811.3L634.2 811.5L635.7 811.7L637.2 811.9L638.7 812.1L640.2 812.3L641.7 812.4L643.2 812.6L644.7 812.7L646.2 812.9L647.7 813.0L649.2 813.1L650.7 813.2L652.2 813.3L653.7 813.4L655.2 813.5L656.0 813.6" fill="none" stroke="#505050" stroke-width="3.6" stroke-linejoin="round" stroke-linecap="round"/>
<path d="M1851.0 814.0L1855.6 814.0L1860.3 814.1L1864.9 814.1L1869.5 814.2L1874.1 814.2L1878.7 814.2L1883.2 814.2L1887.8 814.2L1892.3 814.2L1896.9 814.2L1901.4 814.2L1905.9 814.2L1910.4 814.1L1914.9 814.1L1919.3 814.1L1923.8 814.0L1928.2 814.0L1932.7 813.9L1937.1 813.8L1941.5 813.8L1946.0 813.7L1950.4 813.6L1954.8 813.6L1959.1 813.5L1963.5 813.4L1967.9 813.3L1972.3 813.2L1976.6 813.1L1981.0 813.1L1985.3 813.0L1989.7 812.9L1994.0 812.8L1998.4 812.7L2002.7 812.6L2007.0 812.5L2011.3 812.3L2015.7 812.2L2020.0 812.1L2024.3 812.0L2028.6 811.9L2032.9 811.8L2037.2 811.7L2041.5 811.6L2045.8 811.5L2050.1 811.4L2054.4 811.3L2058.7 811.1L2062.9 811.0L2067.2 810.9L2071.5 810.8L2075.8 810.7L2080.1 810.6L2084.4 810.5L2088.7 810.4L2093.0 810.3L2097.2 810.2L2101.5 810.1L2105.8 810.0L2110.1 809.8L2114.3 809.7L2118.6 809.6L2122.9 809.4L2127.1 809.3L2131.4 809.1L2135.6 808.9L2139.8 808.7L2144.1 808.5L2148.3 808.3L2152.5 808.0L2156.7 807.7L2160.9 807.5L2165.0 807.2L2169.2 806.8L2173.4 806.5L2177.5 806.1L2181.6 805.7L2185.7 805.3L2189.8 804.8L2193.9 804.4L2198.0 803.9L2202.1 803.3L2206.1 802.8L2210.1 802.2L2214.1 801.6L2218.1 800.9L2222.1 800.2L2226.1 799.5L2230.0 798.7L2233.9 797.9L2237.8 797.1L2241.7 796.3L2245.6 795.3L2249.4 794.4L2253.3 793.4L2257.1 792.4L2260.9 791.3L2264.6 790.2L2268.4 789.1L2272.1 787.9L2275.8 786.6L2279.4 785.4L2283.1 784.0L2286.7 782.7L2290.3 781.2L2293.9 779.8L2297.5 778.3L2301.0 776.7L2304.5 775.1L2308.0 773.4L2311.4 771.7L2314.8 769.9L2318.2 768.1L2321.6 766.2L2324.9 764.3L2328.2 762.3L2331.5 760.3L2334.7 758.2L2337.9 756.0L2341.0 753.9L2344.1 751.6L2347.2 749.3L2350.1 746.9L2353.1 744.5L2355.9 742.1L2358.7 739.5L2361.5 737.0L2364.1 734.3L2366.7 731.6L2369.3 728.9L2371.7 726.1L2374.1 723.3L2376.4 720.4L2378.7 717.4L2380.9 714.4L2383.0 711.4L2385.1 708.4L2387.1 705.3L2389.1 702.1L2391.1 699.0L2392.9 695.8L2394.8 692.6L2396.6 689.3L2398.3 686.1L2400.0 682.8L2401.7 679.5L2403.3 676.2L2404.9 672.9L2406.5 669.6L2408.1 666.2L2409.6 662.9L2411.1 659.6L2412.6 656.2L2414.0 652.9L2415.4 649.6L2416.8 646.2L2418.2 642.9L2419.6 639.6L2421.0 636.3L2422.3 632.9L2423.6 629.6L2424.9 626.3L2426.2 623.0L2427.5 619.7L2428.7 616.4L2430.0 613.2L2431.2 609.9L2432.4 606.6L2433.6 603.3L2434.7 600.0L2435.9 596.8L2437.0 593.5L2438.2 590.2L2439.3 587.0L2440.4 583.7L2441.5 580.5L2442.5 577.3L2443.6 574.0L2444.7 570.8L2445.7 567.6L2446.7 564.3L2447.7 561.1L2448.7 557.9L2449.7 554.7L2450.7 551.5L2451.7 548.3L2452.7 545.1L2453.6 541.9L2454.5 538.8L2455.5 535.6L2456.4 532.4L2457.3 529.3L2458.2 526.1L2459.1 523.0L2460.0 519.8L2460.9 516.7L2461.8 513.5L2462.6 510.4L2463.5 507.3L2464.3 504.2L2465.2 501.1L2466.0 498.0L2466.8 494.9L2467.7 491.8L2468.5 488.7L2469.3 485.6L2470.1 482.5L2470.9 479.5L2471.7 476.4L2472.5 473.4L2473.2 470.3L2474.0 467.3L2474.8 464.3L2475.5 461.2L2476.3 458.2L2477.0 455.2L2477.8 452.2L2478.5 449.2L2479.3 446.2L2480.0 443.2L2480.7 440.3L2481.5 437.3L2482.2 434.3L2482.9 431.4L2483.6 428.5L2484.3 425.5L2485.0 422.6L2485.7 419.7L2486.4 416.8L2487.1 413.8L2487.8 411.0L2488.4 408.1L2489.1 405.2L2489.8 402.3L2490.5 399.4L2491.1 396.6L2491.8 393.7L2492.5 390.9L2493.1 388.1L2493.8 385.2L2494.4 382.4L2495.1 379.6L2495.7 376.8L2496.4 374.0L2497.0 371.2L2497.7 368.5L2498.3 365.7L2498.9 363.0L2499.5 360.2L2500.2 357.5L2500.8 354.7L2501.4 352.0L2502.0 349.3L2502.7 346.6L2503.3 343.9L2503.9 341.2L2504.5 338.6L2505.1 335.9L2505.7 333.3L2506.3 330.6L2506.9 328.0L2507.6 325.3L2508.2 322.7L2508.8 320.1L2509.4 317.5L2510.0 314.9L2510.6 312.4L2511.1 309.8L2511.7 307.2L2512.3 304.7L2512.9 302.2L2513.5 299.6L2514.1 297.1L2514.7 294.6L2515.3 292.1L2515.9 289.6L2516.4 287.1L2517.0 284.7L2517.6 282.2L2518.2 279.8L2518.8 277.3L2519.3 274.9L2519.9 272.5L2520.5 270.1L2521.1 267.7L2521.6 265.3L2522.2 263.0L2522.8 260.6L2523.3 258.2L2523.9 255.9L2524.5 253.6L2525.0 251.3L2525.6 249.0L2526.2 246.7L2526.7 244.4L2527.3 242.1L2527.9 239.9L2528.4 237.6L2529.0 235.4L2529.5 233.2L2530.1 230.9L2530.7 228.7L2531.2 226.5L2531.8 224.4L2532.3 222.2L2532.9 220.1L2533.4 217.9L2534.0 215.8L2534.5 213.7L2535.1 211.6L2535.6 209.5L2536.2 207.4L2536.7 205.3L2537.3 203.3L2537.8 201.2L2538.3 199.2L2538.9 197.2L2539.4 195.2L2540.0 193.2L2540.5 191.2L2541.0 189.2L2541.6 187.3L2542.1 185.3L2542.6 183.4L2543.2 181.5L2543.7 179.6L2544.2 177.7L2544.8 175.8L2545.3 174.0L2545.8 172.1L2546.3 170.3L2546.8 168.5L2547.4 166.7L2547.9 164.9L2548.4 163.1L2548.9 161.3L2549.4 159.6L2549.9 157.8L2550.4 156.1L2550.9 154.4L2551.4 152.7L2551.9 151.0L2552.4 149.4L2552.9 147.7L2553.4 146.1L2553.9 144.5L2554.4 142.9L2554.9 141.3L2555.3 139.7L2555.8 138.2L2556.3 136.7L2556.8 135.1L2557.2 133.6L2557.7 132.1L2558.2 130.7L2558.6 129.2L2559.1 127.8L2559.5 126.4L2560.0 124.9L2560.4 123.6L2560.9 122.2L2561.3 120.8L2561.8 119.5L2562.2 118.2L2562.6 116.9L2563.0 115.6L2563.5 114.4L2563.9 113.1L2564.3 111.9L2564.7 110.7L2565.1 109.5L2565.5 108.4L2565.9 107.2L2566.3 106.1L2566.7 105.0L2567.0 104.0L2567.4 102.9L2567.8 101.9L2568.1 100.9L2568.5 99.9L2568.9 98.9L2569.2 98.0L2569.6 97.1L2569.9 96.2L2570.2 95.4L2570.6 94.5L2570.9 93.7L2571.2 93.0L2571.5 92.3L2571.8 91.6L2572.1 90.9L2572.5 90.3L2573.1 89.1L2573.7 88.2L2574.4 87.4L2575.2 87.0L2575.9 87.2L2576.5 87.7L2577.1 88.4L2577.5 89.1L2577.9 89.9L2578.2 90.5L2578.6 91.2L2578.9 91.9L2579.2 92.6L2579.6 93.4L2579.9 94.2L2580.3 95.0L2580.6 95.9L2581.0 96.8L2581.3 97.4L2581.5 98.0L2581.8 98.6L2582.0 99.3L2582.3 99.9L2582.5 100.6L2582.8 101.2L2583.1 101.9L2583.4 102.6L2583.6 103.3L2583.9 104.0L2584.2 104.7L2584.5 105.4L2584.8 106.1L2585.1 106.8L2585.4 107.6L2585.7 108.3L2586.0 109.0L2586.4 109.8L2586.7 110.6L2587.0 111.3L2587.3 112.1L2587.7 112.9L2588.0 113.7L2588.4 114.5L2588.7 115.3L2589.1 116.1L2589.4 116.9L2589.8 117.7L2590.1 118.5L2590.5 119.4L2590.9 120.2L2591.3 121.1L2591.7 121.9L2592.1 122.8L2592.5 123.6L2592.9 124.5L2593.3 125.4L2593.7 126.2L2594.1 127.1L2594.5 128.0L2595.0 128.9L2595.4 129.8L2595.8 130.7L2596.3 131.6L2596.7 132.5L2597.2 133.5L2597.7 134.4L2598.1 135.3L2598.6 136.3L2599.1 137.2L2599.6 138.2L2600.1 139.1L2600.6 140.1L2601.1 141.1L2601.6 142.0L2602.2 143.0L2602.7 144.0L2603.2 145.0L2603.8 146.0L2604.3 147.0L2604.9 148.1L2605.5 149.1L2606.1 150.1L2606.7 151.2L2607.3 152.2L2607.9 153.3L2608.5 154.3L2609.1 155.4L2609.7 156.5L2610.4 157.6L2611.0 158.7L2611.7 159.8L2612.3 160.9L2613.0 162.0L2613.7 163.2L2614.4 164.3L2615.1 165.4L2615.8 166.6L2616.5 167.7L2617.3 168.9L2618.0 170.0L2618.8 171.2L2619.6 172.4L2620.3 173.5L2621.1 174.7L2621.9 175.8L2622.8 177.0L2623.6 178.2L2624.4 179.3L2625.3 180.5L2626.1 181.6L2627.0 182.8L2627.9 183.9L2628.8 185.0L2629.7 186.2L2630.7 187.3L2631.6 188.4L2632.6 189.5L2633.5 190.6L2634.5 191.6L2635.5 192.7L2636.5 193.7L2637.6 194.8L2638.6 195.8L2639.7 196.8L2640.7 197.7L2641.8 198.7L2643.0 199.6L2644.1 200.5L2645.2 201.4L2646.4 202.3L2647.6 203.1L2648.7 203.9L2649.3 204.3L2650.0 204.7L2650.6 205.1L2651.2 205.5L2651.8 205.8L2652.4 206.2L2653.1 206.5L2653.7 206.9L2654.3 207.2L2655.0 207.5L2655.6 207.8L2656.3 208.1L2656.9 208.4L2657.6 208.7L2658.3 209.0L2658.9 209.3L2659.6 209.5L2660.3 209.8L2661.0 210.0L2661.7 210.3L2662.4 210.5L2663.1 210.7L2663.8 210.9L2664.5 211.1L2665.2 211.3L2665.9 211.4L2666.7 211.6L2667.4 211.7L2668.1 211.9L2668.9 212.0L2669.6 212.1L2670.3 212.2L2671.1 212.3L2671.8 212.4L2672.6 212.5L2673.4 212.6L2674.1 212.6L2674.9 212.7L2675.6 212.7L2676.4 212.8L2677.2 212.8L2678.0 212.8L2678.7 212.8L2679.5 212.8L2680.3 212.8L2681.1 212.8L2681.9 212.7L2682.7 212.7L2683.5 212.6L2684.3 212.6L2685.1 212.5L2685.9 212.4L2686.7 212.3L2687.5 212.2L2688.3 212.1L2689.1 212.0L2689.9 211.8L2690.7 211.7L2691.5 211.6L2692.3 211.4L2693.1 211.2L2693.9 211.0L2694.7 210.9L2695.6 210.7L2696.4 210.5L2697.2 210.2L2698.0 210.0L2698.8 209.8L2699.6 209.5L2700.4 209.3L2701.3 209.0L2702.1 208.7L2702.9 208.5L2703.7 208.2L2704.5 207.9L2705.3 207.6L2706.1 207.3L2706.9 206.9L2707.7 206.6L2708.5 206.2L2709.3 205.9L2710.1 205.5L2710.9 205.2L2711.7 204.8L2712.5 204.4L2713.3 204.0L2714.1 203.6L2714.9 203.2L2715.7 202.8L2716.5 202.4L2717.3 202.0L2718.0 201.5L2718.8 201.1L2719.6 200.7L2720.4 200.2L2721.1 199.8L2721.9 199.3L2722.7 198.8L2723.5 198.4L2724.2 197.9L2725.0 197.4L2725.7 197.0L2726.5 196.5L2727.3 196.0L2728.0 195.5L2728.8 195.1L2729.5 194.6L2730.2 194.1L2731.0 193.6L2731.7 193.1L2732.5 192.6L2733.2 192.1L2733.9 191.6L2734.6 191.1L2735.4 190.7L2736.1 190.2L2736.8 189.7L2737.5 189.2L2738.2 188.7L2738.9 188.2L2739.6 187.7L2740.3 187.3L2741.0 186.8" fill="none" stroke="#40b4a0" stroke-width="3.6" stroke-linejoin="round" stroke-linecap="round"/>
<path d="M1851.0 814.0L1853.2 814.0L1855.5 813.9L1857.7 813.9L1860.0 813.9L1862.2 813.8L1864.5 813.8L1866.7 813.8L1869.0 813.8L1871.2 813.7L1873.4 813.7L1875.7 813.7L1877.9 813.7L1880.1 813.7L1882.4 813.6L1884.6 813.6L1886.8 813.6L1889.0 813.6L1891.2 813.6L1893.5 813.5L1895.7 813.5L1897.9 813.5L1900.1 813.5L1902.3 813.5L1904.5 813.5L1906.7 813.4L1908.9 813.4L1911.1 813.4L1913.3 813.4L1915.5 813.4L1917.7 813.4L1919.9 813.3L1922.1 813.3L1924.2 813.3L1926.4 813.3L1928.6 813.3L1930.8 813.3L1932.9 813.2L1935.1 813.2L1937.3 813.2L1939.4 813.2L1941.6 813.1L1943.7 813.1L1945.9 813.1L1948.0 813.1L1950.2 813.1L1952.3 813.0L1954.4 813.0L1956.6 813.0L1958.7 812.9L1960.8 812.9L1962.9 812.9L1965.0 812.8L1967.2 812.8L1969.3 812.8L1971.4 812.7L1973.5 812.7L1975.6 812.6L1977.6 812.6L1979.7 812.6L1981.8 812.5L1983.9 812.5L1986.0 812.4L1988.0 812.4L1990.1 812.3L1992.2 812.2L1994.2 812.2L1996.3 812.1L1998.3 812.1L2000.4 812.0L2002.4 811.9L2004.4 811.9L2006.5 811.8L2008.5 811.7L2010.5 811.7L2012.5 811.6L2014.6 811.5L2016.6 811.4L2018.6 811.4L2020.6 811.3L2022.6 811.2L2024.6 811.1L2026.6 811.1L2028.6 811.0L2030.6 810.9L2032.6 810.9L2034.6 810.8L2036.6 810.7L2038.6 810.7L2040.6 810.6L2042.6 810.5L2044.6 810.5L2046.5 810.4L2048.5 810.4L2050.5 810.3L2052.5 810.3L2054.5 810.2L2056.5 810.2L2058.5 810.1L2060.5 810.1L2062.5 810.0L2064.5 810.0L2066.5 810.0L2068.5 809.9L2070.4 809.9L2072.4 809.8L2074.4 809.8L2076.4 809.7L2078.4 809.6L2080.3 809.6L2082.3 809.5L2084.3 809.4L2086.2 809.3L2088.2 809.2L2090.1 809.1L2092.1 809.0L2094.0 808.9L2096.0 808.8L2097.9 808.7L2099.8 808.5L2101.7 808.4L2103.7 808.2L2105.6 808.1L2107.5 807.9L2109.4 807.7L2111.3 807.5L2113.1 807.3L2115.0 807.0L2116.9 806.8L2118.7 806.5L2120.6 806.3L2122.4 806.0L2124.3 805.7L2126.1 805.4L2127.9 805.0L2129.7 804.7L2131.5 804.3L2133.3 804.0L2135.1 803.6L2136.9 803.2L2138.7 802.7L2140.4 802.3L2142.2 801.8L2143.9 801.4L2145.6 800.9L2147.3 800.3L2149.0 799.8L2150.7 799.2L2152.4 798.7L2154.1 798.1L2155.7 797.5L2157.4 796.8L2159.0 796.2L2160.7 795.5L2162.3 794.8L2163.9 794.1L2165.5 793.3L2167.1 792.6L2168.6 791.8L2170.2 791.0L2171.7 790.2L2173.2 789.3L2174.7 788.5L2176.2 787.6L2177.7 786.7L2179.2 785.8L2180.7 784.8L2182.1 783.9L2183.5 782.9L2184.9 782.0L2186.3 781.0L2187.7 779.9L2189.0 778.9L2190.4 777.9L2191.7 776.8L2193.0 775.7L2194.3 774.7L2195.6 773.6L2196.8 772.4L2198.1 771.3L2199.3 770.2L2200.5 769.0L2201.7 767.8L2202.9 766.7L2204.0 765.5L2205.1 764.2L2206.2 763.0L2207.3 761.8L2208.4 760.6L2209.5 759.3L2210.5 758.0L2211.5 756.8L2212.5 755.5L2213.5 754.2L2214.4 752.9L2215.3 751.5L2216.2 750.2L2217.1 748.9L2218.0 747.5L2218.9 746.2L2219.7 744.8L2220.5 743.5L2221.3 742.1L2222.0 740.7L2222.8 739.3L2223.5 737.9L2224.2 736.5L2224.9 735.1L2225.6 733.7L2226.2 732.2L2226.9 730.8L2227.5 729.4L2228.1 728.0L2228.7 726.5L2229.2 725.1L2229.8 723.6L2230.4 722.2L2230.9 720.8L2231.4 719.3L2231.9 717.9L2232.4 716.4L2232.9 715.0L2233.4 713.5L2233.8 712.1L2234.3 710.7L2234.7 709.2L2235.1 707.8L2235.6 706.3L2236.0 704.9L2236.4 703.5L2236.8 702.0L2237.2 700.6L2237.5 699.2L2237.9 697.8L2238.3 696.4L2238.6 694.9L2239.0 693.5L2239.3 692.1L2239.7 690.7L2240.0 689.3L2240.3 687.9L2240.7 686.5L2241.0 685.1L2241.3 683.7L2241.6 682.4L2242.0 681.0L2242.3 679.6L2242.6 678.2L2242.9 676.9L2243.2 675.5L2243.5 674.2L2243.8 672.8L2244.1 671.5L2244.4 670.1L2244.7 668.8L2245.0 667.5L2245.2 666.2L2245.5 664.8L2245.8 663.5L2246.1 662.2L2246.4 660.9L2246.6 659.6L2246.9 658.3L2247.2 657.0L2247.5 655.7L2247.7 654.4L2248.0 653.2L2248.3 651.9L2248.5 650.6L2248.8 649.4L2249.1 648.1L2249.3 646.8L2249.6 645.6L2249.8 644.4L2250.1 643.1L2250.3 641.9L2250.6 640.7L2250.8 639.4L2251.1 638.2L2251.3 637.0L2251.6 635.8L2251.8 634.6L2252.1 633.4L2252.3 632.2L2252.6 631.0L2252.8 629.8L2253.0 628.7L2253.3 627.5L2253.5 626.3L2253.8 625.2L2254.0 624.0L2254.2 622.9L2254.4 621.7L2254.7 620.6L2254.9 619.4L2255.1 618.3L2255.4 617.2L2255.6 616.1L2255.8 614.9L2256.0 613.8L2256.3 612.7L2256.5 611.6L2256.7 610.5L2256.9 609.5L2257.1 608.4L2257.4 607.3L2257.6 606.2L2257.8 605.2L2258.0 604.1L2258.2 603.1L2258.4 602.0L2258.7 601.0L2258.9 599.9L2259.1 598.9L2259.3 597.9L2259.5 596.9L2259.7 595.9L2259.9 594.8L2260.1 593.8L2260.3 592.9L2260.5 591.9L2260.7 590.9L2260.9 589.9L2261.1 588.9L2261.3 588.0L2261.5 587.0L2261.7 586.1L2261.9 585.1L2262.1 584.2L2262.3 583.3L2262.5 582.3L2262.7 581.4L2262.9 580.5L2263.1 579.6L2263.3 578.7L2263.5 577.8L2263.7 576.9L2263.9 576.0L2264.1 575.2L2264.3 574.3L2264.5 573.5L2264.7 572.6L2264.9 571.8L2265.1 570.9L2265.2 570.1L2265.4 569.3L2265.6 568.5L2265.8 567.7L2266.0 566.9L2266.2 566.1L2266.4 565.3L2266.5 564.5L2266.7 563.8L2266.9 563.0L2267.1 562.2L2267.3 561.5L2267.5 560.8L2267.6 560.0L2267.8 559.3L2268.0 558.6L2268.2 557.9L2268.3 557.2L2268.5 556.5L2268.7 555.9L2268.9 555.2L2269.1 554.6L2269.2 553.9L2269.4 553.3L2269.6 552.6L2269.8 552.0L2269.9 551.4L2270.3 550.2L2270.6 549.1L2271.0 548.0L2271.3 547.0L2271.6 546.0L2272.0 545.0L2272.3 544.1L2272.7 543.3L2273.1 542.5L2273.4 541.8L2273.8 541.2L2274.4 540.4L2275.2 539.9L2276.0 539.8L2276.7 540.2L2277.4 540.8L2278.0 541.4L2278.4 542.2L2278.9 543.0L2279.4 543.8L2279.7 544.4L2280.0 545.1L2280.3 545.8L2280.6 546.5L2281.0 547.2L2281.3 548.0L2281.6 548.7L2281.9 549.5L2282.2 550.4L2282.5 551.2L2282.8 552.1L2283.1 553.0L2283.5 553.9L2283.8 554.8L2284.1 555.8L2284.4 556.8L2284.8 557.8L2285.1 558.8L2285.4 559.8L2285.7 560.9L2286.1 562.0L2286.4 563.0L2286.8 564.2L2287.1 565.3L2287.4 566.4L2287.8 567.6L2288.1 568.8L2288.5 570.0L2288.6 570.6L2288.8 571.2L2289.0 571.8L2289.2 572.4L2289.3 573.0L2289.5 573.7L2289.7 574.3L2289.9 574.9L2290.0 575.6L2290.2 576.2L2290.4 576.9L2290.6 577.5L2290.8 578.2L2290.9 578.8L2291.1 579.5L2291.3 580.1L2291.5 580.8L2291.7 581.5L2291.9 582.2L2292.0 582.8L2292.2 583.5L2292.4 584.2L2292.6 584.9L2292.8 585.6L2293.0 586.3L2293.2 587.0L2293.4 587.7L2293.6 588.4L2293.8 589.1L2293.9 589.8L2294.1 590.6L2294.3 591.3L2294.5 592.0L2294.7 592.7L2294.9 593.5L2295.1 594.2L2295.3 595.0L2295.5 595.7L2295.7 596.4L2295.9 597.2L2296.1 597.9L2296.3 598.7L2296.5 599.5L2296.7 600.2L2297.0 601.0L2297.2 601.8L2297.4 602.5L2297.6 603.3L2297.8 604.1L2298.0 604.9L2298.2 605.7L2298.4 606.5L2298.7 607.2L2298.9 608.0L2299.1 608.8L2299.3 609.6L2299.6 610.4L2299.8 611.2L2300.0 612.1L2300.2 612.9L2300.5 613.7L2300.7 614.5L2300.9 615.3L2301.2 616.2L2301.4 617.0L2301.6 617.8L2301.9 618.6L2302.1 619.5L2302.4 620.3L2302.6 621.2L2302.9 622.0L2303.1 622.8L2303.4 623.7L2303.6 624.5L2303.9 625.4L2304.1 626.3L2304.4 627.1L2304.7 628.0L2304.9 628.8L2305.2 629.7L2305.5 630.6L2305.7 631.4L2306.0 632.3L2306.3 633.2L2306.6 634.1L2306.9 635.0L2307.1 635.8L2307.4 636.7L2307.7 637.6L2308.0 638.5L2308.3 639.4L2308.6 640.3L2308.9 641.2L2309.2 642.1L2309.5 643.0L2309.8 643.9L2310.2 644.8L2310.5 645.7L2310.8 646.6L2311.1 647.5L2311.4 648.4L2311.8 649.3L2312.1 650.2L2312.5 651.2L2312.8 652.1L2313.1 653.0L2313.5 653.9L2313.8 654.9L2314.2 655.8L2314.6 656.7L2314.9 657.6L2315.3 658.6L2315.7 659.5L2316.0 660.4L2316.4 661.4L2316.8 662.3L2317.2 663.2L2317.6 664.2L2318.0 665.1L2318.4 666.0L2318.8 667.0L2319.2 667.9L2319.6 668.9L2320.1 669.8L2320.5 670.7L2320.9 671.7L2321.4 672.6L2321.8 673.6L2322.2 674.5L2322.7 675.4L2323.2 676.4L2323.6 677.3L2324.1 678.2L2324.6 679.2L2325.0 680.1L2325.5 681.1L2326.0 682.0L2326.5 682.9L2327.0 683.8L2327.5 684.8L2328.0 685.7L2328.6 686.6L2329.1 687.6L2329.6 688.5L2330.2 689.4L2330.7 690.3L2331.3 691.2L2331.8 692.1L2332.4 693.1L2332.9 694.0L2333.5 694.9L2334.1 695.8L2334.7 696.7L2335.3 697.6L2335.9 698.5L2336.5 699.3L2337.1 700.2L2337.8 701.1L2338.4 702.0L2339.1 702.9L2339.7 703.7L2340.4 704.6L2341.0 705.5L2341.7 706.3L2342.4 707.2L2343.1 708.0L2343.8 708.9L2344.5 709.7L2345.2 710.5L2345.9 711.4L2346.7 712.2L2347.4 713.0L2348.2 713.8L2348.9 714.6L2349.7 715.4L2350.5 716.2L2351.3 717.0L2352.1 717.8L2352.9 718.6L2353.7 719.3L2354.5 720.1L2355.3 720.8L2356.2 721.6L2357.0 722.3L2357.9 723.1L2358.7 723.8L2359.6 724.5L2360.5 725.3L2361.4 726.0L2362.2 726.7L2363.1 727.4L2364.1 728.1L2365.0 728.8L2365.9 729.5L2366.8 730.1L2367.8 730.8L2368.7 731.5L2369.7 732.1L2370.7 732.8L2371.6 733.4L2372.6 734.0L2373.6 734.7L2374.6 735.3L2375.6 735.9L2376.6 736.5L2377.7 737.1L2378.7 737.7L2379.7 738.3L2380.8 738.9L2381.8 739.5L2382.9 740.0L2383.9 740.6L2385.0 741.2L2386.1 741.7L2387.2 742.3L2388.3 742.8L2389.4 743.3L2390.5 743.8L2391.6 744.3L2392.7 744.9L2393.8 745.4L2395.0 745.8L2396.1 746.3L2397.2 746.8L2398.4 747.3L2399.6 747.7L2400.7 748.2L2401.9 748.7L2403.1 749.1L2404.3 749.5L2405.4 750.0L2406.6 750.4L2407.8 750.8L2409.0 751.2L2410.3 751.6L2411.5 752.0L2412.7 752.4L2413.9 752.7L2415.2 753.1L2416.4 753.5L2417.6 753.8L2418.9 754.2L2420.1 754.5L2421.4 754.8L2422.7 755.2L2423.9 755.5L2425.2 755.8L2426.5 756.1L2427.8 756.4L2429.0 756.7L2430.3 757.0L2431.6 757.2L2432.9 757.5L2434.2 757.7L2435.5 758.0L2436.8 758.2L2438.1 758.5L2439.5 758.7L2440.8 758.9L2442.1 759.1L2443.4 759.3L2444.8 759.5L2446.1 759.7L2447.4 759.9L2448.8 760.1L2450.1 760.2L2451.5 760.4L2452.8 760.5L2454.2 760.7L2455.5 760.8L2456.9 761.0L2458.2 761.1L2459.6 761.2L2460.9 761.4L2462.3 761.5L2463.7 761.6L2465.1 761.7L2466.4 761.8L2467.8 761.9L2469.2 762.0L2470.6 762.1L2471.9 762.2L2473.3 762.2L2474.7 762.3L2476.1 762.4L2477.5 762.5L2478.9 762.5L2480.3 762.6L2481.6 762.7L2483.0 762.7L2484.4 762.8L2485.8 762.8L2487.2 762.9L2488.6 762.9L2490.0 763.0L2491.4 763.0L2492.8 763.1L2494.2 763.1L2495.6 763.2L2497.0 763.2L2498.4 763.2L2499.8 763.3L2501.2 763.3L2502.6 763.4L2504.0 763.4L2505.4 763.4L2506.8 763.5L2508.2 763.5L2509.6 763.6L2511.0 763.6L2512.4 763.7L2513.8 763.7L2515.2 763.8L2516.5 763.8L2517.9 763.9L2519.3 763.9L2520.7 764.0L2522.1 764.0L2523.5 764.1L2524.9 764.2L2526.2 764.2L2527.6 764.3L2529.0 764.4" fill="none" stroke="#a0a830" stroke-width="3.6" stroke-linejoin="round" stroke-linecap="round"/>
<path d="M1851.0 814.0L1852.3 814.0L1853.5 814.0L1854.8 814.0L1856.0 814.0L1857.3 814.0L1858.5 814.0L1859.7 814.0L1861.0 814.0L1862.2 814.0L1863.4 814.0L1864.7 814.0L1865.9 814.0L1867.1 813.9L1868.4 813.9L1869.6 813.9L1870.8 813.9L1872.0 813.9L1873.3 813.9L1874.5 813.9L1875.7 813.8L1876.9 813.8L1878.1 813.8L1879.3 813.8L1880.5 813.8L1881.7 813.7L1882.9 813.7L1884.1 813.7L1885.3 813.7L1886.5 813.6L1887.7 813.6L1888.9 813.6L1890.1 813.6L1891.3 813.5L1892.5 813.5L1893.6 813.5L1894.8 813.5L1896.0 813.4L1897.2 813.4L1898.4 813.4L1899.5 813.3L1900.7 813.3L1901.9 813.3L1903.0 813.2L1904.2 813.2L1905.4 813.1L1906.5 813.1L1907.7 813.1L1908.9 813.0L1910.0 813.0L1911.2 813.0L1912.3 812.9L1913.5 812.9L1914.6 812.8L1915.8 812.8L1916.9 812.8L1918.1 812.7L1919.2 812.7L1920.3 812.6L1921.5 812.6L1922.6 812.6L1923.8 812.5L1924.9 812.5L1926.0 812.4L1927.2 812.4L1928.3 812.3L1929.4 812.3L1930.5 812.2L1931.7 812.2L1932.8 812.2L1933.9 812.1L1935.0 812.1L1936.1 812.0L1937.2 812.0L1938.4 811.9L1939.5 811.9L1940.6 811.8L1941.7 811.8L1942.8 811.7L1943.9 811.7L1945.0 811.6L1946.1 811.6L1947.2 811.6L1948.3 811.5L1949.4 811.5L1950.5 811.4L1951.6 811.4L1952.7 811.3L1953.8 811.3L1954.9 811.2L1955.9 811.2L1957.0 811.1L1958.1 811.1L1959.2 811.0L1960.3 811.0L1961.4 810.9L1962.4 810.9L1963.5 810.8L1964.6 810.8L1965.7 810.7L1966.7 810.7L1967.8 810.7L1968.9 810.6L1969.9 810.6L1971.0 810.5L1972.1 810.5L1973.1 810.4L1974.2 810.4L1975.2 810.3L1976.3 810.3L1977.4 810.2L1978.4 810.2L1979.5 810.1L1980.5 810.1L1981.6 810.1L1982.6 810.0L1983.7 810.0L1984.7 809.9L1985.7 809.9L1986.8 809.8L1987.8 809.8L1988.9 809.8L1989.9 809.7L1990.9 809.7L1992.0 809.6L1993.0 809.6L1994.0 809.5L1995.1 809.5L1996.1 809.5L1997.1 809.4L1998.1 809.4L1999.2 809.3L2000.2 809.3L2001.2 809.3L2002.2 809.2L2003.2 809.2L2004.3 809.1L2005.3 809.1L2006.3 809.1L2007.3 809.0L2008.3 809.0L2009.3 809.0L2010.3 808.9L2011.3 808.9L2012.3 808.9L2013.3 808.8L2014.3 808.8L2015.3 808.7L2016.3 808.7L2017.3 808.7L2018.3 808.6L2019.3 808.6L2020.3 808.6L2021.3 808.5L2022.3 808.5L2023.3 808.4L2024.2 808.4L2025.2 808.4L2026.2 808.3L2027.2 808.3L2028.2 808.2L2029.1 808.2L2030.1 808.2L2031.1 808.1L2032.1 808.1L2033.0 808.0L2034.0 808.0L2035.0 807.9L2035.9 807.8L2036.9 807.8L2037.8 807.7L2038.8 807.7L2039.8 807.6L2040.7 807.6L2041.7 807.5L2042.6 807.4L2043.6 807.4L2044.5 807.3L2045.5 807.2L2046.4 807.1L2047.3 807.0L2048.3 807.0L2049.2 806.9L2050.1 806.8L2051.1 806.7L2052.0 806.6L2052.9 806.5L2053.8 806.4L2054.7 806.3L2055.7 806.2L2056.6 806.1L2057.5 806.0L2058.4 805.8L2059.3 805.7L2060.2 805.6L2061.0 805.5L2061.9 805.3L2062.8 805.2L2063.7 805.0L2064.6 804.9L2065.4 804.7L2066.3 804.6L2067.1 804.4L2068.0 804.3L2068.9 804.1L2069.7 803.9L2070.5 803.7L2071.4 803.5L2072.2 803.4L2073.0 803.2L2073.9 803.0L2074.7 802.7L2075.5 802.5L2076.3 802.3L2077.1 802.1L2077.9 801.9L2078.7 801.6L2079.5 801.4L2080.2 801.2L2081.0 800.9L2081.8 800.6L2082.6 800.4L2083.3 800.1L2084.1 799.8L2084.8 799.6L2085.6 799.3L2086.3 799.0L2087.0 798.7L2087.8 798.4L2088.5 798.1L2089.2 797.8L2089.9 797.5L2090.6 797.1L2091.3 796.8L2092.0 796.5L2092.7 796.1L2093.3 795.8L2094.0 795.4L2094.7 795.1L2095.3 794.7L2096.0 794.3L2096.6 794.0L2097.3 793.6L2097.9 793.2L2098.5 792.8L2099.2 792.4L2099.8 792.0L2100.4 791.6L2101.0 791.1L2102.2 790.3L2103.3 789.4L2104.5 788.5L2105.6 787.6L2106.7 786.7L2107.8 785.7L2108.8 784.8L2109.9 783.8L2110.9 782.8L2111.9 781.8L2112.9 780.8L2113.8 779.8L2114.8 778.8L2115.7 777.8L2116.6 776.7L2117.5 775.7L2118.3 774.6L2119.2 773.6L2120.0 772.5L2120.9 771.5L2121.7 770.4L2122.5 769.4L2123.2 768.3L2124.0 767.3L2124.7 766.2L2125.5 765.2L2126.2 764.2L2126.9 763.1L2127.6 762.1L2128.3 761.1L2129.0 760.0L2129.6 759.0L2130.3 758.0L2130.9 757.0L2131.5 756.0L2132.1 755.1L2132.7 754.1L2133.3 753.1L2133.9 752.2L2134.5 751.2L2135.1 750.3L2135.6 749.4L2136.2 748.5L2136.7 747.6L2137.2 746.7L2137.7 745.9L2138.3 745.0L2138.8 744.2L2139.3 743.4L2139.7 742.6L2140.2 741.8L2140.7 741.0L2141.2 740.3L2141.6 739.5L2142.1 738.8L2142.5 738.1L2142.9 737.5L2143.4 736.8L2143.8 736.2L2144.2 735.5L2144.9 734.6L2145.5 733.8L2146.1 733.0L2146.7 732.3L2147.3 731.6L2147.9 731.0L2148.6 730.4L2149.2 730.0L2149.9 729.6L2150.8 729.3L2151.8 729.3L2152.6 729.5L2153.2 729.7L2153.9 729.9L2154.6 730.3L2155.4 730.8L2156.1 731.3L2156.8 731.9L2157.6 732.5L2158.3 733.2L2159.1 733.9L2159.8 734.6L2160.6 735.5L2161.2 736.1L2161.8 736.7L2162.4 737.4L2163.0 738.1L2163.6 738.8L2164.2 739.6L2164.8 740.3L2165.5 741.1L2166.1 741.9L2166.8 742.7L2167.5 743.5L2168.1 744.3L2168.8 745.2L2169.5 746.0L2170.3 746.9L2171.0 747.8L2171.7 748.7L2172.2 749.3L2172.7 749.9L2173.3 750.6L2173.8 751.2L2174.3 751.8L2174.9 752.4L2175.4 753.0L2176.0 753.7L2176.5 754.3L2177.1 754.9L2177.7 755.6L2178.3 756.2L2178.9 756.8L2179.5 757.5L2180.1 758.1L2180.7 758.7L2181.3 759.3L2182.0 760.0L2182.6 760.6L2183.3 761.2L2184.0 761.9L2184.6 762.5L2185.3 763.1L2186.0 763.7L2186.7 764.3L2187.4 764.9L2188.2 765.6L2188.9 766.2L2189.7 766.8L2190.4 767.4L2191.2 768.0L2191.9 768.6L2192.7 769.2L2193.5 769.8L2194.3 770.4L2195.1 770.9L2196.0 771.5L2196.8 772.1L2197.6 772.7L2198.5 773.2L2199.3 773.8L2200.2 774.3L2201.1 774.9L2202.0 775.4L2202.9 776.0L2203.8 776.5L2204.7 777.0L2205.6 777.6L2206.6 778.1L2207.5 778.6L2208.5 779.1L2209.4 779.6L2210.4 780.1L2211.4 780.6L2212.4 781.0L2213.4 781.5L2214.4 782.0L2215.4 782.4L2216.4 782.9L2217.5 783.3L2218.5 783.7L2219.6 784.1L2220.6 784.5L2221.7 784.9L2222.8 785.3L2223.9 785.7L2225.0 786.1L2226.1 786.5L2227.2 786.8L2228.3 787.2L2229.4 787.5L2230.6 787.8L2231.7 788.1L2232.9 788.4L2234.0 788.7L2235.2 789.0L2236.4 789.3L2237.6 789.6L2238.8 789.9L2239.4 790.0L2240.0 790.1L2240.6 790.2L2241.2 790.4L2241.8 790.5L2242.4 790.6L2243.0 790.7L2243.6 790.8L2244.3 790.9L2244.9 791.0L2245.5 791.1L2246.1 791.3L2246.7 791.4L2247.4 791.5L2248.0 791.6L2248.6 791.7L2249.3 791.7L2249.9 791.8L2250.5 791.9L2251.2 792.0L2251.8 792.1L2252.4 792.2L2253.1 792.3L2253.7 792.4L2254.4 792.4L2255.0 792.5L2255.7 792.6L2256.3 792.7L2257.0 792.7L2257.6 792.8L2258.3 792.9L2258.9 792.9L2259.6 793.0L2260.3 793.1L2260.9 793.1L2261.6 793.2L2262.3 793.3L2262.9 793.3L2263.6 793.4L2264.3 793.4L2264.9 793.5L2265.6 793.5L2266.3 793.6L2267.0 793.6L2267.6 793.7L2268.3 793.7L2269.0 793.8L2269.7 793.8L2270.4 793.8L2271.1 793.9L2271.7 793.9L2272.4 794.0L2273.1 794.0L2273.8 794.0L2274.5 794.1L2275.2 794.1L2275.9 794.1L2276.6 794.2L2277.3 794.2L2278.0 794.2L2278.7 794.2L2279.4 794.3L2280.1 794.3L2280.8 794.3L2281.5 794.3L2282.2 794.4L2282.9 794.4L2283.6 794.4L2284.3 794.4L2285.1 794.4L2285.8 794.4L2286.5 794.5L2287.2 794.5L2287.9 794.5L2288.6 794.5L2289.4 794.5L2290.1 794.5L2290.8 794.6L2291.5 794.6L2292.2 794.6L2293.0 794.6L2293.7 794.6L2294.4 794.6L2295.1 794.6L2295.9 794.6L2296.6 794.7L2297.3 794.7L2298.0 794.7L2298.8 794.7L2299.5 794.7L2300.2 794.7L2301.0 794.7L2301.7 794.7L2302.4 794.7L2303.2 794.8L2303.9 794.8L2304.6 794.8L2305.4 794.8L2306.1 794.8L2306.9 794.8L2307.6 794.8L2308.3 794.8L2309.1 794.8L2309.8 794.9L2310.6 794.9L2311.3 794.9L2312.0 794.9L2312.8 794.9L2313.5 794.9L2314.3 795.0L2315.0 795.0L2315.8 795.0L2316.5 795.0L2317.2 795.0L2318.0 795.1L2318.7 795.1L2319.5 795.1L2320.2 795.1L2321.0 795.2L2321.7 795.2L2322.5 795.2L2323.2 795.3L2324.0 795.3L2324.7 795.3L2325.4 795.4L2326.2 795.4L2326.9 795.4L2327.7 795.5L2328.4 795.5L2329.2 795.6L2329.9 795.6L2330.7 795.7L2331.4 795.7L2332.2 795.8L2332.9 795.8L2333.6 795.9L2334.4 795.9L2335.1 796.0L2335.9 796.1L2336.6 796.1L2337.4 796.2L2338.1 796.3L2338.9 796.3L2339.6 796.4" fill="none" stroke="#707070" stroke-width="3.6" stroke-linejoin="round" stroke-linecap="round"/>
<path d="M1851.0 814.0L1851.8 813.9L1852.6 813.9L1853.4 813.8L1854.2 813.7L1855.0 813.7L1855.8 813.6L1856.6 813.6L1857.4 813.5L1858.2 813.5L1858.9 813.4L1859.7 813.4L1860.5 813.3L1861.3 813.3L1862.1 813.2L1862.9 813.2L1863.7 813.1L1864.5 813.1L1865.3 813.1L1866.1 813.0L1866.9 813.0L1867.6 813.0L1868.4 812.9L1869.2 812.9L1870.0 812.9L1870.8 812.8L1871.6 812.8L1872.4 812.8L1873.2 812.8L1873.9 812.7L1874.7 812.7L1875.5 812.7L1876.3 812.7L1877.1 812.7L1877.9 812.7L1878.6 812.6L1879.4 812.6L1880.2 812.6L1881.0 812.6L1881.8 812.6L1882.5 812.6L1883.3 812.6L1884.1 812.6L1884.9 812.6L1885.6 812.6L1886.4 812.6L1887.2 812.6L1888.0 812.6L1888.7 812.6L1889.5 812.6L1890.3 812.6L1891.1 812.6L1891.8 812.6L1892.6 812.6L1893.4 812.6L1894.1 812.6L1894.9 812.6L1895.7 812.6L1896.4 812.6L1897.2 812.6L1898.0 812.6L1898.7 812.6L1899.5 812.6L1900.3 812.6L1901.0 812.6L1901.8 812.6L1902.5 812.6L1903.3 812.6L1904.0 812.6L1904.8 812.7L1905.6 812.7L1906.3 812.7L1907.1 812.7L1907.8 812.7L1908.6 812.7L1909.3 812.7L1910.1 812.7L1910.8 812.7L1911.6 812.7L1912.3 812.8L1913.1 812.8L1913.8 812.8L1914.5 812.8L1915.3 812.8L1916.0 812.8L1916.8 812.8L1917.5 812.8L1918.2 812.8L1919.0 812.8L1919.7 812.9L1920.4 812.9L1921.2 812.9L1921.9 812.9L1922.6 812.9L1923.4 812.9L1924.1 812.9L1924.8 812.9L1925.6 812.9L1926.3 812.9L1927.0 812.9L1927.7 813.0L1928.5 813.0L1929.2 813.0L1929.9 813.0L1930.6 813.0L1931.3 813.0L1932.0 813.0L1932.8 813.0L1933.5 813.0L1934.2 813.0L1934.9 813.0L1935.6 813.0L1936.3 813.0L1937.0 813.0L1937.7 813.0L1938.4 813.0L1939.1 813.0L1939.8 813.0L1940.5 813.0L1941.2 813.0L1941.9 813.0L1942.6 813.0L1943.3 813.0L1944.0 813.0L1944.7 813.0L1945.4 813.0L1946.1 813.0L1946.8 813.0L1947.5 813.0L1948.2 813.0L1948.8 812.9L1949.5 812.9L1950.2 812.9L1950.9 812.9L1951.6 812.9L1952.2 812.9L1952.9 812.9L1953.6 812.9L1954.3 812.8L1954.9 812.8L1955.6 812.8L1956.3 812.8L1956.9 812.8L1957.6 812.8L1958.3 812.7L1958.9 812.7L1959.6 812.7L1960.3 812.7L1960.9 812.6L1961.6 812.6L1962.2 812.6L1962.9 812.6L1963.5 812.5L1964.2 812.5L1964.8 812.5L1965.5 812.4L1966.1 812.4L1966.8 812.4L1967.4 812.3L1968.1 812.3L1968.7 812.3L1969.3 812.2L1970.0 812.2L1970.6 812.2L1971.2 812.1L1971.9 812.1L1972.5 812.0L1973.1 812.0L1973.8 812.0L1974.4 811.9L1975.0 811.9L1975.6 811.8L1976.3 811.8L1976.9 811.7L1977.5 811.7L1978.1 811.6L1978.7 811.6L1979.3 811.5L1980.0 811.5L1980.6 811.4L1981.2 811.3L1981.8 811.3L1982.4 811.2L1983.0 811.2L1983.6 811.1L1984.8 811.0L1986.0 810.8L1987.2 810.7L1988.3 810.6L1989.5 810.4L1990.7 810.3L1991.8 810.1L1993.0 810.0L1994.1 809.8L1995.2 809.6L1996.4 809.4L1997.5 809.3L1998.6 809.1L1999.7 808.9L2000.8 808.7L2001.9 808.5L2003.0 808.3L2004.0 808.1L2005.1 807.9L2006.1 807.6L2007.2 807.4L2008.2 807.2L2009.3 806.9L2010.3 806.7L2011.3 806.5L2012.3 806.2L2013.3 805.9L2014.3 805.7L2015.3 805.4L2016.3 805.2L2017.2 804.9L2018.2 804.6L2019.1 804.3L2020.1 804.0L2021.0 803.7L2022.0 803.4L2022.9 803.1L2023.8 802.8L2024.7 802.5L2025.6 802.2L2026.5 801.9L2027.3 801.6L2028.2 801.2L2029.1 800.9L2029.9 800.6L2030.8 800.3L2031.6 799.9L2032.4 799.6L2033.2 799.2L2034.1 798.9L2034.9 798.5L2035.7 798.2L2036.4 797.8L2037.2 797.5L2038.0 797.1L2038.7 796.7L2039.5 796.4L2040.2 796.0L2041.0 795.6L2041.7 795.3L2042.4 794.9L2043.1 794.5L2043.8 794.1L2044.5 793.8L2045.2 793.4L2045.9 793.0L2046.5 792.7L2047.2 792.3L2047.9 791.9L2048.5 791.5L2049.1 791.1L2049.8 790.8L2050.4 790.4L2051.0 790.0L2051.6 789.7L2052.5 789.1L2053.4 788.6L2054.2 788.0L2055.0 787.5L2055.9 787.0L2056.7 786.4L2057.5 785.9L2058.2 785.4L2059.0 784.9L2059.7 784.5L2060.5 784.0L2061.2 783.6L2061.9 783.2L2062.6 782.8L2063.3 782.4L2064.0 782.0L2064.8 781.7L2065.5 781.4L2066.2 781.1L2067.1 780.9L2068.0 780.8L2068.9 780.7L2069.6 780.7L2070.4 780.8L2071.0 780.9L2071.8 781.1L2072.5 781.3L2073.2 781.6L2073.9 781.8L2074.6 782.1L2075.3 782.4L2076.0 782.8L2076.7 783.1L2077.4 783.5L2078.1 783.8L2078.8 784.2L2079.6 784.6L2080.3 785.0L2081.1 785.4L2081.9 785.8L2082.7 786.2L2083.3 786.5L2083.9 786.8L2084.5 787.1L2085.2 787.5L2085.8 787.8L2086.5 788.1L2087.1 788.4L2087.8 788.7L2088.5 789.1L2089.2 789.4L2089.9 789.7L2090.6 790.0L2091.3 790.4L2092.0 790.7L2092.8 791.0L2093.5 791.3L2094.3 791.6L2095.0 791.9L2095.8 792.2L2096.6 792.5L2097.4 792.8L2098.2 793.1L2099.0 793.4L2099.8 793.7L2100.7 794.0L2101.5 794.3L2102.4 794.6L2103.2 794.9L2104.1 795.2L2105.0 795.4L2105.9 795.7L2106.8 796.0L2107.4 796.2L2108.0 796.3L2108.6 796.5L2109.2 796.7L2109.8 796.8L2110.5 797.0L2111.1 797.2L2111.7 797.3L2112.4 797.5L2113.0 797.6L2113.7 797.8L2114.3 798.0L2115.0 798.1L2115.6 798.3L2116.3 798.4L2116.9 798.5L2117.6 798.7L2118.3 798.8L2119.0 799.0L2119.7 799.1L2120.3 799.2L2121.0 799.4L2121.7 799.5L2122.4 799.6L2123.1 799.7L2123.8 799.9L2124.6 800.0L2125.3 800.1L2126.0 800.2L2126.7 800.3L2127.4 800.4L2128.2 800.5L2128.9 800.6L2129.6 800.7L2130.4 800.8L2131.1 800.9L2131.9 801.0L2132.6 801.1L2133.4 801.2L2134.1 801.3L2134.9 801.4L2135.7 801.5L2136.4 801.6L2137.2 801.7L2138.0 801.7L2138.8 801.8L2139.6 801.9L2140.4 802.0L2141.1 802.0L2141.9 802.1L2142.7 802.2L2143.5 802.2L2144.4 802.3L2145.2 802.4L2146.0 802.4L2146.8 802.5L2147.6 802.5L2148.4 802.6L2149.3 802.6L2150.1 802.7L2150.9 802.8L2151.8 802.8L2152.6 802.8L2153.4 802.9L2154.3 802.9L2155.1 803.0L2156.0 803.0L2156.8 803.1L2157.7 803.1L2158.5 803.1L2159.4 803.2L2160.3 803.2L2161.1 803.3L2162.0 803.3L2162.9 803.3L2163.7 803.4L2164.6 803.4L2165.5 803.4L2166.4 803.5L2167.3 803.5L2168.2 803.5L2169.1 803.6L2169.9 803.6L2170.8 803.6L2171.7 803.6L2172.6 803.7L2173.5 803.7L2174.4 803.7L2175.3 803.8L2176.3 803.8L2177.2 803.8L2178.1 803.9L2179.0 803.9L2179.9 803.9L2180.8 804.0L2181.7 804.0L2182.7 804.0L2183.6 804.1L2184.5 804.1L2185.4 804.1L2186.4 804.2L2187.3 804.2L2188.2 804.3L2189.2 804.3L2190.1 804.4L2191.0 804.4L2192.0 804.5L2192.9 804.5L2193.9 804.6L2194.8 804.6L2195.7 804.7L2196.7 804.8L2197.6 804.8L2198.6 804.9L2199.5 805.0" fill="none" stroke="#4a9a88" stroke-width="3.6" stroke-linejoin="round" stroke-linecap="round"/>
<path d="M1853.8 813.2L1854.8 813.2L1855.9 813.2L1856.9 813.2L1857.9 813.2L1858.9 813.2L1860.0 813.2L1861.0 813.2L1862.0 813.2L1863.1 813.2L1864.1 813.2L1865.1 813.2L1866.1 813.2L1867.1 813.2L1868.2 813.2L1869.2 813.2L1870.2 813.2L1871.2 813.2L1872.2 813.2L1873.3 813.1L1874.3 813.1L1875.3 813.1L1876.3 813.1L1877.3 813.1L1878.3 813.1L1879.3 813.1L1880.3 813.1L1881.3 813.1L1882.3 813.1L1883.3 813.1L1884.3 813.0L1885.3 813.0L1886.3 813.0L1887.3 813.0L1888.3 813.0L1889.3 813.0L1890.3 813.0L1891.3 813.0L1892.3 813.0L1893.3 813.0L1894.3 812.9L1895.2 812.9L1896.2 812.9L1897.2 812.9L1898.2 812.9L1899.2 812.9L1900.2 812.9L1901.1 812.9L1902.1 812.9L1903.1 812.9L1904.1 812.9L1905.0 812.9L1906.0 812.9L1907.0 812.8L1907.9 812.8L1908.9 812.8L1909.9 812.8L1910.8 812.8L1911.8 812.8L1912.8 812.8L1913.7 812.8L1914.7 812.8L1915.6 812.8L1916.6 812.8L1917.5 812.8L1918.5 812.8L1919.4 812.8L1920.4 812.8L1921.3 812.7L1922.2 812.7L1923.2 812.7L1924.1 812.7L1925.0 812.7L1926.0 812.7L1926.9 812.7L1927.8 812.6L1928.7 812.6L1929.6 812.6L1930.5 812.6L1931.4 812.6L1932.3 812.5L1933.2 812.5L1934.1 812.5L1935.0 812.5L1935.8 812.4L1936.7 812.4L1937.5 812.4L1938.4 812.4L1939.2 812.3L1940.0 812.3L1940.8 812.3L1941.6 812.2L1942.3 812.2L1943.1 812.1L1943.8 812.1L1944.6 812.1L1945.3 812.0L1946.0 812.0L1946.7 811.9L1947.4 811.9L1948.0 811.8L1948.7 811.8L1949.3 811.7L1950.0 811.7L1950.6 811.6L1951.2 811.6L1951.8 811.5L1953.0 811.4L1954.1 811.3L1955.3 811.2L1956.4 811.1L1957.4 811.0L1958.4 810.8L1959.4 810.7L1960.4 810.6L1961.4 810.5L1962.3 810.4L1963.2 810.3L1964.0 810.1L1964.9 810.0L1965.7 809.9L1966.5 809.8L1967.2 809.6L1968.0 809.5L1968.7 809.4L1969.4 809.3L1970.1 809.1L1970.7 809.0L1971.4 808.9L1972.0 808.8L1972.9 808.6L1973.7 808.4L1974.6 808.2L1975.3 808.0L1976.1 807.8L1976.8 807.7L1977.4 807.5L1978.1 807.3L1978.7 807.1L1979.5 806.9L1980.2 806.6L1981.0 806.4L1981.7 806.1L1982.3 805.9L1983.0 805.7L1983.6 805.4L1984.3 805.2L1984.9 805.0L1985.6 804.8L1986.2 804.5L1986.9 804.3L1987.5 804.1L1988.2 803.9L1988.9 803.7L1989.5 803.5L1990.2 803.3L1990.9 803.1L1991.5 802.9L1992.2 802.7L1992.8 802.5L1993.5 802.3L1994.1 802.1L1994.7 801.9L1995.4 801.7L1996.0 801.6L1996.7 801.3L1997.4 801.1L1998.1 800.9L1998.8 800.7L1999.5 800.5L2000.1 800.3L2000.7 800.1L2001.4 799.9L2002.1 799.7L2002.8 799.5L2003.4 799.3L2004.1 799.1L2004.7 798.9L2005.3 798.7L2006.0 798.5L2006.7 798.4L2007.4 798.2L2008.0 798.1L2008.7 798.1L2009.4 798.1L2010.0 798.2L2010.7 798.2L2011.4 798.3L2012.0 798.3L2012.6 798.4L2013.3 798.5L2013.9 798.5L2014.6 798.6L2015.3 798.7L2016.0 798.8L2016.7 798.9L2017.4 799.1L2018.1 799.2L2018.8 799.3L2019.4 799.4L2020.0 799.5L2020.6 799.7L2021.2 799.8L2021.9 799.9L2022.5 800.0L2023.1 800.2L2023.7 800.3L2024.4 800.4L2025.0 800.6L2025.7 800.7L2026.3 800.9L2027.0 801.0L2027.6 801.2L2028.3 801.3L2029.0 801.5L2029.6 801.6L2030.3 801.8L2031.0 802.0L2031.7 802.1L2032.5 802.3L2033.2 802.5L2033.8 802.6L2034.4 802.8L2035.1 802.9L2035.7 803.1L2036.4 803.2L2037.1 803.4L2037.8 803.5L2038.5 803.6L2039.2 803.8L2039.9 803.9L2040.7 804.1L2041.5 804.2L2042.1 804.3L2042.7 804.5L2043.4 804.6L2044.0 804.7L2044.7 804.8L2045.4 804.9L2046.1 805.0L2046.8 805.1L2047.6 805.2L2048.4 805.3L2049.1 805.5L2049.9 805.6L2050.8 805.7L2051.6 805.8L2052.5 805.9L2053.4 806.0L2054.0 806.1L2054.6 806.1L2055.3 806.2L2055.9 806.3L2056.6 806.3L2057.3 806.4L2057.9 806.5L2058.6 806.5L2059.3 806.6L2060.1 806.7L2060.8 806.7L2061.5 806.8L2062.3 806.9L2063.1 806.9L2063.9 807.0L2064.6 807.1L2065.5 807.1L2066.3 807.2L2067.1 807.2L2068.0 807.3L2068.8 807.4L2069.7 807.4L2070.6 807.5L2071.5 807.5L2072.4 807.6L2073.4 807.6L2074.3 807.7L2075.3 807.7L2076.3 807.8L2077.2 807.8L2078.3 807.9L2079.3 807.9L2080.3 807.9L2081.4 808.0L2082.5 808.0L2083.6 808.1L2084.7 808.1L2085.8 808.1L2086.9 808.2L2088.1 808.2L2089.3 808.2L2090.4 808.2L2091.1 808.3L2091.7 808.3L2092.3 808.3L2092.9 808.3L2093.5 808.3L2094.1 808.3L2094.8 808.3L2095.4 808.3L2096.0 808.3L2096.7 808.3L2097.3 808.3L2098.0 808.4L2098.6 808.4L2099.3 808.4L2100.0 808.4L2100.6 808.4L2101.3 808.4L2102.0 808.4L2102.7 808.4L2103.4 808.4L2104.1 808.4L2104.8 808.4" fill="none" stroke="#6060b0" stroke-width="3.6" stroke-linejoin="round" stroke-linecap="round"/>
<path d="M1853.8 813.2L1854.9 813.2L1856.1 813.2L1857.2 813.2L1858.4 813.2L1859.5 813.2L1860.6 813.2L1861.7 813.2L1862.8 813.2L1863.9 813.2L1865.0 813.2L1866.1 813.2L1867.2 813.2L1868.2 813.2L1869.3 813.2L1870.4 813.2L1871.5 813.2L1872.5 813.1L1873.6 813.1L1874.7 813.1L1875.8 813.1L1876.9 813.1L1878.0 813.1L1879.1 813.1L1880.2 813.1L1881.3 813.0L1882.4 813.0L1883.5 813.0L1884.6 813.0L1885.7 813.0L1886.8 813.0L1887.9 813.0L1889.0 812.9L1890.2 812.9L1891.3 812.9L1892.4 812.9L1893.5 812.9L1894.6 812.9L1895.7 812.8L1896.8 812.8L1897.8 812.8L1898.9 812.8L1900.0 812.8L1901.0 812.7L1902.1 812.7L1903.1 812.7L1904.1 812.7L1905.2 812.6L1906.2 812.6L1907.2 812.6L1908.1 812.6L1909.1 812.5L1910.1 812.5L1911.0 812.5L1911.9 812.5L1912.8 812.4L1913.7 812.4L1914.6 812.4L1915.5 812.3L1916.3 812.3L1917.1 812.2L1918.0 812.2L1918.7 812.2L1919.5 812.1L1920.3 812.1L1921.0 812.0L1921.7 812.0L1922.4 812.0L1923.1 811.9L1923.8 811.9L1924.4 811.8L1925.1 811.8L1925.7 811.7L1926.3 811.7L1927.2 811.6L1928.1 811.5L1928.9 811.4L1929.7 811.3L1930.5 811.3L1931.2 811.2L1931.9 811.1L1932.6 811.0L1933.3 810.9L1934.0 810.8L1934.6 810.7L1935.2 810.7L1936.0 810.5L1936.8 810.4L1937.5 810.3L1938.2 810.2L1938.9 810.0L1939.6 809.9L1940.2 809.8L1940.8 809.7L1941.4 809.6L1942.2 809.4L1942.9 809.3L1943.6 809.1L1944.2 809.0L1944.9 808.8L1945.5 808.7L1946.2 808.5L1946.8 808.4L1947.4 808.3L1948.0 808.1L1948.7 808.0L1949.3 807.9L1949.9 807.7L1950.5 807.6L1951.1 807.5L1951.8 807.4L1952.5 807.3L1953.2 807.1L1953.9 807.0L1954.7 806.9L1955.4 806.8L1956.1 806.7L1956.8 806.6L1957.5 806.5L1958.1 806.4L1958.8 806.3L1959.5 806.3L1960.2 806.2L1960.8 806.2L1961.5 806.1L1962.2 806.1L1962.8 806.0L1963.5 806.0L1964.1 806.0L1964.7 806.0L1965.3 806.1L1966.0 806.1L1966.6 806.1L1967.3 806.2L1967.9 806.2L1968.6 806.3L1969.2 806.3L1969.9 806.4L1970.6 806.4L1971.2 806.5L1971.9 806.6L1972.5 806.6L1973.1 806.7L1973.8 806.8L1974.5 806.8L1975.1 806.9L1975.8 807.0L1976.5 807.0L1977.3 807.1L1977.9 807.2L1978.5 807.3L1979.1 807.3L1979.7 807.4L1980.4 807.5L1981.0 807.6L1981.7 807.6L1982.3 807.7L1983.0 807.8L1983.7 807.9L1984.4 808.0L1985.1 808.0L1985.8 808.1L1986.6 808.2L1987.3 808.3L1987.9 808.4L1988.6 808.4L1989.2 808.5L1989.8 808.6L1990.5 808.6L1991.1 808.7L1991.8 808.8L1992.5 808.8L1993.2 808.9L1993.9 809.0L1994.6 809.0L1995.4 809.1L1996.1 809.2L1996.9 809.2L1997.7 809.3L1998.3 809.3L1998.9 809.4L1999.5 809.4L2000.2 809.5L2000.8 809.5L2001.5 809.6L2002.1 809.6L2002.8 809.7L2003.5 809.7L2004.2 809.7L2004.9 809.8L2005.6 809.8L2006.4 809.9L2007.1 809.9L2007.9 809.9L2008.7 810.0L2009.4 810.0L2010.2 810.1L2011.1 810.1L2011.9 810.1L2012.7 810.2L2013.6 810.2L2014.4 810.2L2015.3 810.3L2016.2 810.3L2017.1 810.3L2017.7 810.3L2018.3 810.3L2018.9 810.4L2019.6 810.4L2020.2 810.4L2020.8 810.4L2021.5 810.4L2022.1 810.4L2022.8 810.4L2023.4 810.5L2024.1 810.5L2024.8 810.5L2025.5 810.5L2026.2 810.5L2026.8 810.5L2027.5 810.5L2028.2 810.5L2029.0 810.5L2029.7 810.5L2030.4 810.5L2031.1 810.5L2031.9 810.5L2032.6 810.5L2033.4 810.5L2034.1 810.5L2034.9 810.5L2035.6 810.5L2036.4 810.5" fill="none" stroke="#c83060" stroke-width="3.6" stroke-linejoin="round" stroke-linecap="round"/>
<path d="M1853.8 813.2L1854.4 813.2L1855.1 813.2L1855.8 813.2L1856.4 813.2L1857.1 813.2L1857.7 813.2L1858.4 813.2L1859.0 813.2L1859.7 813.2L1860.3 813.2L1861.0 813.3L1861.6 813.3L1862.2 813.3L1862.9 813.3L1863.5 813.3L1864.2 813.3L1864.8 813.3L1865.4 813.3L1866.0 813.3L1866.7 813.2L1867.3 813.2L1867.9 813.2L1868.5 813.2L1869.2 813.2L1869.8 813.2L1870.4 813.2L1871.0 813.2L1871.6 813.2L1872.2 813.2L1873.1 813.2L1874.0 813.2L1874.8 813.2L1875.7 813.1L1876.6 813.1L1877.4 813.1L1878.3 813.1L1879.1 813.1L1880.0 813.1L1880.8 813.0L1881.6 813.0L1882.4 813.0L1883.2 813.0L1884.0 812.9L1884.8 812.9L1885.5 812.9L1886.3 812.9L1887.1 812.8L1887.8 812.8L1888.5 812.8L1889.2 812.7L1890.0 812.7L1890.7 812.7L1891.3 812.6L1892.0 812.6L1892.7 812.6L1893.4 812.5L1894.0 812.5L1894.7 812.5L1895.3 812.4L1895.9 812.4L1896.5 812.4L1897.1 812.3L1897.9 812.3L1898.7 812.2L1899.5 812.2L1900.2 812.1L1901.0 812.1L1901.7 812.0L1902.4 812.0L1903.1 811.9L1903.8 811.8L1904.5 811.8L1905.1 811.7L1905.8 811.7L1906.4 811.6L1907.0 811.6L1907.6 811.5L1908.2 811.5L1909.0 811.4L1909.7 811.3L1910.4 811.3L1911.1 811.2L1911.8 811.1L1912.4 811.1L1913.1 811.0L1913.7 811.0L1914.3 810.9L1914.9 810.8L1915.7 810.8L1916.3 810.7L1917.0 810.6L1917.7 810.6L1918.3 810.5L1918.9 810.4L1919.5 810.4L1920.2 810.3L1920.9 810.2L1921.5 810.2L1922.2 810.1L1922.8 810.1L1923.4 810.0L1924.1 810.0L1924.7 809.9L1925.4 809.9L1926.0 809.9L1926.7 809.8L1927.3 809.8L1928.0 809.8L1928.7 809.8L1929.4 809.8L1930.0 809.9L1930.6 809.9L1931.3 809.9L1931.9 809.9L1932.5 809.9L1933.1 810.0L1933.7 810.0L1934.4 810.0L1935.0 810.0L1935.7 810.1L1936.4 810.1L1937.1 810.1L1937.7 810.2L1938.3 810.2L1938.9 810.2L1939.5 810.3L1940.2 810.3L1940.8 810.4L1941.5 810.4L1942.2 810.4L1942.9 810.5L1943.6 810.5L1944.3 810.6L1945.0 810.6L1945.6 810.6L1946.2 810.7L1946.9 810.7L1947.5 810.8L1948.1 810.8L1948.8 810.8L1949.4 810.9L1950.1 810.9L1950.8 810.9L1951.5 811.0L1952.2 811.0L1952.9 811.1L1953.6 811.1L1954.3 811.1L1955.1 811.2L1955.7 811.2L1956.3 811.2L1956.9 811.3L1957.5 811.3L1958.1 811.3L1958.8 811.4L1959.4 811.4L1960.1 811.4L1960.8 811.4L1961.4 811.5L1962.1 811.5L1962.8 811.5L1963.5 811.5L1964.2 811.6L1964.9 811.6L1965.7 811.6L1966.4 811.6L1967.2 811.6L1967.9 811.7L1968.7 811.7L1969.5 811.7L1970.3 811.7L1970.9 811.7L1971.5 811.7L1972.1 811.7L1972.7 811.7L1973.3 811.7L1974.0 811.8L1974.6 811.8L1975.2 811.8L1975.9 811.8L1976.6 811.8L1977.2 811.8L1977.9 811.8L1978.6 811.8L1979.3 811.8L1980.0 811.8L1980.7 811.8L1981.4 811.8L1982.1 811.8L1982.8 811.8L1983.6 811.7L1984.3 811.7" fill="none" stroke="#4a4a4a" stroke-width="3.6" stroke-linejoin="round" stroke-linecap="round"/>
<path d="M1918.1 431.4L1919.7 431.5L1921.2 431.6L1922.8 431.7L1924.4 431.7L1926.0 431.8L1927.5 431.8L1929.1 431.8L1930.7 431.8L1932.2 431.7L1933.8 431.7L1935.3 431.6L1936.9 431.6L1938.4 431.5L1940.0 431.4L1941.5 431.3L1943.1 431.2L1944.6 431.1L1946.2 430.9L1947.7 430.8L1949.3 430.7L1950.8 430.5L1952.3 430.3L1953.9 430.2L1955.4 430.0L1956.9 429.8L1958.5 429.7L1960.0 429.5L1961.5 429.3L1963.1 429.1L1964.6 428.9L1966.1 428.7L1967.6 428.5L1969.1 428.3L1970.6 428.1L1972.2 427.9L1973.7 427.8L1975.2 427.6L1976.7 427.4L1978.2 427.2L1979.7 427.0L1981.2 426.8L1982.7 426.7L1984.2 426.5L1985.7 426.3L1987.2 426.2L1988.7 426.0L1990.2 425.9L1991.6 425.7L1993.1 425.6L1994.6 425.5L1996.1 425.4L1997.6 425.3L1999.0 425.2L2000.5 425.1L2002.0 425.0L2003.5 424.9L2004.9 424.8L2006.4 424.7L2007.9 424.6L2009.3 424.5L2010.8 424.4L2012.2 424.3L2013.7 424.2L2015.1 424.0L2016.5 423.9L2018.0 423.7L2019.4 423.5L2020.8 423.3L2022.3 423.1L2023.7 422.9L2025.1 422.6L2026.5 422.3L2027.9 422.0L2029.3 421.7L2030.7 421.3L2032.1 421.0L2033.5 420.6L2034.9 420.2L2036.2 419.8L2037.6 419.4L2038.9 418.9L2040.3 418.5L2041.6 418.0L2042.9 417.6L2044.2 417.1L2045.5 416.5L2046.8 416.0L2048.0 415.4L2049.3 414.8L2050.5 414.2L2051.7 413.5L2052.9 412.8L2054.0 412.1L2055.1 411.4L2056.2 410.6L2057.3 409.8L2058.4 408.9L2059.5 408.1L2060.5 407.2L2061.5 406.3L2062.5 405.3L2063.5 404.4L2064.5 403.4L2065.4 402.5L2066.3 401.5L2067.3 400.4L2068.2 399.4L2069.1 398.4L2069.9 397.4L2070.8 396.3L2071.7 395.3L2072.5 394.2L2073.4 393.1L2074.2 392.1L2075.0 391.0L2075.8 389.9L2076.6 388.8L2077.3 387.7L2078.1 386.6L2078.9 385.5L2079.6 384.4L2080.3 383.3L2081.1 382.2L2081.8 381.1L2082.5 380.0L2083.2 378.8L2083.9 377.7L2084.5 376.6L2085.2 375.4L2085.9 374.3L2086.5 373.2L2087.1 372.0L2087.8 370.9L2088.4 369.7L2089.0 368.6L2089.6 367.4L2090.2 366.3L2090.7 365.1L2091.3 364.0L2091.9 362.8L2092.4 361.6L2093.0 360.5L2093.5 359.3L2094.0 358.1L2094.6 357.0L2095.1 355.8L2095.6 354.6L2096.1 353.5L2096.6 352.3L2097.0 351.1L2097.5 350.0L2098.0 348.8L2098.5 347.6L2098.9 346.5L2099.3 345.3L2099.8 344.1L2100.2 343.0L2100.6 341.8L2101.1 340.6L2101.5 339.4L2101.9 338.3L2102.3 337.1L2102.7 335.9L2103.0 334.8L2103.4 333.6L2103.8 332.5L2104.2 331.3L2104.5 330.1L2104.9 329.0L2105.2 327.8L2105.6 326.7L2105.9 325.5L2106.3 324.4L2106.6 323.2L2106.9 322.1L2107.2 320.9L2107.5 319.8L2107.9 318.6L2108.2 317.5L2108.5 316.4L2108.8 315.2L2109.1 314.1L2109.4 312.9L2109.7 311.8L2109.9 310.7L2110.2 309.6L2110.5 308.4L2110.8 307.3L2111.1 306.2L2111.3 305.1L2111.6 303.9L2111.9 302.8L2112.1 301.7L2112.4 300.6L2112.7 299.5L2112.9 298.4L2113.2 297.3L2113.4 296.2L2113.7 295.1L2114.0 294.0L2114.2 292.9L2114.5 291.8L2114.7 290.7L2115.0 289.6L2115.2 288.5L2115.5 287.5L2115.7 286.4L2116.0 285.3L2116.2 284.2L2116.4 283.2L2116.7 282.1L2116.9 281.0L2117.2 280.0L2117.4 278.9L2117.7 277.9L2117.9 276.8L2118.2 275.8L2118.4 274.7L2118.6 273.7L2118.9 272.6L2119.1 271.6L2119.4 270.6L2119.6 269.5L2119.9 268.5L2120.1 267.5L2120.4 266.5L2120.6 265.5L2120.9 264.4L2121.1 263.4L2121.4 262.4L2121.6 261.4L2121.9 260.4L2122.1 259.4L2122.4 258.4L2122.6 257.4L2122.9 256.5L2123.2 255.5L2123.4 254.5L2123.7 253.5L2123.9 252.5L2124.2 251.6L2124.4 250.6L2124.7 249.6L2124.9 248.7L2125.2 247.7L2125.4 246.8L2125.7 245.8L2125.9 244.9L2126.2 243.9L2126.5 243.0L2126.7 242.0L2127.0 241.1L2127.2 240.2L2127.5 239.2L2127.7 238.3L2128.0 237.4L2128.2 236.5L2128.5 235.6L2128.7 234.6L2129.0 233.7L2129.2 232.8L2129.4 231.9L2129.7 231.0L2129.9 230.1L2130.2 229.2L2130.4 228.3L2130.7 227.5L2130.9 226.6L2131.2 225.7L2131.4 224.8L2131.6 223.9L2131.9 223.1L2132.1 222.2L2132.4 221.3L2132.6 220.5L2132.8 219.6L2133.1 218.8L2133.3 217.9L2133.5 217.1L2133.8 216.2L2134.0 215.4L2134.2 214.6L2134.4 213.7L2134.7 212.9L2134.9 212.1L2135.1 211.3L2135.3 210.5L2135.6 209.6L2135.8 208.8L2136.0 208.0L2136.2 207.2L2136.4 206.4L2136.7 205.6L2136.9 204.8L2137.1 204.0L2137.3 203.3L2137.5 202.5L2137.7 201.7L2137.9 200.9L2138.2 200.2L2138.4 199.4L2138.6 198.6L2138.8 197.9L2139.0 197.1L2139.2 196.4L2139.4 195.6L2139.6 194.9L2139.8 194.1L2140.0 193.4L2140.2 192.7L2140.4 191.9L2140.6 191.2L2140.7 190.5L2140.9 189.8L2141.1 189.1L2141.3 188.4L2141.5 187.7L2141.7 187.0L2141.9 186.3L2142.0 185.6L2142.2 184.9L2142.4 184.2L2142.6 183.5L2142.8 182.9L2142.9 182.2L2143.1 181.5L2143.3 180.9L2143.5 180.2L2143.6 179.6L2143.8 178.9L2144.0 178.3L2144.1 177.6L2144.3 177.0L2144.5 176.4L2144.6 175.8L2144.8 175.1L2144.9 174.5L2145.1 173.9L2145.3 173.3L2145.6 172.1L2145.9 170.9L2146.2 169.8L2146.5 168.6L2146.8 167.5L2147.1 166.4L2147.3 165.4L2147.6 164.3L2147.9 163.3L2148.2 162.3L2148.4 161.3L2148.7 160.4L2149.0 159.5L2149.2 158.6L2149.5 157.7L2149.7 156.8L2150.0 156.0L2150.2 155.2L2150.5 154.5L2150.8 153.8L2151.0 153.1L2151.3 152.4L2151.5 151.8L2151.9 151.0L2152.3 150.3L2152.9 149.5L2153.8 149.1L2154.5 149.2L2155.1 149.4L2155.9 149.8L2156.6 150.3L2157.2 150.9L2157.9 151.6L2158.5 152.4L2159.0 153.0L2159.5 153.7L2160.0 154.4L2160.5 155.1L2161.0 155.8L2161.5 156.6L2162.0 157.5L2162.5 158.3L2163.0 159.2L2163.3 159.8L2163.7 160.4L2164.0 161.0L2164.4 161.7L2164.7 162.3L2165.1 163.0L2165.4 163.7L2165.8 164.4L2166.1 165.1L2166.5 165.8L2166.8 166.5L2167.2 167.2L2167.6 168.0L2167.9 168.8L2168.3 169.5L2168.6 170.3L2169.0 171.1L2169.4 171.9L2169.7 172.7L2170.1 173.6L2170.5 174.4L2170.8 175.3L2171.2 176.1L2171.6 177.0L2172.0 177.9L2172.3 178.8L2172.7 179.7L2173.1 180.6L2173.5 181.6L2173.8 182.5L2174.2 183.4L2174.6 184.4L2175.0 185.4L2175.4 186.4L2175.7 187.4L2176.1 188.4L2176.5 189.4L2176.9 190.4L2177.3 191.4L2177.7 192.5L2178.1 193.5L2178.4 194.6L2178.8 195.7L2179.2 196.7L2179.6 197.8L2180.0 198.9L2180.4 200.0L2180.8 201.2L2181.2 202.3L2181.6 203.4L2182.0 204.6L2182.4 205.7L2182.8 206.9L2183.2 208.1L2183.6 209.2L2184.0 210.4L2184.4 211.6L2184.6 212.2L2184.9 212.8L2185.1 213.4L2185.3 214.0L2185.5 214.7L2185.7 215.3L2185.9 215.9L2186.1 216.5L2186.3 217.1L2186.5 217.7L2186.7 218.4L2186.9 219.0L2187.2 219.6L2187.4 220.2L2187.6 220.9L2187.8 221.5L2188.0 222.1L2188.2 222.7L2188.5 223.4L2188.7 224.0L2188.9 224.7L2189.1 225.3L2189.3 225.9L2189.6 226.6L2189.8 227.2L2190.0 227.9L2190.2 228.5L2190.5 229.2L2190.7 229.8L2190.9 230.5L2191.1 231.1L2191.4 231.8L2191.6 232.4L2191.8 233.1L2192.1 233.8L2192.3 234.4L2192.5 235.1L2192.8 235.7L2193.0 236.4L2193.2 237.1L2193.5 237.7L2193.7 238.4L2194.0 239.1L2194.2 239.8L2194.5 240.4L2194.7 241.1L2194.9 241.8L2195.2 242.4L2195.4 243.1L2195.7 243.8L2196.0 244.5L2196.2 245.2L2196.5 245.8L2196.7 246.5L2197.0 247.2L2197.2 247.9L2197.5 248.6L2197.8 249.3L2198.0 249.9L2198.3 250.6L2198.6 251.3L2198.8 252.0L2199.1 252.7L2199.4 253.4L2199.7 254.1L2199.9 254.8L2200.2 255.5L2200.5 256.1L2200.8 256.8L2201.1 257.5L2201.4 258.2L2201.7 258.9L2201.9 259.6L2202.2 260.3L2202.5 261.0L2202.8 261.7L2203.1 262.4L2203.4 263.1L2203.7 263.8L2204.1 264.5L2204.4 265.2L2204.7 265.9L2205.0 266.6L2205.3 267.3L2205.6 268.0L2206.0 268.7L2206.3 269.4L2206.6 270.1L2206.9 270.8L2207.3 271.4L2207.6 272.1L2207.9 272.8L2208.3 273.5L2208.6 274.2L2209.0 274.9L2209.3 275.6L2209.7 276.3L2210.0 277.0L2210.4 277.7L2210.8 278.4L2211.1 279.1L2211.5 279.8L2211.9 280.5L2212.2 281.2L2212.6 281.9L2213.0 282.5L2213.4 283.2L2213.8 283.9L2214.2 284.6L2214.6 285.3L2215.0 286.0L2215.4 286.7L2215.8 287.3L2216.2 288.0L2216.6 288.7L2217.0 289.4L2217.4 290.1L2217.8 290.7L2218.3 291.4L2218.7 292.1L2219.1 292.8L2219.6 293.4L2220.0 294.1L2220.5 294.8L2220.9 295.5L2221.4 296.1L2221.9 296.8L2222.3 297.5L2222.8 298.1L2223.3 298.8L2223.7 299.4L2224.2 300.1L2224.7 300.7L2225.2 301.4L2225.7 302.0L2226.2 302.7L2226.7 303.3L2227.2 304.0L2227.7 304.6L2228.2 305.2L2228.8 305.9L2229.3 306.5L2229.8 307.1L2230.4 307.8L2230.9 308.4L2231.4 309.0L2232.0 309.6L2232.5 310.2L2233.1 310.9L2233.7 311.5L2234.2 312.1L2234.8 312.7L2236.0 313.9L2237.1 315.0L2238.3 316.2L2239.0 316.8L2239.6 317.3L2240.2 317.9L2240.8 318.5L2241.4 319.0L2242.1 319.6L2242.7 320.1L2243.3 320.7L2244.0 321.2L2244.7 321.7L2245.3 322.3L2246.0 322.8L2246.6 323.3L2247.3 323.8L2248.0 324.3L2248.7 324.8L2249.4 325.3L2250.1 325.8L2250.8 326.3L2251.5 326.8L2252.2 327.3L2252.9 327.7L2253.7 328.2L2254.4 328.6L2255.1 329.1L2255.9 329.5L2256.6 330.0L2257.4 330.4L2258.1 330.8L2258.9 331.3L2259.7 331.7L2260.4 332.1L2261.2 332.5L2262.0 332.9L2262.8 333.2L2263.6 333.6L2264.4 334.0L2265.2 334.4L2266.1 334.7L2266.9 335.1L2267.7 335.4L2268.6 335.7L2269.4 336.1L2270.3 336.4L2271.1 336.7L2272.0 337.0L2272.8 337.3L2273.7 337.6L2274.6 337.8L2275.5 338.1L2276.4 338.4L2277.3 338.6L2278.2 338.8L2279.1 339.1L2280.1 339.3L2281.0 339.5L2281.9 339.7L2282.9 339.9L2283.8 340.1L2284.8 340.3L2285.7 340.4L2286.7 340.6L2287.7 340.7L2288.7 340.8L2289.7 341.0L2290.7 341.1L2291.7 341.2L2292.7 341.3L2293.7 341.4L2294.7 341.4L2295.8 341.5L2296.8 341.5L2297.9 341.6L2298.9 341.6L2300.0 341.6" fill="none" stroke="#6a6a6a" stroke-width="2.6" stroke-linejoin="round" stroke-linecap="round"/>
<path d="M1918.1 431.4L1919.0 431.5L1919.9 431.6L1920.8 431.7L1921.6 431.8L1922.5 431.8L1923.4 431.9L1924.2 431.9L1925.1 432.0L1925.9 432.0L1926.8 432.0L1927.6 432.1L1928.5 432.1L1929.3 432.1L1930.2 432.1L1931.0 432.0L1931.8 432.0L1932.7 432.0L1933.5 432.0L1934.3 431.9L1935.2 431.9L1936.0 431.8L1936.8 431.8L1937.6 431.7L1938.5 431.6L1939.3 431.5L1940.1 431.5L1940.9 431.4L1941.7 431.3L1942.6 431.2L1943.4 431.1L1944.2 431.0L1945.0 430.9L1945.8 430.8L1946.7 430.7L1947.5 430.6L1948.3 430.5L1949.1 430.4L1949.9 430.3L1950.8 430.1L1951.6 430.0L1952.4 429.9L1953.2 429.8L1954.1 429.7L1954.9 429.5L1955.7 429.4L1956.6 429.3L1957.4 429.2L1958.2 429.0L1959.1 428.9L1959.9 428.8L1960.8 428.7L1961.6 428.5L1962.4 428.4L1963.3 428.3L1964.1 428.1L1965.0 428.0L1965.8 427.9L1966.7 427.7L1967.5 427.6L1968.4 427.5L1969.2 427.3L1970.1 427.2L1970.9 427.1L1971.8 426.9L1972.6 426.8L1973.5 426.6L1974.3 426.5L1975.1 426.3L1976.0 426.2L1976.8 426.0L1977.7 425.9L1978.5 425.7L1979.3 425.6L1980.2 425.4L1981.0 425.2L1981.8 425.1L1982.7 424.9L1983.5 424.7L1984.3 424.5L1985.1 424.3L1985.9 424.2L1986.8 424.0L1987.6 423.8L1988.4 423.6L1989.2 423.4L1990.0 423.2L1990.8 423.0L1991.6 422.8L1992.4 422.6L1993.2 422.4L1993.9 422.1L1994.7 421.9L1995.5 421.7L1996.3 421.5L1997.0 421.2L1997.8 421.0L1998.6 420.7L1999.3 420.5L2000.1 420.2L2000.8 420.0L2001.5 419.7L2002.3 419.5L2003.0 419.2L2003.7 418.9L2004.4 418.6L2005.2 418.4L2005.9 418.1L2006.6 417.8L2007.3 417.5L2007.9 417.2L2008.6 416.9L2009.3 416.6L2010.0 416.3L2010.6 415.9L2011.3 415.6L2012.0 415.3L2012.6 414.9L2013.2 414.6L2013.9 414.3L2014.5 413.9L2015.1 413.5L2015.7 413.2L2016.3 412.8L2017.5 412.1L2018.7 411.3L2019.8 410.5L2020.9 409.7L2022.0 408.9L2023.1 408.0L2024.1 407.1L2025.1 406.2L2026.1 405.3L2027.1 404.4L2028.0 403.5L2028.9 402.5L2029.8 401.6L2030.7 400.6L2031.6 399.6L2032.4 398.6L2033.2 397.6L2034.0 396.5L2034.8 395.5L2035.5 394.4L2036.3 393.4L2037.0 392.3L2037.7 391.2L2038.4 390.1L2039.1 389.0L2039.8 387.9L2040.4 386.8L2041.1 385.7L2041.7 384.6L2042.3 383.5L2042.9 382.4L2043.5 381.2L2044.1 380.1L2044.7 379.0L2045.2 377.8L2045.8 376.7L2046.3 375.5L2046.8 374.4L2047.3 373.2L2047.9 372.1L2048.4 370.9L2048.9 369.8L2049.3 368.6L2049.8 367.5L2050.3 366.4L2050.8 365.2L2051.2 364.1L2051.7 362.9L2052.1 361.8L2052.6 360.7L2053.0 359.6L2053.4 358.4L2053.9 357.3L2054.3 356.2L2054.7 355.1L2055.1 354.0L2055.5 352.9L2055.9 351.8L2056.3 350.7L2056.7 349.6L2057.1 348.6L2057.5 347.5L2057.9 346.4L2058.3 345.4L2058.7 344.3L2059.1 343.3L2059.5 342.3L2059.8 341.2L2060.2 340.2L2060.6 339.2L2061.0 338.2L2061.4 337.2L2061.7 336.2L2062.1 335.3L2062.5 334.3L2062.8 333.4L2063.2 332.4L2063.6 331.5L2063.9 330.6L2064.3 329.6L2064.7 328.7L2065.1 327.8L2065.4 327.0L2065.8 326.1L2066.1 325.2L2066.5 324.4L2066.9 323.5L2067.2 322.7L2067.6 321.9L2068.0 321.1L2068.3 320.3L2068.7 319.5L2069.1 318.7L2069.4 318.0L2069.8 317.2L2070.2 316.5L2070.5 315.8L2070.9 315.1L2071.2 314.4L2071.6 313.7L2072.0 313.0L2072.3 312.3L2072.7 311.7L2073.0 311.0L2073.4 310.4L2073.7 309.8L2074.1 309.2L2074.6 308.3L2075.2 307.4L2075.7 306.6L2076.2 305.8L2076.7 305.1L2077.2 304.3L2077.8 303.6L2078.3 302.9L2078.8 302.3L2079.3 301.7L2080.0 300.9L2080.6 300.2L2081.3 299.5L2082.0 298.9L2082.7 298.4L2083.4 298.0L2084.2 297.7L2085.0 297.5L2085.8 297.5L2086.4 297.6L2087.1 297.8L2087.7 298.0L2088.4 298.4L2089.1 298.8L2089.8 299.3L2090.5 299.8L2091.2 300.4L2091.9 301.0L2092.6 301.7L2093.3 302.4L2094.1 303.2L2094.7 303.8L2095.3 304.4L2095.9 305.1L2096.5 305.8L2097.1 306.5L2097.8 307.3L2098.4 308.0L2099.1 308.8L2099.5 309.5L2100.0 310.1L2100.5 310.7L2101.1 311.4L2101.6 312.0L2102.1 312.7L2102.6 313.4L2103.1 314.1L2103.7 314.8L2104.2 315.5L2104.7 316.2L2105.3 317.0L2105.8 317.7L2106.4 318.5L2106.9 319.3L2107.5 320.0L2108.0 320.8L2108.6 321.6L2109.2 322.4L2109.8 323.3L2110.3 324.1L2110.9 324.9L2111.5 325.8L2112.1 326.6L2112.7 327.5L2113.3 328.4L2113.9 329.3L2114.5 330.2L2115.2 331.0L2115.6 331.7L2116.0 332.3L2116.4 332.9L2116.9 333.5L2117.3 334.1L2117.7 334.7L2118.2 335.3L2118.6 335.9L2119.0 336.6L2119.5 337.2L2119.9 337.8L2120.4 338.4L2120.8 339.1L2121.3 339.7L2121.8 340.3L2122.2 340.9L2122.7 341.6L2123.2 342.2L2123.7 342.9L2124.1 343.5L2124.6 344.1L2125.1 344.8L2125.6 345.4L2126.1 346.0L2126.6 346.7L2127.1 347.3L2127.6 347.9L2128.1 348.6L2128.6 349.2L2129.2 349.9L2129.7 350.5L2130.2 351.1L2130.8 351.8L2131.3 352.4L2131.9 353.0L2132.4 353.6L2133.0 354.3L2133.5 354.9L2134.1 355.5L2134.7 356.1L2135.3 356.7L2135.9 357.4L2136.5 358.0L2137.1 358.6L2137.7 359.2L2138.3 359.8L2138.9 360.4L2139.5 361.0L2140.2 361.5L2140.8 362.1L2141.5 362.7L2142.1 363.3L2142.8 363.8L2143.5 364.4L2144.2 364.9L2144.9 365.5L2145.6 366.0L2146.3 366.6L2147.0 367.1L2147.7 367.6L2148.4 368.2L2149.2 368.7L2149.9 369.2L2150.7 369.7L2151.4 370.2L2152.2 370.6L2153.0 371.1L2153.8 371.6L2154.6 372.0L2155.4 372.5L2156.2 372.9L2157.0 373.4L2157.8 373.8L2158.7 374.2L2159.5 374.6L2160.4 375.0L2161.2 375.4L2162.1 375.8L2163.0 376.2L2163.9 376.5L2164.8 376.9L2165.7 377.2L2166.6 377.6L2167.5 377.9L2168.5 378.2L2169.4 378.5L2170.4 378.8L2171.3 379.1L2172.3 379.3L2173.3 379.6L2174.3 379.8L2175.2 380.1L2176.3 380.3L2177.3 380.5L2178.3 380.7L2179.3 380.8L2180.4 381.0L2181.4 381.2L2182.5 381.3L2183.6 381.4L2184.7 381.5L2185.7 381.6L2186.8 381.7L2188.0 381.8L2189.1 381.8L2190.2 381.9L2191.3 381.9L2192.5 381.9L2193.7 381.9L2194.8 381.9L2196.0 381.8" fill="none" stroke="#e05a86" stroke-width="2.6" stroke-linejoin="round" stroke-linecap="round"/>
<path d="M1918.1 431.4L1919.1 431.6L1920.1 431.8L1921.1 431.9L1922.1 432.1L1923.1 432.2L1924.1 432.3L1925.1 432.4L1926.1 432.5L1927.1 432.6L1928.0 432.7L1929.0 432.7L1930.0 432.8L1931.0 432.8L1931.9 432.8L1932.9 432.8L1933.9 432.8L1934.8 432.8L1935.8 432.8L1936.8 432.8L1937.7 432.7L1938.7 432.7L1939.6 432.6L1940.5 432.5L1941.5 432.4L1942.4 432.3L1943.3 432.2L1944.3 432.1L1945.2 432.0L1946.1 431.8L1947.0 431.7L1947.9 431.5L1948.8 431.3L1949.7 431.1L1950.6 431.0L1951.5 430.8L1952.4 430.6L1953.2 430.3L1954.1 430.1L1955.0 429.9L1955.8 429.6L1956.7 429.4L1957.5 429.1L1958.4 428.9L1959.2 428.6L1960.0 428.3L1960.8 428.0L1961.7 427.7L1962.5 427.4L1963.3 427.1L1964.1 426.8L1964.9 426.5L1965.6 426.1L1966.4 425.8L1967.2 425.4L1968.0 425.1L1968.7 424.7L1969.5 424.4L1970.2 424.0L1971.0 423.6L1971.7 423.2L1972.4 422.8L1973.1 422.4L1973.9 422.0L1974.6 421.6L1975.3 421.2L1975.9 420.8L1976.6 420.4L1977.3 420.0L1978.0 419.5L1978.7 419.1L1979.3 418.6L1980.0 418.2L1980.6 417.8L1981.3 417.3L1981.9 416.8L1982.5 416.4L1983.1 415.9L1983.8 415.5L1984.4 415.0L1985.0 414.5L1985.9 413.8L1986.8 413.1L1987.6 412.3L1988.5 411.6L1989.3 410.9L1990.2 410.1L1991.0 409.4L1991.8 408.7L1992.6 407.9L1993.4 407.2L1994.2 406.4L1994.9 405.7L1995.7 404.9L1996.5 404.2L1997.2 403.4L1997.9 402.7L1998.6 401.9L1999.4 401.1L2000.0 400.4L2000.7 399.6L2001.4 398.9L2002.1 398.2L2002.8 397.4L2003.4 396.7L2004.1 395.9L2004.7 395.2L2005.3 394.5L2005.9 393.8L2006.5 393.0L2007.2 392.3L2007.7 391.6L2008.3 390.9L2008.9 390.2L2009.5 389.5L2010.1 388.9L2010.6 388.2L2011.2 387.5L2011.7 386.8L2012.2 386.2L2012.8 385.5L2013.3 384.9L2013.8 384.2L2014.3 383.6L2014.8 383.0L2015.3 382.4L2015.8 381.8L2016.4 381.0L2017.1 380.2L2017.7 379.5L2018.3 378.7L2018.9 378.0L2019.5 377.3L2020.1 376.6L2020.6 376.0L2021.2 375.3L2021.7 374.7L2022.3 374.1L2023.0 373.4L2023.6 372.7L2024.3 372.0L2024.9 371.4L2025.6 370.8L2026.2 370.3L2026.8 369.8L2027.5 369.4L2028.2 369.0L2028.9 368.7L2029.6 368.6L2030.2 368.5L2031.0 368.5L2031.7 368.6L2032.4 368.7L2033.1 368.8L2033.8 369.0L2034.4 369.2L2035.1 369.4L2035.7 369.7L2036.4 369.9L2037.1 370.2L2037.7 370.5L2038.4 370.9L2039.1 371.2L2039.7 371.6L2040.4 372.0L2041.1 372.4L2041.9 372.8L2042.6 373.2L2043.3 373.7L2044.1 374.1L2044.7 374.5L2045.3 374.9L2045.9 375.3L2046.5 375.7L2047.1 376.2L2047.8 376.6L2048.4 377.0L2049.1 377.5L2049.7 378.0L2050.4 378.4L2051.1 378.9L2051.8 379.4L2052.4 379.9L2053.1 380.4L2053.8 380.9L2054.6 381.5L2055.3 382.0L2056.0 382.5L2056.7 383.1L2057.5 383.6L2058.2 384.2L2059.0 384.7L2059.7 385.3L2060.5 385.9L2061.3 386.4L2062.1 387.0L2062.9 387.6L2063.5 388.0L2064.1 388.5L2064.7 388.9L2065.3 389.3L2065.9 389.8L2066.5 390.2L2067.2 390.6L2067.8 391.1L2068.5 391.5L2069.1 391.9L2069.8 392.4L2070.4 392.8L2071.1 393.2L2071.8 393.6L2072.4 394.1L2073.1 394.5L2073.8 394.9L2074.5 395.3L2075.2 395.7L2075.9 396.1L2076.7 396.5L2077.4 396.9L2078.1 397.3L2078.9 397.7L2079.6 398.1L2080.4 398.5L2081.1 398.8L2081.9 399.2L2082.7 399.5L2083.5 399.9L2084.3 400.2L2085.1 400.5L2085.9 400.9L2086.7 401.2L2087.5 401.5L2088.3 401.8L2089.2 402.1L2090.0 402.3L2090.9 402.6L2091.8 402.8L2092.6 403.1L2093.5 403.3L2094.4 403.5L2095.0 403.7L2095.6 403.8L2096.2 403.9L2096.9 404.1L2097.5 404.2L2098.1 404.3L2098.7 404.4L2099.4 404.5L2100.0 404.6L2100.6 404.6L2101.3 404.7L2101.9 404.8L2102.6 404.9L2103.2 404.9L2103.9 405.0L2104.6 405.0L2105.2 405.0L2105.9 405.0L2106.6 405.1L2107.3 405.1L2108.0 405.1L2108.7 405.1L2109.4 405.0L2110.1 405.0L2110.8 405.0L2111.5 404.9L2112.3 404.9L2113.0 404.8L2113.7 404.7L2114.5 404.7L2115.2 404.6L2116.0 404.5L2116.7 404.4" fill="none" stroke="#6a6a6a" stroke-width="2.6" stroke-linejoin="round" stroke-linecap="round"/>
<line x1="504" y1="76.7" x2="603.5" y2="76.7" stroke="#505050" stroke-width="4"/>
<text x="610" y="94.4" font-size="55" fill="#161616">1.31</text>
<line x1="504" y1="129.4" x2="603.5" y2="129.4" stroke="#c0406a" stroke-width="4"/>
<text x="610" y="147.5" font-size="55" fill="#161616">1.32</text>
<line x1="504" y1="182.0" x2="603.5" y2="182.0" stroke="#5a5aa0" stroke-width="4"/>
<text x="610" y="200.6" font-size="55" fill="#161616">1.33</text>
<line x1="504" y1="234.7" x2="603.5" y2="234.7" stroke="#5aa090" stroke-width="4"/>
<text x="610" y="253.7" font-size="55" fill="#161616">1.34</text>
<line x1="504" y1="287.4" x2="603.5" y2="287.4" stroke="#7a7a7a" stroke-width="4"/>
<text x="610" y="306.8" font-size="55" fill="#161616">1.35</text>
<line x1="504" y1="340.1" x2="603.5" y2="340.1" stroke="#9aa030" stroke-width="4"/>
<text x="610" y="359.9" font-size="55" fill="#161616">1.36</text>
<line x1="504" y1="392.7" x2="603.5" y2="392.7" stroke="#5ab8a8" stroke-width="4"/>
<text x="610" y="413.0" font-size="55" fill="#161616">1.37</text>
<line x1="504" y1="445.4" x2="603.5" y2="445.4" stroke="#4a4a4a" stroke-width="4"/>
<text x="610" y="466.1" font-size="55" fill="#161616">1.38</text>
<line x1="504" y1="498.1" x2="603.5" y2="498.1" stroke="#8a9a20" stroke-width="4"/>
<text x="610" y="519.2" font-size="55" fill="#161616">1.39</text>
<line x1="504" y1="550.7" x2="603.5" y2="550.7" stroke="#e05a3a" stroke-width="4"/>
<text x="610" y="572.3" font-size="55" fill="#161616">1.40</text>
<line x1="2562.5" y1="358.9" x2="2654.2" y2="358.9" stroke="#4a4a4a" stroke-width="4.2"/>
<text x="2667.5" y="373.5" font-size="55" fill="#161616">1.34</text>
<line x1="2562.5" y1="407.8" x2="2654.2" y2="407.8" stroke="#c83060" stroke-width="4.2"/>
<text x="2667.5" y="423.0" font-size="55" fill="#161616">1.35</text>
<line x1="2562.5" y1="456.7" x2="2654.2" y2="456.7" stroke="#6060b0" stroke-width="4.2"/>
<text x="2667.5" y="472.5" font-size="55" fill="#161616">1.36</text>
<line x1="2562.5" y1="505.7" x2="2654.2" y2="505.7" stroke="#5a9a88" stroke-width="4.2"/>
<text x="2667.5" y="522.0" font-size="55" fill="#161616">1.37</text>
<line x1="2562.5" y1="554.6" x2="2654.2" y2="554.6" stroke="#707070" stroke-width="4.2"/>
<text x="2667.5" y="571.5" font-size="55" fill="#161616">1.38</text>
<line x1="2562.5" y1="603.5" x2="2654.2" y2="603.5" stroke="#a8b030" stroke-width="4.2"/>
<text x="2667.5" y="621.0" font-size="55" fill="#161616">1.39</text>
<line x1="2562.5" y1="652.4" x2="2654.2" y2="652.4" stroke="#40b8a0" stroke-width="4.2"/>
<text x="2667.5" y="670.5" font-size="55" fill="#161616">1.40</text>
<line x1="1944.7" y1="169.3" x2="1991.7" y2="169.3" stroke="#666" stroke-width="3"/>
<text x="2006.5" y="180.2" font-size="34.5" fill="#333333">1.34</text>
<line x1="1944.7" y1="194.4" x2="1991.7" y2="194.4" stroke="#e06088" stroke-width="3"/>
<text x="2006.5" y="205.8" font-size="34.5" fill="#333333">1.35</text>
<line x1="1944.7" y1="219.5" x2="1991.7" y2="219.5" stroke="#666" stroke-width="3"/>
<text x="2006.5" y="231.5" font-size="34.5" fill="#333333">1.36</text>
</svg></body></html>
